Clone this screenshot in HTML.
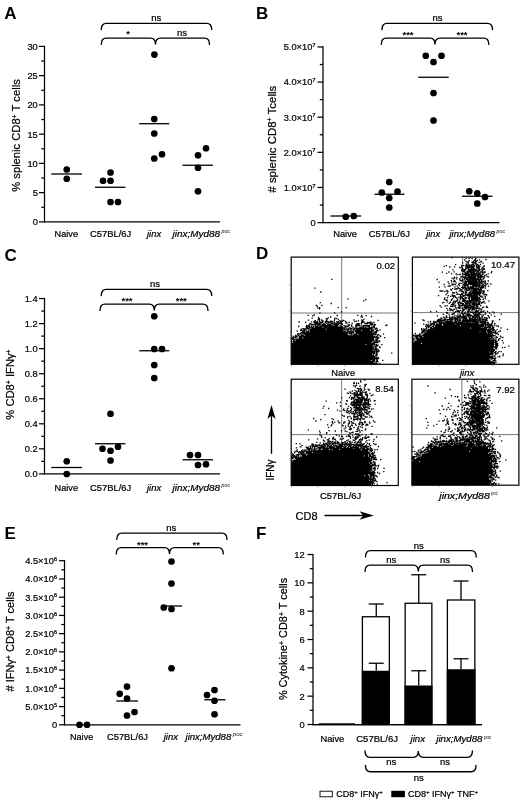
<!DOCTYPE html><html><head><meta charset="utf-8"><style>html,body{margin:0;padding:0;background:#fff}svg{display:block;will-change:transform}</style></head><body><svg width="520" height="801" viewBox="0 0 520 801" font-family="Liberation Sans, sans-serif"><rect width="520" height="801" fill="#fff"/><text x="4.20" y="19.00" font-size="17" text-anchor="start" font-weight="bold" font-style="normal" fill="#000">A</text>
<text x="255.90" y="19.00" font-size="17" text-anchor="start" font-weight="bold" font-style="normal" fill="#000">B</text>
<text x="4.40" y="260.60" font-size="17" text-anchor="start" font-weight="bold" font-style="normal" fill="#000">C</text>
<text x="255.90" y="259.20" font-size="17" text-anchor="start" font-weight="bold" font-style="normal" fill="#000">D</text>
<text x="4.40" y="539.00" font-size="17" text-anchor="start" font-weight="bold" font-style="normal" fill="#000">E</text>
<text x="255.90" y="539.00" font-size="17" text-anchor="start" font-weight="bold" font-style="normal" fill="#000">F</text>
<path d="M44.50,45.78L44.50,222.53" stroke="#000" stroke-width="1.25" fill="none"/>
<path d="M43.88,221.90L220.00,221.90" stroke="#000" stroke-width="1.25" fill="none"/>
<path d="M39.00,221.90L44.50,221.90" stroke="#000" stroke-width="1.25" fill="none"/>
<path d="M39.00,192.65L44.50,192.65" stroke="#000" stroke-width="1.25" fill="none"/>
<path d="M39.00,163.40L44.50,163.40" stroke="#000" stroke-width="1.25" fill="none"/>
<path d="M39.00,134.15L44.50,134.15" stroke="#000" stroke-width="1.25" fill="none"/>
<path d="M39.00,104.90L44.50,104.90" stroke="#000" stroke-width="1.25" fill="none"/>
<path d="M39.00,75.65L44.50,75.65" stroke="#000" stroke-width="1.25" fill="none"/>
<path d="M39.00,46.40L44.50,46.40" stroke="#000" stroke-width="1.25" fill="none"/>
<path d="M41.30,207.28L44.50,207.28" stroke="#000" stroke-width="1.25" fill="none"/>
<path d="M41.30,178.03L44.50,178.03" stroke="#000" stroke-width="1.25" fill="none"/>
<path d="M41.30,148.78L44.50,148.78" stroke="#000" stroke-width="1.25" fill="none"/>
<path d="M41.30,119.53L44.50,119.53" stroke="#000" stroke-width="1.25" fill="none"/>
<path d="M41.30,90.28L44.50,90.28" stroke="#000" stroke-width="1.25" fill="none"/>
<path d="M41.30,61.03L44.50,61.03" stroke="#000" stroke-width="1.25" fill="none"/>
<text x="37.80" y="225.25" font-size="9.3" text-anchor="end" font-weight="normal" font-style="normal" fill="#000" stroke="#000" stroke-width="0.22">0</text>
<text x="37.80" y="196.00" font-size="9.3" text-anchor="end" font-weight="normal" font-style="normal" fill="#000" stroke="#000" stroke-width="0.22">5</text>
<text x="37.80" y="166.75" font-size="9.3" text-anchor="end" font-weight="normal" font-style="normal" fill="#000" stroke="#000" stroke-width="0.22">10</text>
<text x="37.80" y="137.50" font-size="9.3" text-anchor="end" font-weight="normal" font-style="normal" fill="#000" stroke="#000" stroke-width="0.22">15</text>
<text x="37.80" y="108.25" font-size="9.3" text-anchor="end" font-weight="normal" font-style="normal" fill="#000" stroke="#000" stroke-width="0.22">20</text>
<text x="37.80" y="79.00" font-size="9.3" text-anchor="end" font-weight="normal" font-style="normal" fill="#000" stroke="#000" stroke-width="0.22">25</text>
<text x="37.80" y="49.75" font-size="9.3" text-anchor="end" font-weight="normal" font-style="normal" fill="#000" stroke="#000" stroke-width="0.22">30</text>
<text x="20.30" y="135.50" font-size="11.2" text-anchor="middle" font-weight="normal" font-style="normal" fill="#000" transform="rotate(-90 20.30 135.50)" stroke="#000" stroke-width="0.22">% splenic CD8<tspan font-size="7" dy="-3.5">+</tspan><tspan dy="3.5" font-size="1">&#8203;</tspan> T cells</text>
<circle cx="66.75" cy="169.50" r="3.35" fill="#000"/>
<circle cx="66.75" cy="178.75" r="3.35" fill="#000"/>
<circle cx="110.50" cy="172.50" r="3.35" fill="#000"/>
<circle cx="103.00" cy="180.75" r="3.35" fill="#000"/>
<circle cx="110.50" cy="180.75" r="3.35" fill="#000"/>
<circle cx="110.50" cy="202.00" r="3.35" fill="#000"/>
<circle cx="118.00" cy="202.00" r="3.35" fill="#000"/>
<circle cx="154.40" cy="54.60" r="3.35" fill="#000"/>
<circle cx="154.25" cy="119.00" r="3.35" fill="#000"/>
<circle cx="154.25" cy="133.50" r="3.35" fill="#000"/>
<circle cx="154.25" cy="158.50" r="3.35" fill="#000"/>
<circle cx="162.00" cy="154.25" r="3.35" fill="#000"/>
<circle cx="206.00" cy="148.25" r="3.35" fill="#000"/>
<circle cx="198.00" cy="155.25" r="3.35" fill="#000"/>
<circle cx="198.00" cy="167.75" r="3.35" fill="#000"/>
<circle cx="198.00" cy="191.25" r="3.35" fill="#000"/>
<path d="M51.25,174.00L82.00,174.00" stroke="#000" stroke-width="1.3" fill="none"/>
<path d="M95.00,187.25L125.50,187.25" stroke="#000" stroke-width="1.3" fill="none"/>
<path d="M139.25,123.70L169.25,123.70" stroke="#000" stroke-width="1.3" fill="none"/>
<path d="M182.50,165.25L213.00,165.25" stroke="#000" stroke-width="1.3" fill="none"/>
<path d="M101.3,29.6Q101.3,23.3 106.3,23.3L206.7,23.3Q211.7,23.3 211.7,29.6" stroke="#000" stroke-width="1.35" fill="none" stroke-linecap="round"/>
<path d="M101.3,44.4Q101.3,38.1 106.3,38.1L150.5,38.1Q155.5,38.1 155.5,44.4Q155.5,38.1 160.5,38.1L204.5,38.1Q209.5,38.1 209.5,44.4" stroke="#000" stroke-width="1.35" fill="none" stroke-linecap="round"/>
<text x="156.30" y="21.20" font-size="9.5" text-anchor="middle" font-weight="normal" font-style="normal" fill="#000" stroke="#000" stroke-width="0.22">ns</text>
<text x="182.00" y="36.00" font-size="9.5" text-anchor="middle" font-weight="normal" font-style="normal" fill="#000" stroke="#000" stroke-width="0.22">ns</text>
<text x="128.00" y="37.30" font-size="9.5" text-anchor="middle" font-weight="bold" font-style="normal" fill="#000">*</text>
<text x="54.50" y="236.60" font-size="9.3" text-anchor="start" font-weight="normal" font-style="normal" fill="#000" textLength="23.50" lengthAdjust="spacingAndGlyphs" stroke="#000" stroke-width="0.22">Naive</text>
<text x="90.00" y="236.60" font-size="9.3" text-anchor="start" font-weight="normal" font-style="normal" fill="#000" textLength="41.25" lengthAdjust="spacingAndGlyphs" stroke="#000" stroke-width="0.22">C57BL/6J</text>
<text x="147.00" y="236.60" font-size="9.3" text-anchor="start" font-weight="normal" font-style="italic" fill="#000" textLength="14.25" lengthAdjust="spacingAndGlyphs" stroke="#000" stroke-width="0.22">jinx</text>
<text x="172.50" y="236.60" font-size="9.3" text-anchor="start" font-weight="normal" font-style="italic" fill="#000" textLength="47.50" lengthAdjust="spacingAndGlyphs" stroke="#000" stroke-width="0.22">jinx;Myd88</text>
<text x="221.60" y="233.00" font-size="5" text-anchor="start" font-weight="normal" font-style="italic" fill="#000" textLength="8.40" lengthAdjust="spacingAndGlyphs">poc</text>
<path d="M323.00,46.32L323.00,223.22" stroke="#000" stroke-width="1.25" fill="none"/>
<path d="M322.38,222.60L499.50,222.60" stroke="#000" stroke-width="1.25" fill="none"/>
<path d="M317.50,222.60L323.00,222.60" stroke="#000" stroke-width="1.25" fill="none"/>
<path d="M317.50,187.47L323.00,187.47" stroke="#000" stroke-width="1.25" fill="none"/>
<path d="M317.50,152.34L323.00,152.34" stroke="#000" stroke-width="1.25" fill="none"/>
<path d="M317.50,117.21L323.00,117.21" stroke="#000" stroke-width="1.25" fill="none"/>
<path d="M317.50,82.08L323.00,82.08" stroke="#000" stroke-width="1.25" fill="none"/>
<path d="M317.50,46.95L323.00,46.95" stroke="#000" stroke-width="1.25" fill="none"/>
<path d="M319.80,205.03L323.00,205.03" stroke="#000" stroke-width="1.25" fill="none"/>
<path d="M319.80,169.90L323.00,169.90" stroke="#000" stroke-width="1.25" fill="none"/>
<path d="M319.80,134.77L323.00,134.77" stroke="#000" stroke-width="1.25" fill="none"/>
<path d="M319.80,99.64L323.00,99.64" stroke="#000" stroke-width="1.25" fill="none"/>
<path d="M319.80,64.51L323.00,64.51" stroke="#000" stroke-width="1.25" fill="none"/>
<text x="315.70" y="225.95" font-size="9.3" text-anchor="end" font-weight="normal" font-style="normal" fill="#000" stroke="#000" stroke-width="0.22">0</text>
<text x="315.70" y="190.82" font-size="9.3" text-anchor="end" font-weight="normal" font-style="normal" fill="#000" stroke="#000" stroke-width="0.22">1.0×10<tspan font-size="6" dy="-3.2">7</tspan><tspan dy="3.2" font-size="1">&#8203;</tspan></text>
<text x="315.70" y="155.69" font-size="9.3" text-anchor="end" font-weight="normal" font-style="normal" fill="#000" stroke="#000" stroke-width="0.22">2.0×10<tspan font-size="6" dy="-3.2">7</tspan><tspan dy="3.2" font-size="1">&#8203;</tspan></text>
<text x="315.70" y="120.56" font-size="9.3" text-anchor="end" font-weight="normal" font-style="normal" fill="#000" stroke="#000" stroke-width="0.22">3.0×10<tspan font-size="6" dy="-3.2">7</tspan><tspan dy="3.2" font-size="1">&#8203;</tspan></text>
<text x="315.70" y="85.43" font-size="9.3" text-anchor="end" font-weight="normal" font-style="normal" fill="#000" stroke="#000" stroke-width="0.22">4.0×10<tspan font-size="6" dy="-3.2">7</tspan><tspan dy="3.2" font-size="1">&#8203;</tspan></text>
<text x="315.70" y="50.30" font-size="9.3" text-anchor="end" font-weight="normal" font-style="normal" fill="#000" stroke="#000" stroke-width="0.22">5.0×10<tspan font-size="6" dy="-3.2">7</tspan><tspan dy="3.2" font-size="1">&#8203;</tspan></text>
<text x="275.60" y="139.20" font-size="11.45" text-anchor="middle" font-weight="normal" font-style="normal" fill="#000" transform="rotate(-90 275.60 139.20)" stroke="#000" stroke-width="0.22"># splenic CD8<tspan font-size="7" dy="-3.5">+</tspan><tspan dy="3.5" font-size="1">&#8203;</tspan> Tcells</text>
<circle cx="345.75" cy="216.75" r="3.35" fill="#000"/>
<circle cx="353.75" cy="216.00" r="3.35" fill="#000"/>
<circle cx="381.75" cy="192.50" r="3.35" fill="#000"/>
<circle cx="389.25" cy="182.00" r="3.35" fill="#000"/>
<circle cx="397.50" cy="191.50" r="3.35" fill="#000"/>
<circle cx="389.25" cy="198.00" r="3.35" fill="#000"/>
<circle cx="389.25" cy="207.50" r="3.35" fill="#000"/>
<circle cx="425.75" cy="55.75" r="3.35" fill="#000"/>
<circle cx="441.50" cy="55.75" r="3.35" fill="#000"/>
<circle cx="433.50" cy="62.00" r="3.35" fill="#000"/>
<circle cx="433.50" cy="93.00" r="3.35" fill="#000"/>
<circle cx="433.50" cy="120.50" r="3.35" fill="#000"/>
<circle cx="469.25" cy="191.25" r="3.35" fill="#000"/>
<circle cx="477.25" cy="193.25" r="3.35" fill="#000"/>
<circle cx="485.00" cy="197.00" r="3.35" fill="#000"/>
<circle cx="477.25" cy="203.50" r="3.35" fill="#000"/>
<path d="M330.50,216.00L361.25,216.00" stroke="#000" stroke-width="1.3" fill="none"/>
<path d="M374.50,194.25L404.50,194.25" stroke="#000" stroke-width="1.3" fill="none"/>
<path d="M418.25,77.25L448.75,77.25" stroke="#000" stroke-width="1.3" fill="none"/>
<path d="M462.00,196.25L492.50,196.25" stroke="#000" stroke-width="1.3" fill="none"/>
<path d="M382,29.6Q382,23.3 387,23.3L487.5,23.3Q492.5,23.3 492.5,29.6" stroke="#000" stroke-width="1.35" fill="none" stroke-linecap="round"/>
<path d="M381.3,44.4Q381.3,38.1 386.3,38.1L430,38.1Q435,38.1 435,44.4Q435,38.1 440,38.1L483.8,38.1Q488.8,38.1 488.8,44.4" stroke="#000" stroke-width="1.35" fill="none" stroke-linecap="round"/>
<text x="437.50" y="21.20" font-size="9.5" text-anchor="middle" font-weight="normal" font-style="normal" fill="#000" stroke="#000" stroke-width="0.22">ns</text>
<text x="408.00" y="37.50" font-size="9.5" text-anchor="middle" font-weight="bold" font-style="normal" fill="#000">***</text>
<text x="462.00" y="37.50" font-size="9.5" text-anchor="middle" font-weight="bold" font-style="normal" fill="#000">***</text>
<text x="333.25" y="236.60" font-size="9.3" text-anchor="start" font-weight="normal" font-style="normal" fill="#000" textLength="23.75" lengthAdjust="spacingAndGlyphs" stroke="#000" stroke-width="0.22">Naive</text>
<text x="368.75" y="236.60" font-size="9.3" text-anchor="start" font-weight="normal" font-style="normal" fill="#000" textLength="41.25" lengthAdjust="spacingAndGlyphs" stroke="#000" stroke-width="0.22">C57BL/6J</text>
<text x="426.25" y="236.60" font-size="9.3" text-anchor="start" font-weight="normal" font-style="italic" fill="#000" textLength="13.75" lengthAdjust="spacingAndGlyphs" stroke="#000" stroke-width="0.22">jinx</text>
<text x="449.50" y="236.60" font-size="9.3" text-anchor="start" font-weight="normal" font-style="italic" fill="#000" textLength="45.50" lengthAdjust="spacingAndGlyphs" stroke="#000" stroke-width="0.22">jinx;Myd88</text>
<text x="496.60" y="233.00" font-size="5" text-anchor="start" font-weight="normal" font-style="italic" fill="#000" textLength="8.40" lengthAdjust="spacingAndGlyphs">poc</text>
<path d="M44.50,297.92L44.50,474.52" stroke="#000" stroke-width="1.25" fill="none"/>
<path d="M43.88,473.90L220.00,473.90" stroke="#000" stroke-width="1.25" fill="none"/>
<path d="M39.00,473.90L44.50,473.90" stroke="#000" stroke-width="1.25" fill="none"/>
<path d="M39.00,448.85L44.50,448.85" stroke="#000" stroke-width="1.25" fill="none"/>
<path d="M39.00,423.80L44.50,423.80" stroke="#000" stroke-width="1.25" fill="none"/>
<path d="M39.00,398.75L44.50,398.75" stroke="#000" stroke-width="1.25" fill="none"/>
<path d="M39.00,373.70L44.50,373.70" stroke="#000" stroke-width="1.25" fill="none"/>
<path d="M39.00,348.65L44.50,348.65" stroke="#000" stroke-width="1.25" fill="none"/>
<path d="M39.00,323.60L44.50,323.60" stroke="#000" stroke-width="1.25" fill="none"/>
<path d="M39.00,298.55L44.50,298.55" stroke="#000" stroke-width="1.25" fill="none"/>
<path d="M41.30,461.38L44.50,461.38" stroke="#000" stroke-width="1.25" fill="none"/>
<path d="M41.30,436.32L44.50,436.32" stroke="#000" stroke-width="1.25" fill="none"/>
<path d="M41.30,411.27L44.50,411.27" stroke="#000" stroke-width="1.25" fill="none"/>
<path d="M41.30,386.22L44.50,386.22" stroke="#000" stroke-width="1.25" fill="none"/>
<path d="M41.30,361.17L44.50,361.17" stroke="#000" stroke-width="1.25" fill="none"/>
<path d="M41.30,336.12L44.50,336.12" stroke="#000" stroke-width="1.25" fill="none"/>
<path d="M41.30,311.07L44.50,311.07" stroke="#000" stroke-width="1.25" fill="none"/>
<text x="37.60" y="477.25" font-size="9.3" text-anchor="end" font-weight="normal" font-style="normal" fill="#000" stroke="#000" stroke-width="0.22">0.0</text>
<text x="37.60" y="452.20" font-size="9.3" text-anchor="end" font-weight="normal" font-style="normal" fill="#000" stroke="#000" stroke-width="0.22">0.2</text>
<text x="37.60" y="427.15" font-size="9.3" text-anchor="end" font-weight="normal" font-style="normal" fill="#000" stroke="#000" stroke-width="0.22">0.4</text>
<text x="37.60" y="402.10" font-size="9.3" text-anchor="end" font-weight="normal" font-style="normal" fill="#000" stroke="#000" stroke-width="0.22">0.6</text>
<text x="37.60" y="377.05" font-size="9.3" text-anchor="end" font-weight="normal" font-style="normal" fill="#000" stroke="#000" stroke-width="0.22">0.8</text>
<text x="37.60" y="352.00" font-size="9.3" text-anchor="end" font-weight="normal" font-style="normal" fill="#000" stroke="#000" stroke-width="0.22">1.0</text>
<text x="37.60" y="326.95" font-size="9.3" text-anchor="end" font-weight="normal" font-style="normal" fill="#000" stroke="#000" stroke-width="0.22">1.2</text>
<text x="37.60" y="301.90" font-size="9.3" text-anchor="end" font-weight="normal" font-style="normal" fill="#000" stroke="#000" stroke-width="0.22">1.4</text>
<text x="14.20" y="384.50" font-size="11.2" text-anchor="middle" font-weight="normal" font-style="normal" fill="#000" transform="rotate(-90 14.20 384.50)" stroke="#000" stroke-width="0.22">% CD8<tspan font-size="7" dy="-3.5">+</tspan><tspan dy="3.5" font-size="1">&#8203;</tspan> IFNγ<tspan font-size="7" dy="-3.5">+</tspan><tspan dy="3.5" font-size="1">&#8203;</tspan></text>
<circle cx="66.75" cy="461.25" r="3.35" fill="#000"/>
<circle cx="66.75" cy="474.00" r="3.35" fill="#000"/>
<circle cx="110.50" cy="413.75" r="3.35" fill="#000"/>
<circle cx="102.50" cy="448.75" r="3.35" fill="#000"/>
<circle cx="118.00" cy="446.75" r="3.35" fill="#000"/>
<circle cx="110.50" cy="450.75" r="3.35" fill="#000"/>
<circle cx="110.50" cy="460.50" r="3.35" fill="#000"/>
<circle cx="154.25" cy="316.25" r="3.35" fill="#000"/>
<circle cx="154.25" cy="349.00" r="3.35" fill="#000"/>
<circle cx="162.00" cy="349.00" r="3.35" fill="#000"/>
<circle cx="154.25" cy="365.00" r="3.35" fill="#000"/>
<circle cx="154.25" cy="378.00" r="3.35" fill="#000"/>
<circle cx="190.00" cy="455.00" r="3.35" fill="#000"/>
<circle cx="198.00" cy="455.00" r="3.35" fill="#000"/>
<circle cx="198.00" cy="465.00" r="3.35" fill="#000"/>
<circle cx="206.00" cy="464.25" r="3.35" fill="#000"/>
<path d="M51.25,467.50L82.00,467.50" stroke="#000" stroke-width="1.3" fill="none"/>
<path d="M95.00,443.75L125.50,443.75" stroke="#000" stroke-width="1.3" fill="none"/>
<path d="M139.25,350.75L169.25,350.75" stroke="#000" stroke-width="1.3" fill="none"/>
<path d="M182.50,459.75L213.00,459.75" stroke="#000" stroke-width="1.3" fill="none"/>
<path d="M101.3,295.6Q101.3,289.3 106.3,289.3L206.7,289.3Q211.7,289.3 211.7,295.6" stroke="#000" stroke-width="1.35" fill="none" stroke-linecap="round"/>
<path d="M100,310.40000000000003Q100,304.1 105,304.1L149.3,304.1Q154.3,304.1 154.3,310.40000000000003Q154.3,304.1 159.3,304.1L203,304.1Q208,304.1 208,310.40000000000003" stroke="#000" stroke-width="1.35" fill="none" stroke-linecap="round"/>
<text x="155.00" y="287.40" font-size="9.5" text-anchor="middle" font-weight="normal" font-style="normal" fill="#000" stroke="#000" stroke-width="0.22">ns</text>
<text x="127.00" y="304.00" font-size="9.5" text-anchor="middle" font-weight="bold" font-style="normal" fill="#000">***</text>
<text x="181.25" y="304.00" font-size="9.5" text-anchor="middle" font-weight="bold" font-style="normal" fill="#000">***</text>
<text x="54.50" y="490.70" font-size="9.3" text-anchor="start" font-weight="normal" font-style="normal" fill="#000" textLength="23.50" lengthAdjust="spacingAndGlyphs" stroke="#000" stroke-width="0.22">Naive</text>
<text x="90.00" y="490.70" font-size="9.3" text-anchor="start" font-weight="normal" font-style="normal" fill="#000" textLength="41.25" lengthAdjust="spacingAndGlyphs" stroke="#000" stroke-width="0.22">C57BL/6J</text>
<text x="147.00" y="490.70" font-size="9.3" text-anchor="start" font-weight="normal" font-style="italic" fill="#000" textLength="14.25" lengthAdjust="spacingAndGlyphs" stroke="#000" stroke-width="0.22">jinx</text>
<text x="172.50" y="490.70" font-size="9.3" text-anchor="start" font-weight="normal" font-style="italic" fill="#000" textLength="47.50" lengthAdjust="spacingAndGlyphs" stroke="#000" stroke-width="0.22">jinx;Myd88</text>
<text x="221.60" y="487.10" font-size="5" text-anchor="start" font-weight="normal" font-style="italic" fill="#000" textLength="8.40" lengthAdjust="spacingAndGlyphs">poc</text>
<path d="M64.50,560.11L64.50,725.42" stroke="#000" stroke-width="1.25" fill="none"/>
<path d="M63.88,724.80L240.50,724.80" stroke="#000" stroke-width="1.25" fill="none"/>
<path d="M59.00,724.80L64.50,724.80" stroke="#000" stroke-width="1.25" fill="none"/>
<path d="M59.00,706.57L64.50,706.57" stroke="#000" stroke-width="1.25" fill="none"/>
<path d="M59.00,688.34L64.50,688.34" stroke="#000" stroke-width="1.25" fill="none"/>
<path d="M59.00,670.11L64.50,670.11" stroke="#000" stroke-width="1.25" fill="none"/>
<path d="M59.00,651.88L64.50,651.88" stroke="#000" stroke-width="1.25" fill="none"/>
<path d="M59.00,633.65L64.50,633.65" stroke="#000" stroke-width="1.25" fill="none"/>
<path d="M59.00,615.42L64.50,615.42" stroke="#000" stroke-width="1.25" fill="none"/>
<path d="M59.00,597.19L64.50,597.19" stroke="#000" stroke-width="1.25" fill="none"/>
<path d="M59.00,578.96L64.50,578.96" stroke="#000" stroke-width="1.25" fill="none"/>
<path d="M59.00,560.73L64.50,560.73" stroke="#000" stroke-width="1.25" fill="none"/>
<path d="M61.30,715.68L64.50,715.68" stroke="#000" stroke-width="1.25" fill="none"/>
<path d="M61.30,697.45L64.50,697.45" stroke="#000" stroke-width="1.25" fill="none"/>
<path d="M61.30,679.22L64.50,679.22" stroke="#000" stroke-width="1.25" fill="none"/>
<path d="M61.30,661.00L64.50,661.00" stroke="#000" stroke-width="1.25" fill="none"/>
<path d="M61.30,642.76L64.50,642.76" stroke="#000" stroke-width="1.25" fill="none"/>
<path d="M61.30,624.53L64.50,624.53" stroke="#000" stroke-width="1.25" fill="none"/>
<path d="M61.30,606.30L64.50,606.30" stroke="#000" stroke-width="1.25" fill="none"/>
<path d="M61.30,588.07L64.50,588.07" stroke="#000" stroke-width="1.25" fill="none"/>
<path d="M61.30,569.84L64.50,569.84" stroke="#000" stroke-width="1.25" fill="none"/>
<text x="57.20" y="728.15" font-size="9.3" text-anchor="end" font-weight="normal" font-style="normal" fill="#000" stroke="#000" stroke-width="0.22">0</text>
<text x="57.20" y="709.92" font-size="9.3" text-anchor="end" font-weight="normal" font-style="normal" fill="#000" stroke="#000" stroke-width="0.22">5.0×10<tspan font-size="6" dy="-3.2">5</tspan><tspan dy="3.2" font-size="1">&#8203;</tspan></text>
<text x="57.20" y="691.69" font-size="9.3" text-anchor="end" font-weight="normal" font-style="normal" fill="#000" stroke="#000" stroke-width="0.22">1.0×10<tspan font-size="6" dy="-3.2">6</tspan><tspan dy="3.2" font-size="1">&#8203;</tspan></text>
<text x="57.20" y="673.46" font-size="9.3" text-anchor="end" font-weight="normal" font-style="normal" fill="#000" stroke="#000" stroke-width="0.22">1.5×10<tspan font-size="6" dy="-3.2">6</tspan><tspan dy="3.2" font-size="1">&#8203;</tspan></text>
<text x="57.20" y="655.23" font-size="9.3" text-anchor="end" font-weight="normal" font-style="normal" fill="#000" stroke="#000" stroke-width="0.22">2.0×10<tspan font-size="6" dy="-3.2">6</tspan><tspan dy="3.2" font-size="1">&#8203;</tspan></text>
<text x="57.20" y="637.00" font-size="9.3" text-anchor="end" font-weight="normal" font-style="normal" fill="#000" stroke="#000" stroke-width="0.22">2.5×10<tspan font-size="6" dy="-3.2">6</tspan><tspan dy="3.2" font-size="1">&#8203;</tspan></text>
<text x="57.20" y="618.77" font-size="9.3" text-anchor="end" font-weight="normal" font-style="normal" fill="#000" stroke="#000" stroke-width="0.22">3.0×10<tspan font-size="6" dy="-3.2">6</tspan><tspan dy="3.2" font-size="1">&#8203;</tspan></text>
<text x="57.20" y="600.54" font-size="9.3" text-anchor="end" font-weight="normal" font-style="normal" fill="#000" stroke="#000" stroke-width="0.22">3.5×10<tspan font-size="6" dy="-3.2">6</tspan><tspan dy="3.2" font-size="1">&#8203;</tspan></text>
<text x="57.20" y="582.31" font-size="9.3" text-anchor="end" font-weight="normal" font-style="normal" fill="#000" stroke="#000" stroke-width="0.22">4.0×10<tspan font-size="6" dy="-3.2">6</tspan><tspan dy="3.2" font-size="1">&#8203;</tspan></text>
<text x="57.20" y="564.08" font-size="9.3" text-anchor="end" font-weight="normal" font-style="normal" fill="#000" stroke="#000" stroke-width="0.22">4.5×10<tspan font-size="6" dy="-3.2">6</tspan><tspan dy="3.2" font-size="1">&#8203;</tspan></text>
<text x="14.40" y="641.50" font-size="11.0" text-anchor="middle" font-weight="normal" font-style="normal" fill="#000" transform="rotate(-90 14.40 641.50)" stroke="#000" stroke-width="0.22"># IFNγ<tspan font-size="7" dy="-3.5">+</tspan><tspan dy="3.5" font-size="1">&#8203;</tspan> CD8<tspan font-size="7" dy="-3.5">+</tspan><tspan dy="3.5" font-size="1">&#8203;</tspan> T cells</text>
<circle cx="79.50" cy="724.75" r="3.35" fill="#000"/>
<circle cx="87.00" cy="724.75" r="3.35" fill="#000"/>
<circle cx="127.00" cy="686.60" r="3.35" fill="#000"/>
<circle cx="119.70" cy="693.75" r="3.35" fill="#000"/>
<circle cx="127.00" cy="698.50" r="3.35" fill="#000"/>
<circle cx="134.50" cy="712.00" r="3.35" fill="#000"/>
<circle cx="127.00" cy="715.50" r="3.35" fill="#000"/>
<circle cx="171.50" cy="561.50" r="3.35" fill="#000"/>
<circle cx="171.50" cy="583.50" r="3.35" fill="#000"/>
<circle cx="163.75" cy="607.50" r="3.35" fill="#000"/>
<circle cx="171.50" cy="609.00" r="3.35" fill="#000"/>
<circle cx="171.50" cy="668.25" r="3.35" fill="#000"/>
<circle cx="214.50" cy="690.00" r="3.35" fill="#000"/>
<circle cx="207.00" cy="695.00" r="3.35" fill="#000"/>
<circle cx="214.50" cy="700.75" r="3.35" fill="#000"/>
<circle cx="214.50" cy="714.25" r="3.35" fill="#000"/>
<path d="M116.25,701.00L138.00,701.00" stroke="#000" stroke-width="1.3" fill="none"/>
<path d="M161.00,606.00L182.00,606.00" stroke="#000" stroke-width="1.3" fill="none"/>
<path d="M204.25,699.75L225.50,699.75" stroke="#000" stroke-width="1.3" fill="none"/>
<path d="M116.8,539.4Q116.8,533.1 121.8,533.1L222,533.1Q227,533.1 227,539.4" stroke="#000" stroke-width="1.35" fill="none" stroke-linecap="round"/>
<path d="M116.3,553.9Q116.3,547.6 121.3,547.6L164.5,547.6Q169.5,547.6 169.5,553.9Q169.5,547.6 174.5,547.6L218.3,547.6Q223.3,547.6 223.3,553.9" stroke="#000" stroke-width="1.35" fill="none" stroke-linecap="round"/>
<text x="171.30" y="530.80" font-size="9.5" text-anchor="middle" font-weight="normal" font-style="normal" fill="#000" stroke="#000" stroke-width="0.22">ns</text>
<text x="142.50" y="547.50" font-size="9.5" text-anchor="middle" font-weight="bold" font-style="normal" fill="#000">***</text>
<text x="196.25" y="547.50" font-size="9.5" text-anchor="middle" font-weight="bold" font-style="normal" fill="#000">**</text>
<text x="70.00" y="739.70" font-size="9.3" text-anchor="start" font-weight="normal" font-style="normal" fill="#000" textLength="23.25" lengthAdjust="spacingAndGlyphs" stroke="#000" stroke-width="0.22">Naive</text>
<text x="107.00" y="739.70" font-size="9.3" text-anchor="start" font-weight="normal" font-style="normal" fill="#000" textLength="41.00" lengthAdjust="spacingAndGlyphs" stroke="#000" stroke-width="0.22">C57BL/6J</text>
<text x="163.75" y="739.70" font-size="9.3" text-anchor="start" font-weight="normal" font-style="italic" fill="#000" textLength="14.25" lengthAdjust="spacingAndGlyphs" stroke="#000" stroke-width="0.22">jinx</text>
<text x="185.50" y="739.70" font-size="9.3" text-anchor="start" font-weight="normal" font-style="italic" fill="#000" textLength="45.75" lengthAdjust="spacingAndGlyphs" stroke="#000" stroke-width="0.22">jinx;Myd88</text>
<text x="232.85" y="736.10" font-size="5" text-anchor="start" font-weight="normal" font-style="italic" fill="#000" textLength="9.65" lengthAdjust="spacingAndGlyphs">poc</text>
<path d="M313.00,553.89L313.00,725.12" stroke="#000" stroke-width="1.25" fill="none"/>
<path d="M312.38,724.50L482.00,724.50" stroke="#000" stroke-width="1.25" fill="none"/>
<path d="M307.50,724.50L313.00,724.50" stroke="#000" stroke-width="1.25" fill="none"/>
<path d="M307.50,696.17L313.00,696.17" stroke="#000" stroke-width="1.25" fill="none"/>
<path d="M307.50,667.84L313.00,667.84" stroke="#000" stroke-width="1.25" fill="none"/>
<path d="M307.50,639.51L313.00,639.51" stroke="#000" stroke-width="1.25" fill="none"/>
<path d="M307.50,611.18L313.00,611.18" stroke="#000" stroke-width="1.25" fill="none"/>
<path d="M307.50,582.85L313.00,582.85" stroke="#000" stroke-width="1.25" fill="none"/>
<path d="M307.50,554.52L313.00,554.52" stroke="#000" stroke-width="1.25" fill="none"/>
<path d="M309.80,710.34L313.00,710.34" stroke="#000" stroke-width="1.25" fill="none"/>
<path d="M309.80,682.00L313.00,682.00" stroke="#000" stroke-width="1.25" fill="none"/>
<path d="M309.80,653.67L313.00,653.67" stroke="#000" stroke-width="1.25" fill="none"/>
<path d="M309.80,625.35L313.00,625.35" stroke="#000" stroke-width="1.25" fill="none"/>
<path d="M309.80,597.01L313.00,597.01" stroke="#000" stroke-width="1.25" fill="none"/>
<path d="M309.80,568.68L313.00,568.68" stroke="#000" stroke-width="1.25" fill="none"/>
<text x="304.60" y="727.85" font-size="9.3" text-anchor="end" font-weight="normal" font-style="normal" fill="#000" stroke="#000" stroke-width="0.22">0</text>
<text x="304.60" y="699.52" font-size="9.3" text-anchor="end" font-weight="normal" font-style="normal" fill="#000" stroke="#000" stroke-width="0.22">2</text>
<text x="304.60" y="671.19" font-size="9.3" text-anchor="end" font-weight="normal" font-style="normal" fill="#000" stroke="#000" stroke-width="0.22">4</text>
<text x="304.60" y="642.86" font-size="9.3" text-anchor="end" font-weight="normal" font-style="normal" fill="#000" stroke="#000" stroke-width="0.22">6</text>
<text x="304.60" y="614.53" font-size="9.3" text-anchor="end" font-weight="normal" font-style="normal" fill="#000" stroke="#000" stroke-width="0.22">8</text>
<text x="304.60" y="586.20" font-size="9.3" text-anchor="end" font-weight="normal" font-style="normal" fill="#000" stroke="#000" stroke-width="0.22">10</text>
<text x="304.60" y="557.87" font-size="9.3" text-anchor="end" font-weight="normal" font-style="normal" fill="#000" stroke="#000" stroke-width="0.22">12</text>
<text x="287.20" y="639.00" font-size="10.9" text-anchor="middle" font-weight="normal" font-style="normal" fill="#000" transform="rotate(-90 287.20 639.00)" stroke="#000" stroke-width="0.22">% Cytokine<tspan font-size="7" dy="-3.5">+</tspan><tspan dy="3.5" font-size="1">&#8203;</tspan> CD8<tspan font-size="7" dy="-3.5">+</tspan><tspan dy="3.5" font-size="1">&#8203;</tspan> T cells</text>
<rect x="362.40" y="616.75" width="26.95" height="107.75" fill="#fff" stroke="#000" stroke-width="1.3"/>
<rect x="361.75" y="670.75" width="28.25" height="53.75" fill="#000"/>
<path d="M376.25,616.75L376.25,604.00" stroke="#000" stroke-width="1.3" fill="none"/>
<path d="M368.75,604.00L383.75,604.00" stroke="#000" stroke-width="1.3" fill="none"/>
<path d="M376.25,670.75L376.25,663.25" stroke="#000" stroke-width="1.3" fill="none"/>
<path d="M368.75,663.25L383.75,663.25" stroke="#000" stroke-width="1.3" fill="none"/>
<rect x="405.15" y="603.25" width="26.70" height="121.25" fill="#fff" stroke="#000" stroke-width="1.3"/>
<rect x="404.50" y="685.50" width="28.00" height="39.00" fill="#000"/>
<path d="M418.75,603.25L418.75,574.75" stroke="#000" stroke-width="1.3" fill="none"/>
<path d="M411.25,574.75L426.25,574.75" stroke="#000" stroke-width="1.3" fill="none"/>
<path d="M418.75,685.50L418.75,670.75" stroke="#000" stroke-width="1.3" fill="none"/>
<path d="M411.25,670.75L426.25,670.75" stroke="#000" stroke-width="1.3" fill="none"/>
<rect x="447.40" y="600.00" width="27.45" height="124.50" fill="#fff" stroke="#000" stroke-width="1.3"/>
<rect x="446.75" y="669.25" width="28.75" height="55.25" fill="#000"/>
<path d="M461.00,600.00L461.00,581.00" stroke="#000" stroke-width="1.3" fill="none"/>
<path d="M453.50,581.00L468.50,581.00" stroke="#000" stroke-width="1.3" fill="none"/>
<path d="M461.00,669.25L461.00,658.75" stroke="#000" stroke-width="1.3" fill="none"/>
<path d="M453.50,658.75L468.50,658.75" stroke="#000" stroke-width="1.3" fill="none"/>
<path d="M318.75,723.60L355.00,723.60" stroke="#000" stroke-width="0.8" fill="none"/>
<path d="M312.38,724.50L482.00,724.50" stroke="#000" stroke-width="1.25" fill="none"/>
<path d="M365.5,556.9Q365.5,550.6 370.5,550.6L471.25,550.6Q476.25,550.6 476.25,556.9" stroke="#000" stroke-width="1.35" fill="none" stroke-linecap="round"/>
<path d="M365,571.4Q365,565.1 370,565.1L413.3,565.1Q418.3,565.1 418.3,571.4Q418.3,565.1 423.3,565.1L467.5,565.1Q472.5,565.1 472.5,571.4" stroke="#000" stroke-width="1.35" fill="none" stroke-linecap="round"/>
<text x="418.75" y="548.70" font-size="9.5" text-anchor="middle" font-weight="normal" font-style="normal" fill="#000" stroke="#000" stroke-width="0.22">ns</text>
<text x="391.25" y="563.20" font-size="9.5" text-anchor="middle" font-weight="normal" font-style="normal" fill="#000" stroke="#000" stroke-width="0.22">ns</text>
<text x="445.00" y="563.20" font-size="9.5" text-anchor="middle" font-weight="normal" font-style="normal" fill="#000" stroke="#000" stroke-width="0.22">ns</text>
<text x="320.50" y="742.30" font-size="9.3" text-anchor="start" font-weight="normal" font-style="normal" fill="#000" textLength="23.75" lengthAdjust="spacingAndGlyphs" stroke="#000" stroke-width="0.22">Naive</text>
<text x="356.25" y="742.30" font-size="9.3" text-anchor="start" font-weight="normal" font-style="normal" fill="#000" textLength="41.75" lengthAdjust="spacingAndGlyphs" stroke="#000" stroke-width="0.22">C57BL/6J</text>
<text x="410.50" y="742.30" font-size="9.3" text-anchor="start" font-weight="normal" font-style="italic" fill="#000" textLength="14.50" lengthAdjust="spacingAndGlyphs" stroke="#000" stroke-width="0.22">jinx</text>
<text x="436.25" y="742.30" font-size="9.3" text-anchor="start" font-weight="normal" font-style="italic" fill="#000" textLength="46.15" lengthAdjust="spacingAndGlyphs" stroke="#000" stroke-width="0.22">jinx;Myd88</text>
<text x="484.00" y="738.70" font-size="5" text-anchor="start" font-weight="normal" font-style="italic" fill="#000" textLength="7.40" lengthAdjust="spacingAndGlyphs">poc</text>
<path d="M365,751.0Q365,757.3 370,757.3L413.3,757.3Q418.3,757.3 418.3,751.0Q418.3,757.3 423.3,757.3L467.4,757.3Q472.4,757.3 472.4,751.0" stroke="#000" stroke-width="1.35" fill="none" stroke-linecap="round"/>
<path d="M365.5,765.4000000000001Q365.5,771.7 370.5,771.7L471,771.7Q476,771.7 476,765.4000000000001" stroke="#000" stroke-width="1.35" fill="none" stroke-linecap="round"/>
<text x="391.25" y="765.00" font-size="9.5" text-anchor="middle" font-weight="normal" font-style="normal" fill="#000" stroke="#000" stroke-width="0.22">ns</text>
<text x="445.00" y="765.00" font-size="9.5" text-anchor="middle" font-weight="normal" font-style="normal" fill="#000" stroke="#000" stroke-width="0.22">ns</text>
<text x="418.75" y="780.70" font-size="9.5" text-anchor="middle" font-weight="normal" font-style="normal" fill="#000" stroke="#000" stroke-width="0.22">ns</text>
<rect x="320" y="791.2" width="12.3" height="5.6" fill="#fff" stroke="#000" stroke-width="0.9"/>
<text x="336.25" y="797.00" font-size="9" text-anchor="start" font-weight="normal" font-style="normal" fill="#000" stroke="#000" stroke-width="0.22">CD8<tspan font-size="6" dy="-3">+</tspan><tspan dy="3" font-size="1">&#8203;</tspan> IFNγ<tspan font-size="6" dy="-3">+</tspan><tspan dy="3" font-size="1">&#8203;</tspan></text>
<rect x="391.3" y="790.8" width="13.6" height="6.4" fill="#000"/>
<text x="408.00" y="797.00" font-size="9" text-anchor="start" font-weight="normal" font-style="normal" fill="#000" stroke="#000" stroke-width="0.22">CD8<tspan font-size="6" dy="-3">+</tspan><tspan dy="3" font-size="1">&#8203;</tspan> IFNγ<tspan font-size="6" dy="-3">+</tspan><tspan dy="3" font-size="1">&#8203;</tspan> TNF<tspan font-size="6" dy="-3">+</tspan><tspan dy="3" font-size="1">&#8203;</tspan></text>
<clipPath id="c1"><rect x="291.2" y="257.1" width="107.1" height="107.2"/></clipPath>
<path d="M341.70,257.10L341.70,364.30" stroke="#555" stroke-width="0.8" fill="none"/>
<path d="M291.20,313.00L398.30,313.00" stroke="#555" stroke-width="0.8" fill="none"/>
<g clip-path="url(#c1)">
<polygon points="290.5,340.6 291.4,340.6 291.7,339.3 292.8,340.2 293.2,339.0 294.0,339.1 295.2,339.3 295.3,338.1 296.5,338.6 296.6,337.5 297.7,337.8 298.2,337.4 298.5,336.4 298.7,335.2 300.3,335.8 300.7,335.1 300.6,334.0 300.6,332.9 301.7,333.0 302.5,332.7 302.1,331.3 304.1,332.2 303.4,330.4 304.8,330.8 305.5,330.5 306.1,330.0 306.3,329.2 306.1,327.9 307.6,328.3 307.4,327.3 307.9,326.8 308.8,326.9 309.2,326.2 310.4,326.7 311.0,326.3 311.4,325.6 311.3,324.4 312.1,324.8 312.8,324.9 313.4,324.2 314.2,324.4 315.0,324.5 315.5,323.3 316.2,323.4 317.1,324.2 317.6,323.4 318.3,323.4 318.9,322.6 319.7,322.8 320.5,323.7 321.0,322.2 321.9,324.0 322.6,323.2 323.2,322.4 324.0,323.7 324.7,322.9 325.5,323.8 326.0,322.4 326.7,322.1 327.4,322.6 328.1,321.9 328.8,323.1 329.5,322.3 330.2,322.5 330.9,322.5 331.6,322.8 332.3,322.0 333.0,321.8 333.6,323.0 334.3,322.7 334.8,324.1 335.8,322.8 336.4,323.0 337.3,322.4 337.9,322.9 338.4,324.1 339.2,324.0 340.0,323.5 339.9,324.8 341.0,324.3 341.3,325.2 341.9,325.6 342.6,326.1 343.9,325.0 343.9,326.6 344.1,326.1 344.7,326.5 346.0,326.7 344.8,328.1 345.8,328.4 346.4,328.9 347.4,329.2 347.6,329.9 348.0,330.5 347.3,331.8 348.0,332.2 348.3,332.9 349.6,332.9 350.1,333.4 349.1,335.0 352.4,335.6 352.7,334.9 353.0,334.3 353.0,333.4 353.2,332.6 354.2,332.4 355.0,332.1 354.7,331.0 355.2,330.4 355.1,329.5 354.7,328.5 355.6,328.1 356.2,327.7 356.4,326.9 356.6,326.2 357.3,327.1 357.1,325.1 357.9,325.1 358.4,324.6 359.1,324.4 360.1,324.9 360.8,324.6 360.9,325.1 361.6,323.9 362.3,325.1 363.1,325.1 363.7,324.7 364.5,324.8 365.1,324.4 365.9,325.0 366.6,325.1 366.8,324.7 367.5,325.0 368.3,324.6 368.9,325.4 370.0,323.8 370.5,324.5 371.0,325.6 371.0,325.1 371.7,325.6 372.3,326.2 372.6,327.1 374.3,326.6 375.1,327.0 374.2,328.0 374.4,328.7 373.7,329.7 374.0,330.4 374.7,331.0 374.7,331.8 376.1,332.3 374.8,332.9 374.5,333.6 376.5,334.3 375.6,335.0 374.7,335.8 375.6,336.5 374.5,337.2 375.6,337.9 376.6,338.6 376.3,339.3 376.0,340.0 375.0,340.7 375.2,341.4 374.8,342.1 376.1,342.8 375.6,343.5 376.2,344.2 375.2,345.0 375.0,345.7 376.3,346.3 376.7,347.0 376.5,347.8 376.4,348.5 376.5,349.2 376.3,349.9 375.2,350.6 375.9,351.3 375.5,352.0 374.9,352.8 374.9,353.5 375.5,354.1 375.4,354.8 376.4,355.5 377.0,356.2 375.8,356.9 376.9,357.6 377.0,358.3 376.9,359.0 375.6,359.7 375.3,360.4 375.3,361.1 375.3,361.8 375.3,362.5 376.2,363.3 376.8,364.0 376.7,364.7 375.9,365.4 376.3,366.1 376.6,366.8 375.0,367.5 376.3,368.2 376.9,368.9 376.9,367.3 290.0,367.3" fill="#000"/>
<path d="M292.7,342.4h.01M292.5,340.7h.01M292.0,340.9h.01M295.2,340.2h.01M298.5,337.1h.01M296.4,338.2h.01M298.1,338.4h.01M298.1,336.6h.01M304.8,335.2h.01M301.6,333.6h.01M300.5,334.6h.01M302.9,337.9h.01M303.0,334.5h.01M309.5,331.0h.01M307.1,330.1h.01M307.5,330.3h.01M307.3,330.4h.01M305.6,331.9h.01M310.7,328.2h.01M308.1,327.5h.01M309.0,329.4h.01M312.3,326.4h.01M314.3,327.2h.01M316.6,325.2h.01M313.1,325.2h.01M314.2,325.0h.01M314.4,326.0h.01M325.5,323.0h.01M322.4,323.2h.01M318.9,326.2h.01M322.9,327.2h.01M321.4,323.3h.01M321.0,324.8h.01M326.2,329.2h.01M329.0,323.7h.01M326.6,324.5h.01M327.3,323.1h.01M326.1,322.8h.01M330.3,323.0h.01M340.3,324.2h.01M339.5,324.1h.01M332.0,324.8h.01M333.9,325.2h.01M333.7,323.1h.01M338.4,325.8h.01M339.1,326.0h.01M340.0,325.6h.01M343.1,326.5h.01M344.4,326.6h.01M343.9,328.0h.01M344.5,325.9h.01M343.9,330.4h.01M344.2,326.5h.01M346.2,329.7h.01M345.9,330.7h.01M346.8,331.6h.01M348.1,333.9h.01M348.9,334.0h.01M348.8,334.8h.01M355.0,333.4h.01M353.7,333.9h.01M357.9,334.4h.01M355.1,332.6h.01M355.5,329.5h.01M359.0,326.9h.01M357.5,327.0h.01M361.6,330.7h.01M358.2,327.4h.01M358.7,326.5h.01M361.2,325.1h.01M360.6,326.2h.01M362.0,326.8h.01M362.7,324.2h.01M362.6,325.1h.01M364.7,326.9h.01M366.5,324.2h.01M366.3,326.8h.01M370.9,326.3h.01M367.7,327.3h.01M370.5,326.7h.01M371.3,325.7h.01M370.6,326.0h.01M373.4,327.4h.01M370.5,330.1h.01M372.9,329.0h.01M374.0,331.5h.01M373.8,328.6h.01M372.7,332.3h.01M374.5,330.0h.01M373.1,341.5h.01M374.0,335.4h.01M372.0,342.4h.01M374.4,338.5h.01M375.1,339.2h.01M375.1,335.0h.01M374.7,340.3h.01M374.6,338.9h.01M375.2,338.4h.01M366.1,344.4h.01M375.4,347.5h.01M373.2,350.3h.01M374.0,345.3h.01M374.4,347.2h.01M375.4,343.8h.01M372.6,354.2h.01M374.3,348.8h.01M373.1,346.4h.01M371.2,360.4h.01M375.5,354.6h.01M375.7,356.8h.01M374.5,354.8h.01M374.4,355.0h.01M375.6,360.0h.01M374.2,362.4h.01" stroke="#fff" stroke-width="0.9" stroke-linecap="square" fill="none"/>
<path d="M293.3,336.5h.01M292.2,339.0h.01M291.7,338.7h.01M293.3,338.6h.01M292.9,338.4h.01M292.7,338.0h.01M296.4,337.1h.01M295.7,336.7h.01M298.1,335.4h.01M296.2,336.1h.01M294.3,337.6h.01M293.5,336.3h.01M295.7,335.5h.01M295.5,336.6h.01M297.9,336.2h.01M295.5,337.3h.01M296.2,336.0h.01M298.1,335.3h.01M296.3,336.2h.01M296.0,336.2h.01M301.8,330.4h.01M302.8,331.4h.01M301.1,329.7h.01M298.1,333.7h.01M298.2,334.2h.01M302.7,331.7h.01M301.7,332.7h.01M302.9,331.3h.01M300.1,333.3h.01M302.4,332.0h.01M300.8,333.1h.01M297.2,331.1h.01M300.9,333.8h.01M300.8,330.7h.01M297.7,333.9h.01M299.1,334.6h.01M306.5,327.7h.01M306.3,326.7h.01M303.6,331.0h.01M305.0,329.6h.01M299.2,322.0h.01M301.5,329.1h.01M303.9,329.2h.01M304.3,330.2h.01M304.2,330.3h.01M303.3,331.0h.01M303.1,328.7h.01M305.2,329.1h.01M298.6,326.5h.01M305.4,328.9h.01M307.2,327.4h.01M304.4,328.9h.01M304.2,329.0h.01M311.2,324.1h.01M309.6,324.1h.01M308.8,326.3h.01M306.6,325.4h.01M308.0,326.8h.01M310.2,323.6h.01M308.2,326.2h.01M307.6,326.2h.01M308.5,320.2h.01M305.7,322.4h.01M308.9,326.4h.01M308.9,325.2h.01M309.5,325.9h.01M307.2,326.3h.01M308.5,326.2h.01M314.3,322.0h.01M315.3,320.7h.01M312.2,318.2h.01M314.2,315.0h.01M316.7,322.1h.01M316.4,323.5h.01M314.0,321.4h.01M316.3,322.4h.01M315.3,322.1h.01M311.5,324.5h.01M311.5,321.9h.01M315.0,322.5h.01M314.4,324.1h.01M315.9,322.7h.01M315.5,323.8h.01M312.9,324.3h.01M315.9,323.5h.01M317.3,322.5h.01M314.0,322.4h.01M322.7,321.3h.01M319.5,321.2h.01M322.2,320.7h.01M323.1,321.1h.01M319.9,322.1h.01M321.5,322.9h.01M318.7,317.6h.01M317.6,322.5h.01M325.7,321.8h.01M318.9,318.9h.01M322.5,322.7h.01M325.6,322.4h.01M321.6,319.8h.01M319.2,319.9h.01M317.8,323.4h.01M321.4,322.5h.01M320.4,322.6h.01M317.4,321.4h.01M318.2,319.5h.01M325.2,322.2h.01M319.9,313.1h.01M320.6,322.3h.01M318.0,323.3h.01M319.6,319.1h.01M319.7,322.2h.01M328.3,317.9h.01M331.1,321.1h.01M331.9,321.4h.01M326.3,320.6h.01M330.7,321.1h.01M326.3,318.7h.01M329.0,322.0h.01M330.7,317.0h.01M330.1,322.1h.01M328.5,322.3h.01M327.3,319.1h.01M327.4,319.1h.01M328.8,322.4h.01M326.5,320.5h.01M327.6,321.4h.01M330.7,321.8h.01M329.3,321.9h.01M326.4,322.1h.01M326.8,321.6h.01M339.5,323.3h.01M334.4,322.2h.01M340.7,321.0h.01M332.4,322.6h.01M339.9,322.8h.01M332.3,321.9h.01M339.6,320.8h.01M334.3,322.8h.01M336.9,321.6h.01M338.5,322.0h.01M337.2,315.5h.01M334.7,319.2h.01M334.8,322.8h.01M337.7,322.2h.01M336.8,322.0h.01M334.4,320.4h.01M336.8,318.5h.01M339.8,322.8h.01M335.0,318.1h.01M334.8,323.0h.01M338.0,322.7h.01M338.4,319.6h.01M332.6,322.0h.01M338.0,323.1h.01M338.6,322.5h.01M345.1,325.6h.01M341.6,324.0h.01M343.8,320.4h.01M341.4,323.9h.01M345.5,321.4h.01M342.4,324.4h.01M342.4,321.3h.01M346.0,323.0h.01M346.8,322.5h.01M343.1,320.5h.01M341.3,322.4h.01M342.4,324.1h.01M340.6,323.4h.01M344.9,325.8h.01M341.6,323.7h.01M350.2,328.1h.01M349.0,325.8h.01M348.5,326.0h.01M347.8,329.4h.01M348.1,324.3h.01M349.7,327.9h.01M349.6,324.9h.01M347.0,326.2h.01M345.4,327.1h.01M348.5,329.7h.01M345.1,325.7h.01M351.3,328.4h.01M346.1,326.6h.01M347.5,330.3h.01M348.9,328.3h.01M346.8,328.5h.01M347.3,326.7h.01M350.4,333.5h.01M349.4,332.9h.01M355.4,331.0h.01M347.8,331.2h.01M350.1,333.4h.01M349.8,331.9h.01M351.8,332.5h.01M350.1,329.9h.01M349.6,332.9h.01M348.3,331.5h.01M350.6,329.8h.01M349.0,331.9h.01M349.1,332.8h.01M352.4,331.6h.01M352.0,332.8h.01M350.2,333.9h.01M353.3,330.3h.01M350.2,331.9h.01M350.5,332.8h.01M350.8,333.9h.01M351.7,333.8h.01M351.9,334.0h.01M351.2,330.9h.01M353.3,332.1h.01M350.2,333.0h.01M351.7,334.8h.01M351.8,331.9h.01M352.9,331.7h.01M348.7,331.3h.01M352.7,332.4h.01M349.3,322.4h.01M353.3,328.9h.01M351.4,329.1h.01M356.0,326.3h.01M351.8,326.3h.01M351.6,325.1h.01M354.6,328.4h.01M354.3,328.9h.01M353.9,329.8h.01M356.8,325.8h.01M352.2,323.4h.01M351.2,328.7h.01M355.7,325.5h.01M352.9,328.9h.01M353.1,327.4h.01M354.6,329.7h.01M355.3,327.8h.01M357.1,323.9h.01M356.5,324.9h.01M354.8,321.5h.01M358.6,323.6h.01M358.1,324.1h.01M359.4,323.9h.01M356.3,324.8h.01M356.9,323.7h.01M358.7,324.9h.01M357.2,325.7h.01M356.8,325.1h.01M354.0,319.9h.01M358.5,320.8h.01M356.5,321.2h.01M366.1,315.6h.01M366.1,323.6h.01M363.9,319.3h.01M361.9,321.7h.01M361.3,323.4h.01M361.8,320.7h.01M366.1,323.7h.01M366.7,323.6h.01M364.1,322.2h.01M361.8,319.9h.01M366.6,323.6h.01M361.6,322.9h.01M363.1,320.9h.01M363.8,300.8h.01M364.9,323.2h.01M362.3,317.1h.01M363.1,321.9h.01M361.7,315.5h.01M362.5,322.5h.01M370.2,322.9h.01M367.0,323.8h.01M370.2,323.7h.01M371.4,324.6h.01M370.8,321.8h.01M367.7,323.3h.01M370.1,323.2h.01M370.3,323.6h.01M371.7,324.5h.01M367.8,322.5h.01M371.0,323.9h.01M367.4,322.4h.01M369.1,322.7h.01M372.0,322.9h.01M374.2,327.3h.01M378.1,320.4h.01M372.3,323.9h.01M372.1,324.9h.01M374.0,325.1h.01M372.4,324.8h.01M373.9,322.5h.01M373.6,326.8h.01M374.3,326.2h.01M374.3,324.5h.01M372.0,324.4h.01M375.5,324.8h.01M375.7,328.5h.01M376.4,331.6h.01M380.0,329.8h.01M375.5,332.4h.01M376.5,328.1h.01M375.9,331.5h.01M375.1,329.1h.01M376.8,330.5h.01M376.5,332.8h.01M378.0,330.7h.01M376.5,331.2h.01M385.9,325.6h.01M386.8,325.0h.01M375.7,329.0h.01M376.7,331.0h.01M375.4,331.6h.01M377.2,328.8h.01M375.6,332.5h.01M377.6,342.6h.01M375.7,334.1h.01M377.1,341.5h.01M377.0,339.6h.01M376.0,340.9h.01M375.7,337.4h.01M377.5,335.9h.01M380.6,336.3h.01M378.9,341.9h.01M377.8,337.5h.01M376.8,340.4h.01M375.8,342.1h.01M375.6,334.7h.01M379.6,341.0h.01M378.0,338.1h.01M376.3,338.2h.01M379.9,335.7h.01M377.4,335.2h.01M383.5,334.1h.01M377.9,340.3h.01M376.4,336.7h.01M375.8,342.4h.01M376.0,333.2h.01M376.7,342.5h.01M376.0,342.3h.01M377.7,338.6h.01M376.3,339.8h.01M378.4,334.6h.01M375.9,340.8h.01M376.9,341.1h.01M378.9,337.8h.01M376.2,345.6h.01M376.2,352.5h.01M376.3,346.1h.01M376.3,345.2h.01M391.7,353.2h.01M376.4,344.6h.01M377.9,351.9h.01M377.6,345.5h.01M375.8,347.7h.01M377.7,351.8h.01M376.8,350.2h.01M376.7,349.9h.01M376.9,353.1h.01M376.8,351.4h.01M379.1,351.1h.01M378.8,350.8h.01M376.8,350.3h.01M376.0,350.2h.01M377.8,351.7h.01M376.6,346.2h.01M376.7,350.1h.01M376.3,353.4h.01M376.7,351.7h.01M376.1,353.9h.01M378.0,345.2h.01M376.0,349.0h.01M377.7,349.2h.01M378.5,350.2h.01M380.2,347.7h.01M376.7,350.8h.01M381.9,344.6h.01M376.5,354.9h.01M376.9,354.3h.01M378.1,357.4h.01M376.4,361.9h.01M376.4,359.9h.01M377.3,361.0h.01M377.2,358.4h.01M376.8,358.0h.01M382.7,360.4h.01M376.5,358.3h.01M376.9,361.2h.01M376.7,363.9h.01M376.3,355.6h.01M379.4,364.0h.01M378.1,361.9h.01M376.3,357.6h.01M377.0,355.0h.01M377.1,361.4h.01M377.3,361.0h.01M376.1,363.5h.01M380.1,364.2h.01M376.7,363.3h.01M377.0,359.5h.01M377.3,360.3h.01M331.8,279.3h.01M315.0,288.1h.01M320.8,292.0h.01M348.0,298.9h.01M365.8,299.6h.01M320.3,302.6h.01M331.2,303.5h.01M317.3,306.5h.01M321.9,305.4h.01M338.1,307.7h.01M334.6,312.8h.01M357.7,315.3h.01M371.5,316.5h.01M384.7,337.7h.01M379.6,346.9h.01M378.5,358.5h.01M319.6,308.9h.01M341.5,311.9h.01M361.2,316.9h.01M312.7,315.8h.01M308.1,315.3h.01M319.6,307.7h.01M318.0,308.2h.01M346.2,307.7h.01M316.2,305.4h.01" stroke="#000" stroke-width="1.3" stroke-linecap="square" fill="none"/>
</g>
<rect x="291.2" y="257.1" width="107.1" height="107.2" fill="none" stroke="#000" stroke-width="1.2"/>
<path d="M289.00,337.80L290.60,337.80" stroke="#888" stroke-width="0.6" fill="none"/>
<path d="M318.00,364.90L318.00,366.50" stroke="#888" stroke-width="0.6" fill="none"/>
<path d="M289.00,311.30L290.60,311.30" stroke="#888" stroke-width="0.6" fill="none"/>
<path d="M344.80,364.90L344.80,366.50" stroke="#888" stroke-width="0.6" fill="none"/>
<path d="M289.00,284.80L290.60,284.80" stroke="#888" stroke-width="0.6" fill="none"/>
<path d="M371.60,364.90L371.60,366.50" stroke="#888" stroke-width="0.6" fill="none"/>
<path d="M291.50,364.90L291.50,366.50" stroke="#888" stroke-width="0.6" fill="none"/>
<text x="395.20" y="268.70" font-size="9.6" text-anchor="end" font-weight="normal" font-style="normal" fill="#000" stroke="#000" stroke-width="0.22">0.02</text>
<clipPath id="c2"><rect x="412.4" y="257.1" width="106.5" height="107.2"/></clipPath>
<path d="M462.60,257.10L462.60,364.30" stroke="#555" stroke-width="0.8" fill="none"/>
<path d="M412.40,312.60L518.90,312.60" stroke="#555" stroke-width="0.8" fill="none"/>
<g clip-path="url(#c2)">
<polygon points="410.7,342.3 411.3,341.8 412.2,341.9 411.9,340.0 412.5,339.6 414.1,340.5 414.9,340.5 415.3,339.6 415.8,339.0 415.8,337.6 416.4,337.2 417.1,336.8 418.8,337.7 418.4,335.9 419.1,335.6 419.8,335.2 419.9,334.1 422.0,335.1 422.4,334.4 421.9,332.9 422.2,332.1 423.1,332.0 424.2,332.1 424.3,331.1 424.6,330.3 426.0,330.9 426.3,330.1 426.9,329.7 427.7,329.4 427.8,328.3 428.8,328.4 429.3,327.8 430.0,327.5 429.8,326.1 431.3,326.7 430.9,325.1 431.9,325.7 432.7,325.7 432.5,323.6 433.8,324.7 433.7,322.9 434.4,322.8 435.0,322.4 436.4,323.6 436.7,322.6 437.7,323.0 437.5,321.1 438.3,321.1 439.1,321.3 439.9,321.5 440.7,321.6 441.1,320.4 442.0,321.0 442.6,320.5 443.6,321.3 444.2,321.0 445.0,321.2 445.4,319.6 446.0,319.8 446.7,320.7 447.4,319.1 448.1,320.4 448.8,320.1 449.5,320.6 450.2,320.4 450.9,319.1 451.6,320.3 452.3,320.6 453.0,319.9 453.7,320.3 454.4,319.0 454.9,320.8 455.8,319.0 456.3,321.1 457.2,319.4 457.9,320.0 458.5,321.0 459.2,320.5 459.9,321.1 460.6,321.2 461.3,321.4 462.0,321.1 462.9,319.9 463.6,319.9 464.3,320.2 464.8,322.0 465.6,321.7 466.4,320.4 466.9,322.3 467.8,320.9 468.4,322.0 469.2,320.5 469.7,322.7 470.6,321.0 471.2,322.1 471.9,322.6 472.6,323.0 473.4,321.3 474.1,322.0 474.7,322.9 475.4,322.4 476.3,321.4 476.8,323.1 477.6,322.4 478.2,323.4 478.9,323.4 479.8,322.2 480.5,322.4 481.0,323.6 481.1,323.8 481.7,324.1 482.9,323.4 483.4,323.9 483.8,324.7 484.4,325.1 485.4,324.6 486.1,324.8 486.9,324.9 487.3,325.6 487.2,326.5 487.6,327.2 489.1,326.6 489.3,327.6 490.3,327.5 490.0,329.1 491.6,328.3 491.5,329.6 492.8,329.2 493.4,329.5 492.8,330.5 492.1,331.5 494.2,331.6 493.5,332.6 494.6,333.0 493.5,334.2 493.6,334.9 495.2,335.2 494.4,336.0 494.0,336.7 494.6,337.4 495.2,338.0 494.0,338.9 495.2,339.5 495.1,340.2 495.3,340.9 494.6,341.7 495.9,342.2 496.3,342.9 496.5,343.6 495.4,344.1 496.1,344.9 495.3,345.5 496.0,346.3 494.4,346.9 496.1,347.8 496.2,348.5 495.1,349.1 495.1,349.8 495.0,350.5 494.9,351.2 493.7,351.8 495.7,352.7 494.0,353.2 493.8,353.9 493.5,354.6 493.7,355.4 494.9,356.3 493.0,356.8 493.1,357.5 494.3,358.4 493.1,359.0 492.6,359.6 493.7,360.5 493.6,361.2 493.4,361.9 493.6,362.7 492.2,363.3 493.8,364.2 493.4,364.9 491.8,365.4 491.9,366.1 493.6,367.1 493.6,367.3 410.0,367.3" fill="#000"/>
<path d="M416.1,340.1h.01M415.7,340.1h.01M414.0,341.6h.01M423.0,336.7h.01M420.9,335.2h.01M419.2,337.7h.01M421.5,343.5h.01M422.9,333.7h.01M423.0,333.5h.01M425.9,331.8h.01M424.1,332.9h.01M422.0,334.7h.01M432.7,327.7h.01M431.3,326.1h.01M426.8,329.3h.01M429.4,328.0h.01M429.1,328.7h.01M429.7,327.8h.01M430.8,326.3h.01M438.1,323.4h.01M432.2,325.5h.01M435.4,324.2h.01M435.5,323.9h.01M434.5,326.6h.01M434.4,326.0h.01M444.9,321.8h.01M442.7,325.3h.01M442.3,324.4h.01M438.5,322.8h.01M443.2,320.8h.01M445.1,320.4h.01M442.9,321.1h.01M453.8,321.3h.01M452.7,321.1h.01M451.7,321.8h.01M448.5,320.4h.01M453.1,320.2h.01M453.7,320.4h.01M446.8,320.1h.01M460.3,325.6h.01M457.6,322.1h.01M456.0,324.0h.01M460.1,321.0h.01M454.5,321.9h.01M454.3,322.9h.01M456.7,320.7h.01M468.9,322.3h.01M468.7,321.9h.01M472.4,322.6h.01M471.7,322.2h.01M470.6,328.1h.01M466.9,321.5h.01M466.6,323.1h.01M465.0,322.5h.01M463.7,322.1h.01M479.4,323.8h.01M479.0,323.0h.01M480.3,323.2h.01M480.0,331.9h.01M481.1,324.3h.01M475.7,323.1h.01M479.5,324.0h.01M487.3,326.1h.01M483.1,327.4h.01M484.7,326.1h.01M481.9,323.5h.01M481.6,327.1h.01M486.6,326.1h.01M492.4,330.0h.01M487.3,332.9h.01M486.5,331.2h.01M491.0,328.9h.01M488.8,328.2h.01M487.5,328.8h.01M490.5,331.7h.01M493.0,331.7h.01M493.5,333.4h.01M491.3,334.1h.01M492.8,333.9h.01M491.5,330.4h.01M493.0,337.0h.01M493.4,337.2h.01M494.2,339.0h.01M495.0,341.6h.01M490.3,337.9h.01M492.0,339.1h.01M494.5,343.5h.01M495.3,345.4h.01M494.5,351.6h.01M493.9,348.2h.01M494.5,345.0h.01M494.3,345.4h.01M494.4,348.3h.01M494.6,345.7h.01M493.9,355.5h.01M490.8,355.5h.01M490.0,359.3h.01M490.0,352.1h.01M491.1,359.2h.01M491.5,360.5h.01M491.9,355.6h.01M493.8,354.7h.01M493.7,352.9h.01M492.9,359.9h.01M492.9,360.8h.01M490.9,360.8h.01" stroke="#fff" stroke-width="0.9" stroke-linecap="square" fill="none"/>
<path d="M413.1,339.1h.01M412.6,337.1h.01M413.0,337.9h.01M413.4,335.1h.01M412.4,340.3h.01M414.9,336.1h.01M416.2,337.8h.01M414.1,338.8h.01M413.1,335.3h.01M413.8,335.9h.01M414.5,338.8h.01M415.6,336.9h.01M413.3,339.2h.01M416.6,336.3h.01M418.8,335.7h.01M419.0,335.8h.01M417.1,336.9h.01M415.3,333.3h.01M419.6,333.8h.01M419.4,335.3h.01M418.1,335.3h.01M418.5,335.8h.01M417.2,336.2h.01M419.4,335.8h.01M420.3,334.5h.01M418.7,335.7h.01M416.8,335.1h.01M415.3,335.2h.01M416.7,337.0h.01M424.2,331.1h.01M423.8,328.9h.01M422.2,332.4h.01M421.8,329.7h.01M422.0,330.7h.01M423.7,330.4h.01M421.6,328.7h.01M424.9,330.6h.01M423.0,331.1h.01M423.1,331.3h.01M423.9,329.6h.01M422.5,331.8h.01M421.9,332.6h.01M422.4,332.3h.01M424.1,330.0h.01M421.6,333.2h.01M415.0,323.2h.01M425.7,326.3h.01M431.3,324.8h.01M428.2,321.8h.01M426.1,324.6h.01M422.7,319.9h.01M427.6,326.1h.01M426.8,327.2h.01M430.3,323.8h.01M425.6,329.1h.01M428.1,326.2h.01M430.9,324.3h.01M424.0,320.5h.01M427.1,325.4h.01M423.7,324.1h.01M428.5,327.3h.01M428.1,324.5h.01M430.5,324.8h.01M426.5,327.8h.01M426.4,328.9h.01M428.8,326.5h.01M429.4,326.7h.01M430.0,325.6h.01M425.1,329.7h.01M428.0,325.8h.01M434.2,322.3h.01M435.2,321.9h.01M434.8,322.4h.01M431.9,323.3h.01M432.1,323.4h.01M435.0,322.2h.01M436.2,322.0h.01M433.7,323.6h.01M430.6,321.5h.01M433.4,323.1h.01M430.4,321.8h.01M437.3,321.2h.01M433.1,324.1h.01M436.7,321.8h.01M436.5,321.9h.01M437.2,321.0h.01M432.8,323.5h.01M432.7,323.8h.01M433.6,321.3h.01M432.4,323.8h.01M437.5,321.4h.01M438.4,320.5h.01M441.1,320.9h.01M444.6,319.5h.01M439.2,321.0h.01M437.6,320.2h.01M438.5,319.3h.01M444.7,319.9h.01M444.2,317.7h.01M440.2,319.3h.01M445.7,319.5h.01M441.9,320.4h.01M438.4,319.8h.01M445.0,318.7h.01M439.5,320.0h.01M445.1,319.8h.01M442.2,320.3h.01M440.6,319.5h.01M439.9,319.5h.01M444.8,319.5h.01M438.3,320.4h.01M441.3,318.3h.01M439.6,321.2h.01M439.9,320.5h.01M443.5,317.1h.01M437.4,315.8h.01M443.2,319.8h.01M451.5,318.0h.01M453.1,319.1h.01M447.5,319.6h.01M452.2,318.7h.01M447.3,319.5h.01M449.2,319.7h.01M451.4,319.5h.01M450.8,317.9h.01M449.6,318.1h.01M446.0,317.1h.01M448.4,319.7h.01M451.1,319.7h.01M446.9,317.4h.01M453.7,313.5h.01M449.3,317.7h.01M448.3,319.6h.01M449.6,315.8h.01M452.2,317.1h.01M449.8,319.7h.01M449.6,318.7h.01M447.0,313.4h.01M452.8,319.3h.01M454.2,318.3h.01M448.1,319.7h.01M449.4,319.5h.01M455.7,318.1h.01M456.4,319.6h.01M458.6,316.2h.01M457.2,316.9h.01M459.2,319.8h.01M459.2,318.2h.01M460.1,319.1h.01M461.1,318.2h.01M457.7,317.8h.01M456.2,318.2h.01M455.3,319.3h.01M457.5,319.2h.01M463.5,314.3h.01M463.1,316.9h.01M458.0,319.9h.01M454.9,316.0h.01M460.1,316.4h.01M456.5,319.6h.01M454.8,317.6h.01M456.9,319.8h.01M462.0,316.8h.01M461.3,318.0h.01M457.1,319.8h.01M457.1,319.4h.01M457.8,317.5h.01M463.4,319.6h.01M471.7,319.9h.01M472.9,320.8h.01M464.5,320.5h.01M463.8,319.2h.01M467.6,320.2h.01M467.5,321.0h.01M463.1,318.1h.01M471.2,320.8h.01M469.9,320.5h.01M466.5,320.3h.01M471.9,318.2h.01M466.0,320.3h.01M466.7,318.6h.01M468.2,316.0h.01M472.5,316.3h.01M469.9,315.5h.01M469.3,321.0h.01M473.0,320.9h.01M466.0,320.5h.01M463.1,320.6h.01M467.5,321.2h.01M466.9,319.9h.01M468.5,320.2h.01M464.0,320.7h.01M468.6,321.2h.01M465.5,321.0h.01M465.6,320.1h.01M465.6,317.0h.01M469.0,321.3h.01M463.7,320.1h.01M478.2,320.6h.01M475.2,315.1h.01M474.5,319.4h.01M475.4,317.3h.01M479.9,322.5h.01M473.9,321.6h.01M473.6,320.6h.01M476.1,320.4h.01M481.1,321.4h.01M478.6,318.8h.01M475.0,320.0h.01M480.0,321.0h.01M474.5,321.3h.01M482.0,317.9h.01M474.3,320.8h.01M474.8,318.2h.01M475.5,321.8h.01M480.6,321.8h.01M474.6,319.6h.01M478.1,322.0h.01M476.6,322.1h.01M478.1,320.7h.01M481.4,322.9h.01M474.8,321.0h.01M480.1,322.7h.01M487.5,323.9h.01M484.7,324.1h.01M485.4,321.3h.01M482.3,322.6h.01M488.0,324.1h.01M484.2,323.2h.01M486.1,319.8h.01M483.7,323.9h.01M487.8,325.9h.01M486.0,324.6h.01M484.9,324.0h.01M487.0,320.3h.01M482.3,321.9h.01M488.1,323.6h.01M485.9,324.3h.01M488.0,322.6h.01M486.1,324.5h.01M486.7,324.3h.01M484.3,322.9h.01M482.2,322.5h.01M488.2,325.1h.01M489.2,326.7h.01M488.4,326.5h.01M490.7,327.2h.01M490.9,325.3h.01M490.6,325.7h.01M493.1,329.4h.01M490.9,328.3h.01M494.9,323.3h.01M492.3,328.6h.01M488.7,325.4h.01M490.2,325.8h.01M490.3,325.6h.01M490.0,327.4h.01M493.3,328.4h.01M494.7,325.2h.01M489.7,324.3h.01M489.7,327.2h.01M492.5,325.8h.01M492.8,329.6h.01M492.7,327.9h.01M497.3,333.0h.01M494.2,329.6h.01M495.1,332.5h.01M493.7,332.7h.01M498.8,331.7h.01M495.8,333.8h.01M501.0,328.0h.01M494.7,332.1h.01M495.4,332.8h.01M495.3,331.2h.01M496.3,333.6h.01M495.5,331.0h.01M494.1,332.5h.01M498.3,334.5h.01M496.2,333.2h.01M495.2,335.9h.01M492.9,330.3h.01M493.8,329.8h.01M497.1,329.6h.01M493.3,330.6h.01M503.4,342.8h.01M501.0,337.2h.01M496.1,341.2h.01M495.9,339.7h.01M500.4,336.1h.01M499.8,338.7h.01M499.0,338.9h.01M495.8,341.2h.01M495.9,338.0h.01M497.1,337.4h.01M502.8,337.5h.01M495.6,340.7h.01M496.2,343.2h.01M496.1,342.8h.01M498.6,339.6h.01M496.9,341.5h.01M498.6,340.4h.01M496.4,343.3h.01M496.0,343.2h.01M497.3,344.2h.01M495.8,344.2h.01M496.7,337.0h.01M495.6,341.7h.01M497.6,343.5h.01M495.9,344.2h.01M499.0,351.4h.01M496.6,346.2h.01M495.4,352.6h.01M496.7,345.3h.01M495.7,347.8h.01M497.7,345.7h.01M496.4,345.2h.01M495.5,352.0h.01M498.0,352.7h.01M495.8,346.5h.01M495.8,344.8h.01M496.6,347.8h.01M497.6,344.5h.01M496.5,348.9h.01M497.9,352.9h.01M496.0,347.6h.01M495.5,352.5h.01M495.6,347.7h.01M497.2,344.4h.01M497.0,346.5h.01M504.8,347.3h.01M501.2,351.6h.01M497.0,347.1h.01M502.5,347.7h.01M496.0,351.5h.01M493.9,363.4h.01M495.1,358.4h.01M493.9,362.4h.01M494.0,360.5h.01M497.8,356.9h.01M494.4,363.1h.01M494.5,355.8h.01M494.8,360.4h.01M495.4,353.3h.01M494.4,356.2h.01M495.3,354.0h.01M494.2,362.7h.01M494.0,362.5h.01M495.0,356.1h.01M494.0,358.1h.01M493.7,360.8h.01M493.7,363.0h.01M499.7,356.9h.01M494.5,364.2h.01M495.6,353.4h.01M493.8,362.9h.01M495.9,362.3h.01M495.3,358.3h.01M499.7,356.1h.01M495.6,358.2h.01M496.7,353.9h.01M494.7,360.3h.01M493.2,363.5h.01M494.7,359.4h.01M494.9,358.7h.01M494.9,359.1h.01M494.0,358.4h.01M495.8,360.9h.01M503.0,355.5h.01M473.0,286.6h.01M473.7,313.0h.01M475.1,291.5h.01M467.4,275.9h.01M475.5,279.0h.01M475.7,276.0h.01M474.2,290.9h.01M478.7,286.1h.01M471.6,295.7h.01M473.8,317.2h.01M472.2,284.0h.01M471.8,299.1h.01M474.7,302.3h.01M466.3,329.0h.01M483.1,291.5h.01M467.2,294.3h.01M475.7,258.7h.01M473.6,270.0h.01M475.9,312.6h.01M478.9,269.5h.01M480.7,305.5h.01M471.6,299.5h.01M481.4,287.1h.01M473.4,283.7h.01M479.5,259.9h.01M480.9,277.6h.01M478.3,267.8h.01M468.6,283.1h.01M477.8,267.8h.01M476.6,282.5h.01M480.0,287.4h.01M476.0,289.4h.01M482.8,286.6h.01M473.4,321.6h.01M473.9,302.2h.01M469.7,295.0h.01M461.7,293.6h.01M470.1,269.6h.01M466.1,309.0h.01M475.7,269.4h.01M482.9,281.6h.01M471.6,295.7h.01M467.6,267.9h.01M469.6,309.6h.01M478.4,268.4h.01M479.8,292.5h.01M476.1,292.8h.01M475.6,277.1h.01M468.8,281.5h.01M471.6,301.2h.01M467.2,315.8h.01M470.2,283.2h.01M477.2,298.5h.01M471.7,276.0h.01M468.3,268.2h.01M479.4,308.2h.01M483.2,299.4h.01M475.2,303.3h.01M478.4,288.1h.01M475.3,324.1h.01M464.7,271.0h.01M468.5,303.2h.01M479.7,286.9h.01M477.0,291.3h.01M475.1,283.9h.01M473.4,291.9h.01M479.4,325.3h.01M464.1,299.9h.01M473.5,306.4h.01M479.0,303.6h.01M477.7,277.8h.01M464.6,316.9h.01M479.8,277.8h.01M480.2,302.0h.01M460.7,305.4h.01M468.4,309.4h.01M470.0,280.9h.01M465.5,288.8h.01M478.8,282.0h.01M463.8,324.0h.01M483.1,302.3h.01M470.7,273.9h.01M465.0,300.3h.01M480.3,276.2h.01M473.5,287.9h.01M472.2,299.5h.01M484.4,282.5h.01M477.9,308.3h.01M472.0,289.8h.01M466.5,308.1h.01M470.7,282.2h.01M473.9,279.2h.01M468.1,287.6h.01M481.2,288.9h.01M476.2,270.1h.01M463.4,319.2h.01M471.4,269.0h.01M472.9,301.1h.01M464.5,278.8h.01M474.9,278.2h.01M477.7,306.4h.01M475.8,285.6h.01M473.3,282.5h.01M472.8,296.8h.01M471.9,306.6h.01M487.0,283.8h.01M475.3,304.3h.01M476.9,288.4h.01M471.0,307.0h.01M476.8,299.6h.01M469.3,301.5h.01M477.6,289.2h.01M476.9,324.5h.01M463.7,301.1h.01M467.4,271.6h.01M472.3,300.2h.01M473.8,274.5h.01M466.0,283.7h.01M473.6,279.6h.01M465.7,318.3h.01M469.1,289.7h.01M470.6,283.2h.01M473.7,287.5h.01M476.7,274.2h.01M465.7,321.2h.01M473.1,303.5h.01M479.7,300.3h.01M473.7,268.7h.01M465.1,306.7h.01M477.0,300.5h.01M464.8,260.0h.01M468.0,274.3h.01M474.3,276.7h.01M481.8,282.7h.01M470.6,305.0h.01M475.2,278.5h.01M477.8,320.9h.01M467.1,288.3h.01M467.9,262.8h.01M476.8,302.5h.01M478.6,298.4h.01M462.9,291.6h.01M470.0,274.3h.01M467.7,303.5h.01M471.9,321.6h.01M476.0,263.3h.01M478.2,310.8h.01M473.7,273.7h.01M482.8,272.2h.01M473.1,263.3h.01M466.9,266.4h.01M479.2,309.8h.01M471.4,271.6h.01M473.2,297.7h.01M465.5,274.5h.01M473.0,302.6h.01M473.9,298.8h.01M475.1,278.1h.01M472.8,286.3h.01M476.0,280.3h.01M481.1,292.5h.01M476.3,301.5h.01M479.0,298.1h.01M464.3,282.5h.01M483.3,299.2h.01M476.5,299.1h.01M470.1,281.7h.01M470.1,309.5h.01M475.4,319.0h.01M476.1,320.7h.01M475.9,274.1h.01M482.7,297.1h.01M479.8,295.3h.01M471.8,294.6h.01M467.6,273.9h.01M468.8,284.0h.01M466.3,290.4h.01M475.1,322.8h.01M483.2,291.2h.01M478.2,288.7h.01M475.6,291.5h.01M470.6,293.2h.01M465.7,298.7h.01M472.0,275.5h.01M471.6,300.4h.01M469.9,299.2h.01M476.5,315.8h.01M467.7,290.3h.01M476.2,314.9h.01M474.9,303.5h.01M465.7,283.1h.01M482.3,287.7h.01M485.0,280.9h.01M472.0,267.7h.01M476.9,296.0h.01M484.2,294.5h.01M472.2,270.5h.01M473.1,306.5h.01M477.4,310.8h.01M478.1,291.3h.01M476.7,294.6h.01M466.4,318.2h.01M475.5,275.9h.01M475.6,296.4h.01M478.8,314.1h.01M457.3,300.5h.01M481.7,277.5h.01M463.6,296.3h.01M475.3,297.4h.01M467.6,284.8h.01M474.5,303.4h.01M485.2,296.5h.01M479.2,290.0h.01M472.9,276.8h.01M477.4,264.5h.01M474.1,293.9h.01M475.1,312.0h.01M473.0,293.4h.01M478.1,268.2h.01M471.9,293.0h.01M478.6,279.7h.01M477.8,297.9h.01M465.5,269.3h.01M465.8,294.1h.01M474.6,303.1h.01M477.9,283.5h.01M479.2,304.6h.01M476.0,299.4h.01M466.6,297.6h.01M468.0,273.6h.01M471.6,294.1h.01M473.2,286.9h.01M468.1,294.9h.01M469.5,270.3h.01M474.0,314.4h.01M471.3,275.6h.01M480.9,318.4h.01M471.9,288.7h.01M474.6,337.5h.01M474.2,307.3h.01M475.9,263.9h.01M467.6,273.0h.01M475.8,293.6h.01M483.1,287.8h.01M475.2,293.2h.01M474.2,327.7h.01M475.0,314.7h.01M480.5,282.6h.01M477.2,286.1h.01M474.1,294.4h.01M473.6,284.8h.01M481.9,287.9h.01M477.3,317.9h.01M476.9,307.9h.01M481.0,308.8h.01M482.8,269.9h.01M484.0,292.4h.01M464.1,282.1h.01M466.0,291.7h.01M465.5,276.4h.01M475.1,294.4h.01M469.2,288.4h.01M473.0,293.2h.01M473.5,288.6h.01M478.2,267.2h.01M470.8,294.1h.01M471.3,283.5h.01M471.1,295.2h.01M480.2,289.1h.01M472.1,297.5h.01M472.2,262.1h.01M474.9,286.2h.01M470.4,301.7h.01M473.7,283.3h.01M461.8,265.4h.01M473.6,290.2h.01M475.9,295.5h.01M470.9,272.4h.01M467.6,289.8h.01M467.3,303.7h.01M466.3,264.2h.01M472.5,264.5h.01M482.3,276.6h.01M473.2,288.2h.01M469.1,264.6h.01M463.5,305.4h.01M479.0,325.5h.01M465.6,300.7h.01M473.4,305.1h.01M470.7,303.2h.01M478.3,301.4h.01M481.3,289.3h.01M481.8,281.1h.01M473.6,279.6h.01M473.5,308.0h.01M477.4,293.5h.01M482.7,269.1h.01M469.1,315.4h.01M475.3,259.8h.01M475.3,273.6h.01M481.5,309.7h.01M470.5,312.0h.01M469.0,306.3h.01M476.6,290.0h.01M465.8,287.7h.01M461.1,283.3h.01M463.5,310.8h.01M476.7,297.7h.01M470.8,324.8h.01M477.7,293.0h.01M476.1,306.9h.01M470.3,270.1h.01M473.3,266.1h.01M473.5,304.0h.01M481.7,296.1h.01M474.6,303.6h.01M481.1,287.1h.01M466.9,279.7h.01M466.7,278.2h.01M472.8,297.3h.01M474.3,293.1h.01M471.6,298.6h.01M478.3,303.8h.01M481.6,287.5h.01M472.1,318.3h.01M474.6,298.4h.01M471.7,307.0h.01M471.3,276.4h.01M473.2,285.1h.01M478.0,286.1h.01M474.2,288.6h.01M475.3,282.2h.01M479.5,269.9h.01M471.4,281.0h.01M477.0,292.6h.01M476.1,286.9h.01M469.6,274.6h.01M471.7,283.7h.01M475.0,297.5h.01M478.8,290.3h.01M469.5,275.6h.01M473.8,297.6h.01M484.0,294.8h.01M483.0,321.0h.01M467.8,310.8h.01M479.6,312.9h.01M473.4,306.8h.01M470.9,290.9h.01M473.6,319.6h.01M472.3,306.8h.01M473.9,281.0h.01M474.8,302.2h.01M469.7,301.8h.01M469.7,278.4h.01M474.7,288.4h.01M468.2,266.7h.01M473.6,295.8h.01M471.0,294.9h.01M465.3,298.1h.01M475.7,296.3h.01M470.2,293.2h.01M474.2,308.6h.01M475.0,295.9h.01M469.6,305.4h.01M479.8,284.3h.01M476.9,296.8h.01M473.2,272.1h.01M483.0,263.1h.01M475.1,286.2h.01M479.7,285.4h.01M473.7,301.5h.01M476.0,284.0h.01M477.2,298.1h.01M478.8,284.1h.01M473.3,285.9h.01M469.0,295.9h.01M475.7,314.0h.01M471.7,298.0h.01M479.7,290.2h.01M473.8,294.1h.01M469.8,276.7h.01M479.5,294.7h.01M473.1,272.8h.01M474.1,310.1h.01M467.3,278.2h.01M479.5,314.1h.01M481.9,283.5h.01M476.7,280.4h.01M476.3,286.4h.01M474.6,312.7h.01M475.3,288.3h.01M473.8,296.1h.01M470.7,295.2h.01M476.7,316.0h.01M462.4,273.7h.01M466.9,305.5h.01M486.6,295.0h.01M474.2,309.5h.01M460.4,289.2h.01M456.8,294.4h.01M470.8,284.5h.01M475.3,283.0h.01M479.5,292.0h.01M475.5,331.1h.01M471.1,306.3h.01M469.1,311.2h.01M478.7,294.2h.01M478.8,316.8h.01M480.9,292.0h.01M473.2,309.0h.01M465.6,282.7h.01M476.1,300.8h.01M483.5,319.0h.01M475.2,298.8h.01M466.4,289.2h.01M474.9,288.5h.01M473.8,301.3h.01M468.4,283.3h.01M464.0,309.6h.01M467.9,265.9h.01M477.6,288.7h.01M478.7,286.3h.01M484.9,303.0h.01M474.3,293.8h.01M472.4,304.4h.01M484.2,285.5h.01M467.7,301.2h.01M479.2,269.1h.01M469.8,276.7h.01M476.5,299.7h.01M469.6,274.7h.01M477.1,260.5h.01M476.9,289.6h.01M483.7,307.2h.01M470.4,287.8h.01M472.0,280.9h.01M473.9,306.8h.01M465.5,288.5h.01M481.5,303.3h.01M469.2,279.7h.01M468.9,267.5h.01M479.6,293.1h.01M469.8,270.1h.01M471.5,284.2h.01M482.7,285.0h.01M474.1,308.4h.01M477.1,289.2h.01M461.9,313.4h.01M476.7,285.4h.01M473.0,277.4h.01M468.7,269.4h.01M476.2,299.9h.01M474.4,303.9h.01M476.3,293.9h.01M468.8,301.0h.01M479.8,301.6h.01M480.1,284.8h.01M468.3,311.1h.01M470.4,295.7h.01M472.5,292.3h.01M472.1,283.8h.01M464.0,321.0h.01M474.6,262.7h.01M468.7,274.9h.01M476.5,316.9h.01M472.2,303.3h.01M476.7,273.1h.01M480.0,266.4h.01M470.5,286.5h.01M480.2,293.8h.01M472.8,279.8h.01M474.0,292.6h.01M477.4,313.2h.01M477.4,292.3h.01M472.7,316.3h.01M474.6,291.8h.01M483.0,315.8h.01M476.5,290.4h.01M470.1,308.2h.01M471.1,306.6h.01M469.4,293.6h.01M475.6,294.2h.01M474.7,297.8h.01M467.6,275.2h.01M472.7,319.4h.01M472.8,278.0h.01M470.0,292.5h.01M479.7,283.4h.01M476.5,294.8h.01M471.6,277.7h.01M472.7,281.0h.01M476.3,265.3h.01M479.5,303.5h.01M476.6,314.7h.01M476.7,266.1h.01M473.8,298.8h.01M469.9,274.9h.01M475.8,299.7h.01M471.3,288.3h.01M470.8,283.4h.01M473.2,308.2h.01M465.0,286.9h.01M482.0,296.8h.01M474.3,304.6h.01M468.2,273.7h.01M464.8,270.0h.01M474.8,304.8h.01M471.3,281.7h.01M475.6,301.3h.01M474.9,263.2h.01M474.8,279.2h.01M470.0,314.7h.01M480.5,299.3h.01M475.0,294.6h.01M470.4,291.2h.01M483.6,278.8h.01M470.0,294.4h.01M478.2,304.6h.01M468.4,290.0h.01M472.1,273.4h.01M473.9,284.7h.01M478.3,298.5h.01M469.4,293.2h.01M471.6,282.4h.01M470.9,308.0h.01M471.3,266.2h.01M469.4,304.2h.01M484.8,276.1h.01M471.6,287.0h.01M466.1,298.1h.01M473.2,296.2h.01M485.3,288.0h.01M477.7,304.6h.01M470.2,283.1h.01M481.7,302.8h.01M474.3,275.5h.01M478.1,300.0h.01M485.0,314.2h.01M477.7,296.0h.01M473.8,283.7h.01M475.1,295.7h.01M476.9,308.4h.01M475.1,283.8h.01M477.7,315.4h.01M469.1,298.3h.01M476.4,300.1h.01M476.2,290.6h.01M473.0,317.4h.01M482.6,270.9h.01M460.2,298.6h.01M470.0,284.2h.01M465.1,297.3h.01M473.2,283.9h.01M478.2,328.6h.01M481.2,309.7h.01M471.3,301.9h.01M473.3,309.4h.01M476.6,291.5h.01M476.4,281.2h.01M477.7,314.7h.01M471.6,300.4h.01M464.8,306.1h.01M478.1,276.6h.01M482.6,293.7h.01M464.4,271.4h.01M478.1,287.9h.01M479.3,268.7h.01M473.0,306.7h.01M469.9,302.2h.01M471.6,297.2h.01M475.2,325.6h.01M467.0,303.7h.01M480.4,275.1h.01M473.9,326.8h.01M472.3,266.3h.01M475.1,281.1h.01M470.6,279.4h.01M475.0,285.0h.01M468.8,288.6h.01M475.6,279.1h.01M479.3,267.0h.01M475.6,286.1h.01M481.8,282.3h.01M470.0,271.8h.01M483.9,301.3h.01M467.8,286.9h.01M468.5,314.9h.01M475.7,261.3h.01M474.6,305.8h.01M473.5,299.1h.01M472.9,295.1h.01M474.6,281.3h.01M475.3,294.5h.01M473.3,281.7h.01M468.2,295.7h.01M470.7,312.4h.01M478.3,281.3h.01M480.6,277.1h.01M469.4,321.2h.01M471.2,288.7h.01M464.8,276.8h.01M467.3,289.9h.01M463.9,308.0h.01M471.6,282.9h.01M470.2,303.2h.01M481.6,285.9h.01M482.0,316.3h.01M480.5,296.5h.01M465.7,302.2h.01M471.4,294.9h.01M463.6,287.7h.01M474.7,277.9h.01M475.0,317.2h.01M474.7,281.7h.01M486.0,259.5h.01M468.7,298.2h.01M470.4,257.4h.01M474.9,304.5h.01M469.3,314.1h.01M476.1,310.0h.01M465.5,292.0h.01M481.9,322.4h.01M480.4,292.0h.01M474.5,282.5h.01M479.3,281.5h.01M474.2,260.8h.01M465.6,318.9h.01M473.8,295.3h.01M461.9,291.5h.01M484.4,269.4h.01M461.0,289.6h.01M470.7,288.8h.01M466.9,271.5h.01M467.0,301.7h.01M473.3,304.4h.01M467.8,300.9h.01M471.2,293.4h.01M478.4,292.5h.01M471.6,266.8h.01M473.8,303.9h.01M470.2,291.0h.01M464.2,271.8h.01M475.6,311.6h.01M471.9,266.7h.01M471.5,268.3h.01M472.0,321.3h.01M475.1,289.7h.01M479.0,286.2h.01M475.3,295.0h.01M475.9,269.7h.01M477.3,305.4h.01M468.8,314.7h.01M473.6,302.3h.01M476.4,305.5h.01M470.1,283.1h.01M475.5,301.3h.01M476.5,297.2h.01M470.9,308.8h.01M476.0,308.2h.01M460.0,307.4h.01M460.6,295.2h.01M470.0,293.8h.01M471.0,287.3h.01M474.5,297.3h.01M469.4,300.3h.01M469.0,298.5h.01M471.5,277.6h.01M479.7,317.3h.01M473.0,291.2h.01M478.6,271.7h.01M468.9,309.3h.01M478.3,284.5h.01M469.4,297.4h.01M466.0,284.4h.01M476.7,303.7h.01M479.2,270.0h.01M466.6,279.5h.01M466.5,323.5h.01M468.3,287.2h.01M474.6,299.0h.01M481.3,275.3h.01M478.2,294.3h.01M467.2,294.3h.01M466.0,316.9h.01M469.6,307.5h.01M480.5,282.5h.01M468.7,294.0h.01M467.9,305.8h.01M474.4,280.3h.01M469.8,303.2h.01M465.7,318.0h.01M469.3,289.0h.01M468.5,317.0h.01M477.9,312.0h.01M477.0,293.4h.01M482.6,302.2h.01M475.8,300.9h.01M477.5,296.3h.01M472.6,267.4h.01M484.6,271.9h.01M461.9,281.0h.01M483.9,310.8h.01M470.3,296.1h.01M473.4,261.3h.01M471.7,296.5h.01M479.8,273.4h.01M461.4,267.7h.01M475.3,293.2h.01M474.3,294.3h.01M471.5,270.9h.01M475.9,298.0h.01M476.6,311.3h.01M463.9,325.1h.01M468.6,298.2h.01M473.4,303.3h.01M490.8,284.0h.01M472.6,282.7h.01M474.8,300.1h.01M468.3,312.4h.01M479.7,298.9h.01M472.9,288.3h.01M464.6,302.2h.01M468.2,284.2h.01M478.9,277.7h.01M470.7,305.3h.01M483.5,281.3h.01M479.5,281.9h.01M475.6,299.5h.01M467.4,307.9h.01M483.2,292.8h.01M475.0,273.8h.01M483.2,293.0h.01M466.6,303.8h.01M465.6,281.4h.01M462.0,313.3h.01M485.4,282.2h.01M470.0,283.0h.01M470.4,300.6h.01M481.4,276.4h.01M475.9,264.1h.01M481.7,290.6h.01M469.7,315.7h.01M472.9,313.2h.01M479.3,317.7h.01M469.2,292.9h.01M475.5,289.0h.01M481.7,280.9h.01M478.9,313.1h.01M463.0,277.0h.01M468.6,283.5h.01M475.6,289.3h.01M473.9,284.9h.01M473.1,299.5h.01M477.5,279.9h.01M472.9,280.2h.01M472.5,269.7h.01M478.7,302.4h.01M472.8,281.4h.01M471.0,281.7h.01M465.2,317.3h.01M491.3,272.9h.01M467.2,301.0h.01M476.8,267.6h.01M463.1,300.4h.01M462.7,314.1h.01M470.8,293.3h.01M473.5,283.3h.01M472.7,287.4h.01M480.2,290.6h.01M473.3,283.8h.01M470.1,280.6h.01M473.6,320.5h.01M479.5,295.7h.01M482.5,307.7h.01M474.6,289.5h.01M467.6,295.9h.01M471.8,267.4h.01M466.6,322.0h.01M474.7,299.7h.01M474.6,284.8h.01M476.0,308.8h.01M471.8,299.9h.01M479.0,284.5h.01M474.4,280.5h.01M476.8,286.3h.01M479.7,280.2h.01M482.6,287.2h.01M469.0,278.0h.01M477.1,278.7h.01M483.2,311.9h.01M476.3,270.0h.01M473.4,280.7h.01M463.7,298.6h.01M485.4,283.7h.01M477.9,311.9h.01M468.3,286.7h.01M474.9,299.3h.01M467.3,295.4h.01M472.9,306.7h.01M464.9,283.3h.01M470.8,287.1h.01M477.4,282.3h.01M488.3,281.0h.01M478.0,307.8h.01M478.7,288.8h.01M469.0,288.0h.01M477.1,293.9h.01M476.6,279.6h.01M466.3,267.5h.01M482.6,271.1h.01M461.4,289.9h.01M466.7,267.5h.01M479.3,265.9h.01M466.4,283.4h.01M466.8,295.1h.01M473.2,296.5h.01M473.4,275.4h.01M468.0,273.2h.01M469.0,274.8h.01M477.9,264.8h.01M466.1,258.3h.01M483.0,274.4h.01M472.4,274.5h.01M479.5,277.6h.01M478.5,273.7h.01M471.7,274.6h.01M459.5,283.7h.01M461.5,267.0h.01M477.2,275.4h.01M478.2,288.6h.01M485.5,286.1h.01M470.9,291.4h.01M466.3,274.3h.01M479.5,273.3h.01M471.7,272.2h.01M481.4,283.5h.01M472.0,279.5h.01M465.7,283.9h.01M482.3,274.5h.01M470.1,271.1h.01M471.2,265.0h.01M463.0,288.3h.01M472.4,279.4h.01M474.7,278.8h.01M461.8,267.4h.01M476.9,283.0h.01M464.5,270.4h.01M465.0,280.2h.01M474.9,275.3h.01M468.0,277.7h.01M472.7,269.1h.01M474.8,269.7h.01M479.2,280.0h.01M467.7,279.7h.01M473.0,269.4h.01M466.1,261.7h.01M464.6,277.8h.01M481.0,270.0h.01M473.6,277.8h.01M478.0,278.5h.01M481.1,281.1h.01M467.2,278.2h.01M456.1,273.6h.01M472.6,279.6h.01M470.4,281.7h.01M481.7,268.3h.01M468.7,277.1h.01M475.9,276.2h.01M478.3,265.5h.01M477.9,284.3h.01M480.3,278.4h.01M470.8,278.2h.01M472.0,262.3h.01M468.3,274.7h.01M468.9,267.5h.01M470.9,272.0h.01M473.0,274.6h.01M473.7,282.9h.01M473.5,278.3h.01M469.7,280.4h.01M470.1,270.0h.01M463.8,282.1h.01M468.8,277.0h.01M480.4,279.3h.01M488.2,273.9h.01M479.2,280.5h.01M467.9,275.4h.01M468.5,266.8h.01M474.6,268.8h.01M484.3,269.1h.01M468.7,275.7h.01M468.9,275.4h.01M468.2,263.6h.01M455.6,264.7h.01M483.2,278.6h.01M473.6,271.3h.01M471.5,277.4h.01M462.8,268.6h.01M466.3,285.1h.01M465.1,284.4h.01M469.2,296.8h.01M472.0,275.3h.01M482.0,282.0h.01M479.1,266.4h.01M480.5,288.4h.01M471.8,271.1h.01M464.9,283.1h.01M474.6,275.1h.01M463.9,288.0h.01M478.6,274.8h.01M482.8,267.4h.01M478.7,267.0h.01M482.4,272.8h.01M481.1,271.7h.01M475.3,284.1h.01M466.2,275.8h.01M466.6,281.8h.01M468.3,272.0h.01M471.1,284.3h.01M465.2,274.8h.01M470.2,270.6h.01M467.0,273.7h.01M473.9,262.6h.01M474.1,265.5h.01M472.6,293.2h.01M465.7,274.5h.01M470.7,282.9h.01M469.2,260.7h.01M461.2,276.4h.01M474.3,283.5h.01M468.7,280.3h.01M465.1,285.4h.01M472.0,269.6h.01M473.7,288.9h.01M466.6,265.1h.01M465.4,265.8h.01M472.1,277.8h.01M471.4,276.6h.01M480.8,272.7h.01M474.2,269.6h.01M470.8,278.3h.01M475.7,262.5h.01M465.8,275.6h.01M471.5,284.2h.01M469.0,258.5h.01M480.7,261.9h.01M465.7,278.1h.01M465.1,294.9h.01M474.2,279.3h.01M469.4,292.7h.01M476.3,269.3h.01M481.3,261.5h.01M468.4,277.3h.01M473.5,267.3h.01M483.6,286.8h.01M466.0,278.0h.01M468.1,271.5h.01M479.4,276.0h.01M471.7,275.8h.01M464.3,284.8h.01M467.2,285.5h.01M469.3,271.4h.01M482.9,276.5h.01M468.0,270.7h.01M476.7,290.0h.01M476.8,271.9h.01M464.7,269.6h.01M471.7,277.0h.01M467.9,285.2h.01M465.8,269.3h.01M476.0,278.8h.01M469.8,282.7h.01M462.6,288.1h.01M487.8,290.6h.01M473.3,290.7h.01M472.9,285.6h.01M471.1,276.6h.01M476.2,261.0h.01M471.0,288.7h.01M452.0,278.1h.01M479.0,277.6h.01M473.9,286.1h.01M474.8,259.9h.01M465.9,272.6h.01M473.5,271.4h.01M471.8,288.3h.01M452.0,284.2h.01M479.1,279.8h.01M472.6,275.5h.01M475.0,276.9h.01M467.4,281.2h.01M466.7,274.7h.01M470.0,265.8h.01M476.7,274.4h.01M464.4,274.4h.01M462.9,286.5h.01M476.1,290.9h.01M468.5,280.6h.01M465.7,268.2h.01M471.9,278.3h.01M479.0,272.9h.01M480.2,282.7h.01M466.4,273.6h.01M466.1,288.6h.01M468.7,282.1h.01M478.9,273.0h.01M469.1,277.7h.01M467.1,264.9h.01M465.8,277.7h.01M473.8,289.0h.01M459.8,279.0h.01M464.5,284.2h.01M477.4,276.0h.01M482.8,272.0h.01M468.8,266.6h.01M467.9,275.9h.01M477.2,285.2h.01M470.6,269.2h.01M470.2,271.6h.01M469.2,271.8h.01M466.4,274.6h.01M468.9,273.7h.01M462.9,276.2h.01M476.5,280.1h.01M468.7,265.9h.01M463.5,265.7h.01M468.0,272.5h.01M460.2,280.3h.01M461.8,269.6h.01M467.5,281.6h.01M485.3,272.2h.01M470.6,271.9h.01M471.1,273.7h.01M471.7,268.7h.01M475.0,270.9h.01M476.5,266.4h.01M487.1,276.7h.01M460.2,280.5h.01M469.2,265.9h.01M475.6,270.9h.01M477.6,270.7h.01M478.8,276.2h.01M475.0,276.2h.01M470.0,272.1h.01M475.6,280.6h.01M469.7,292.7h.01M484.2,265.9h.01M480.0,274.4h.01M474.1,268.8h.01M483.9,268.5h.01M471.9,269.3h.01M485.9,284.9h.01M463.4,271.5h.01M475.0,271.6h.01M470.1,266.5h.01M474.2,266.4h.01M478.3,293.9h.01M470.2,288.0h.01M475.1,269.7h.01M470.1,267.4h.01M473.3,280.5h.01M478.9,272.8h.01M464.3,274.4h.01M484.1,277.2h.01M472.1,258.7h.01M469.5,279.3h.01M466.0,285.6h.01M468.6,268.2h.01M468.5,274.3h.01M479.4,270.6h.01M460.2,274.4h.01M476.1,287.1h.01M464.8,286.7h.01M477.2,278.6h.01M467.2,268.1h.01M465.9,282.3h.01M474.0,283.4h.01M485.0,275.2h.01M472.2,290.1h.01M463.5,271.5h.01M470.0,272.1h.01M473.5,268.4h.01M480.5,264.3h.01M466.9,261.8h.01M462.8,279.6h.01M476.8,273.5h.01M478.3,279.9h.01M468.5,274.7h.01M475.0,290.8h.01M469.5,277.9h.01M476.3,284.6h.01M475.4,283.4h.01M465.2,273.0h.01M459.2,274.6h.01M488.6,276.9h.01M473.1,277.1h.01M473.5,264.7h.01M467.7,273.7h.01M473.7,268.3h.01M471.8,269.3h.01M463.4,269.9h.01M467.0,281.6h.01M481.7,279.6h.01M471.0,270.7h.01M461.7,270.9h.01M483.3,284.1h.01M474.0,273.1h.01M472.5,278.4h.01M472.4,278.4h.01M467.2,275.4h.01M470.1,283.5h.01M464.0,285.2h.01M471.9,271.1h.01M472.6,276.0h.01M470.9,278.4h.01M468.5,261.8h.01M477.3,274.9h.01M484.0,278.1h.01M458.7,284.7h.01M467.8,279.3h.01M487.8,283.6h.01M465.0,274.3h.01M461.4,280.3h.01M476.4,267.1h.01M475.6,282.4h.01M478.1,269.8h.01M467.7,266.3h.01M463.6,277.5h.01M472.8,285.2h.01M474.4,272.5h.01M462.7,287.1h.01M473.6,274.8h.01M452.1,294.9h.01M465.0,295.7h.01M464.6,312.8h.01M457.0,288.7h.01M463.2,321.1h.01M453.5,292.6h.01M468.6,307.6h.01M455.1,319.2h.01M457.8,310.9h.01M456.8,298.1h.01M461.7,296.9h.01M446.1,300.3h.01M469.7,317.8h.01M477.1,316.7h.01M472.7,308.8h.01M456.6,311.1h.01M452.5,314.0h.01M456.5,308.9h.01M453.3,304.7h.01M467.7,303.8h.01M454.7,309.1h.01M466.9,304.1h.01M450.8,289.5h.01M449.5,317.5h.01M459.3,311.2h.01M468.4,309.1h.01M463.8,300.7h.01M447.4,312.8h.01M459.2,312.2h.01M451.6,304.6h.01M475.8,297.2h.01M460.8,320.1h.01M458.2,307.5h.01M443.3,314.4h.01M456.5,319.8h.01M459.3,302.2h.01M463.4,303.6h.01M456.0,322.5h.01M467.7,307.3h.01M466.3,314.9h.01M464.6,306.6h.01M460.6,310.5h.01M464.4,309.9h.01M455.7,305.3h.01M463.6,295.7h.01M459.9,314.2h.01M461.3,303.1h.01M459.8,301.0h.01M467.7,302.2h.01M447.0,293.4h.01M462.3,308.4h.01M456.3,292.3h.01M458.8,297.3h.01M454.9,306.1h.01M454.0,309.4h.01M454.2,301.2h.01M458.2,321.6h.01M472.4,316.1h.01M454.2,306.2h.01M467.2,314.7h.01M447.2,305.6h.01M454.2,314.1h.01M465.0,300.5h.01M476.8,303.2h.01M479.1,304.4h.01M459.3,326.2h.01M455.9,301.2h.01M471.6,305.8h.01M463.7,292.9h.01M474.0,316.5h.01M462.8,313.6h.01M456.1,301.2h.01M447.7,310.1h.01M469.7,315.2h.01M467.2,313.6h.01M452.8,292.5h.01M465.0,307.9h.01M467.7,303.3h.01M453.1,310.8h.01M455.6,289.0h.01M455.2,297.0h.01M451.3,300.4h.01M467.4,330.9h.01M473.5,301.8h.01M468.9,305.4h.01M463.2,299.1h.01M459.4,288.6h.01M474.0,298.2h.01M464.6,300.0h.01M462.1,293.9h.01M457.1,315.7h.01M464.7,285.8h.01M466.7,292.4h.01M462.2,311.6h.01M455.0,302.9h.01M458.1,310.4h.01M467.2,320.4h.01M462.6,327.1h.01M452.6,324.8h.01M458.0,314.2h.01M459.0,307.1h.01M452.8,310.2h.01M475.9,307.7h.01M459.8,306.2h.01M465.6,304.0h.01M460.0,308.4h.01M470.2,316.1h.01M451.8,299.6h.01M460.2,315.0h.01M467.6,304.0h.01M476.7,304.5h.01M471.0,321.1h.01M472.5,308.3h.01M464.5,290.2h.01M446.1,299.8h.01M465.6,317.3h.01M459.2,317.0h.01M464.5,322.1h.01M447.5,297.5h.01M452.5,295.3h.01M472.9,296.5h.01M453.5,302.0h.01M466.9,301.4h.01M465.8,311.9h.01M455.0,281.5h.01M452.8,293.1h.01M472.8,298.7h.01M451.6,310.1h.01M460.4,296.4h.01M468.6,315.7h.01M462.2,298.3h.01M453.2,284.8h.01M463.0,310.3h.01M452.8,306.4h.01M485.7,294.4h.01M446.6,312.5h.01M456.7,301.0h.01M464.9,304.8h.01M467.8,311.5h.01M469.1,307.4h.01M443.1,320.3h.01M446.7,317.1h.01M462.0,291.6h.01M460.5,315.4h.01M452.0,306.6h.01M454.2,295.7h.01M455.2,319.5h.01M465.4,305.8h.01M459.4,307.5h.01M462.2,308.1h.01M446.5,315.8h.01M453.3,278.9h.01M465.5,293.5h.01M458.9,305.2h.01M455.4,311.7h.01M457.9,303.2h.01M452.5,303.2h.01M451.9,306.6h.01M470.4,316.7h.01M463.4,291.9h.01M468.1,315.9h.01M476.2,282.6h.01M460.1,302.6h.01M468.5,294.8h.01M457.0,330.4h.01M467.8,285.3h.01M460.2,320.4h.01M455.1,312.4h.01M460.8,290.8h.01M455.1,318.0h.01M469.3,299.8h.01M468.8,298.7h.01M461.9,305.9h.01M450.2,309.5h.01M456.9,277.3h.01M453.5,297.2h.01M453.4,295.9h.01M454.6,280.4h.01M467.0,306.8h.01M462.0,303.3h.01M460.5,303.3h.01M451.4,290.2h.01M460.6,316.7h.01M461.8,323.0h.01M449.3,303.3h.01M455.1,319.0h.01M473.3,300.6h.01M465.8,303.5h.01M452.1,304.9h.01M451.8,322.3h.01M464.6,318.5h.01M462.8,280.5h.01M466.3,307.0h.01M441.2,307.1h.01M468.0,324.0h.01M452.0,314.3h.01M462.6,304.2h.01M457.8,311.6h.01M464.5,313.0h.01M456.8,292.2h.01M464.0,317.2h.01M448.3,295.6h.01M459.8,267.5h.01M457.2,335.4h.01M455.3,284.6h.01M470.1,296.2h.01M454.8,289.2h.01M454.5,266.9h.01M442.3,272.1h.01M460.5,294.6h.01M462.6,262.9h.01M448.0,319.8h.01M446.4,265.7h.01M446.8,290.4h.01M452.9,317.3h.01M464.1,321.3h.01M457.9,287.9h.01M448.9,272.0h.01M463.6,316.5h.01M453.7,281.5h.01M458.6,304.0h.01M454.3,277.1h.01M455.0,286.8h.01M459.2,305.8h.01M456.7,289.1h.01M465.7,308.7h.01M463.6,309.7h.01M458.5,302.4h.01M444.1,266.4h.01M445.2,306.0h.01M460.6,299.0h.01M453.7,325.9h.01M449.7,267.0h.01M440.1,290.8h.01M458.8,308.0h.01M451.2,309.3h.01M452.6,284.2h.01M449.8,308.3h.01M461.0,277.7h.01M444.8,298.0h.01M470.7,277.0h.01M442.6,302.8h.01M457.2,286.1h.01M452.8,303.9h.01M438.5,295.6h.01M458.0,311.1h.01M462.7,294.9h.01M441.0,317.9h.01M459.4,285.6h.01M461.6,312.9h.01M451.8,257.6h.01M449.1,283.7h.01M446.0,294.7h.01M444.0,302.4h.01M468.7,276.6h.01M461.7,287.3h.01M457.5,293.9h.01M463.7,284.4h.01M459.1,283.4h.01M454.9,295.8h.01M462.1,270.3h.01M441.8,318.7h.01M456.2,323.7h.01M444.4,299.4h.01M458.0,324.8h.01M452.6,288.7h.01M459.0,294.3h.01M446.8,308.4h.01M437.2,279.5h.01M464.3,287.9h.01M450.3,302.1h.01M462.3,304.6h.01M445.0,286.8h.01M461.7,294.1h.01M447.8,310.2h.01M462.5,331.5h.01M444.1,284.5h.01M447.2,301.8h.01M449.0,314.2h.01M430.7,311.7h.01M447.7,291.5h.01M457.7,299.3h.01M444.6,320.5h.01M457.8,288.0h.01M454.7,278.0h.01M442.8,291.1h.01M456.0,297.7h.01M446.6,273.4h.01M439.1,322.0h.01M456.1,283.0h.01M462.9,304.8h.01M449.6,286.0h.01M462.5,301.3h.01M466.6,301.9h.01M448.2,286.2h.01M447.2,300.1h.01M455.1,305.9h.01M456.7,278.9h.01M451.3,280.7h.01M457.0,274.6h.01M448.2,282.0h.01M447.9,291.8h.01M465.5,291.8h.01M441.1,291.1h.01M459.2,305.0h.01M455.0,328.5h.01M462.2,297.5h.01M463.1,274.2h.01M451.6,281.9h.01M454.5,322.4h.01M448.9,322.0h.01M444.6,319.3h.01M439.0,282.2h.01M461.3,294.5h.01M454.2,295.8h.01M454.5,293.1h.01M444.9,291.3h.01M453.9,281.3h.01M456.9,324.7h.01M439.4,287.1h.01M450.7,296.3h.01M453.8,284.2h.01M452.7,296.1h.01M452.3,321.1h.01M454.1,271.9h.01M440.1,305.6h.01M450.2,285.9h.01M441.8,291.0h.01M452.2,284.8h.01M450.1,310.5h.01M459.5,304.9h.01M451.6,273.9h.01M459.4,320.4h.01M463.5,315.0h.01M455.3,302.1h.01M452.9,316.4h.01M450.8,331.0h.01M459.4,290.8h.01M453.0,269.8h.01M447.0,291.1h.01M473.2,282.7h.01M460.6,297.3h.01M450.6,306.2h.01M436.5,311.4h.01M469.0,300.8h.01M452.5,298.6h.01M458.5,288.0h.01M454.0,304.2h.01M450.1,302.4h.01M455.8,307.7h.01M469.4,318.9h.01M474.3,328.9h.01M480.2,312.5h.01M466.8,333.2h.01M481.0,314.6h.01M470.0,322.8h.01M490.5,331.3h.01M474.8,320.3h.01M494.8,316.3h.01M491.7,324.0h.01M478.8,329.4h.01M482.2,317.2h.01M464.7,322.1h.01M482.5,329.9h.01M455.2,329.7h.01M483.4,330.7h.01M485.0,323.2h.01M481.8,324.3h.01M472.5,321.3h.01M479.1,319.4h.01M465.2,313.7h.01M482.4,325.0h.01M478.9,315.3h.01M485.4,319.7h.01M459.9,331.0h.01M465.0,335.0h.01M482.7,319.5h.01M457.5,317.9h.01M490.9,329.8h.01M480.3,312.1h.01M474.7,320.4h.01M482.0,321.3h.01M481.0,312.6h.01M472.4,330.3h.01M465.3,327.3h.01M498.2,325.8h.01M465.9,329.2h.01M461.8,323.9h.01M474.4,329.1h.01M488.3,323.1h.01M493.7,327.7h.01M473.8,316.3h.01M499.5,319.7h.01M481.6,321.3h.01M473.9,312.7h.01M476.7,321.3h.01M486.6,319.0h.01M464.3,315.8h.01M477.7,323.4h.01M484.3,319.8h.01M482.7,322.8h.01M492.8,321.7h.01M479.3,325.3h.01M488.7,316.7h.01M473.9,320.4h.01M459.4,329.5h.01M487.4,322.1h.01M507.4,329.3h.01M495.7,331.1h.01M485.9,313.8h.01M491.4,324.4h.01M467.5,322.3h.01M484.6,327.7h.01M479.5,319.0h.01M484.7,317.6h.01M477.3,326.4h.01M465.4,324.2h.01M460.9,316.6h.01M467.2,321.5h.01M484.3,321.7h.01M486.0,322.6h.01M476.2,324.8h.01M475.9,322.8h.01M487.1,318.7h.01M488.1,315.6h.01M476.1,312.0h.01M473.4,331.2h.01M481.1,329.3h.01M465.2,316.2h.01M482.1,326.8h.01M485.3,312.3h.01M482.5,321.6h.01M479.1,324.8h.01M475.6,312.2h.01M468.7,313.6h.01M466.5,321.2h.01M489.4,317.9h.01M471.3,315.4h.01M462.9,322.4h.01M473.8,320.6h.01M469.6,324.8h.01M467.5,325.2h.01M472.2,326.6h.01M470.2,324.6h.01M481.9,321.5h.01M492.3,323.0h.01M470.2,326.0h.01M470.8,318.9h.01M478.1,323.1h.01M492.9,311.9h.01M475.7,328.5h.01M476.6,323.9h.01M491.4,314.9h.01M478.4,326.6h.01M472.9,311.9h.01M469.3,323.1h.01M479.7,332.7h.01M489.6,313.0h.01M487.1,327.3h.01M492.2,321.1h.01M473.1,322.9h.01M491.6,325.6h.01M492.9,326.6h.01M472.8,316.1h.01M494.2,313.2h.01M474.9,320.2h.01M470.0,318.7h.01M478.1,335.8h.01M477.4,319.0h.01M479.1,327.4h.01M470.8,319.6h.01M462.7,326.1h.01M484.0,330.7h.01M467.5,334.6h.01M485.7,320.4h.01M474.6,320.2h.01M467.4,326.5h.01M472.7,317.8h.01M482.5,322.7h.01M472.9,320.6h.01M473.7,329.8h.01M486.8,317.8h.01M477.6,330.0h.01M475.5,332.3h.01M481.9,325.9h.01M459.8,326.9h.01M481.0,325.4h.01M482.2,325.1h.01M473.5,327.2h.01M478.6,315.9h.01M469.1,322.9h.01M480.9,309.2h.01M459.9,328.1h.01M477.9,338.6h.01M464.5,320.6h.01M472.7,325.2h.01M490.4,331.4h.01M469.1,329.2h.01M467.3,323.8h.01M479.5,325.6h.01M471.0,329.8h.01M477.4,321.9h.01M475.7,315.8h.01M484.3,324.0h.01M482.0,332.8h.01M470.4,320.3h.01M478.1,327.0h.01M476.4,327.4h.01M482.0,311.8h.01M472.0,310.2h.01M475.5,319.6h.01M483.2,323.0h.01M477.4,329.3h.01M483.2,314.8h.01M471.9,323.9h.01M493.0,320.8h.01M476.5,323.5h.01M484.9,321.5h.01M480.6,319.5h.01M473.2,317.4h.01M483.8,318.8h.01M482.8,324.4h.01M486.6,306.4h.01M469.5,314.9h.01M476.6,326.7h.01M500.3,331.0h.01M489.9,324.2h.01M474.6,325.1h.01M458.9,327.4h.01M478.1,325.6h.01M469.0,315.6h.01M472.3,321.7h.01M481.1,319.9h.01M481.1,326.0h.01M467.8,321.4h.01M464.3,318.8h.01M486.0,317.8h.01M494.4,324.9h.01M485.8,322.6h.01M485.6,328.4h.01M478.9,318.9h.01M473.2,333.3h.01M476.4,319.3h.01M471.8,312.2h.01M473.6,323.9h.01M473.7,317.6h.01M481.6,324.7h.01M474.2,323.8h.01M469.4,327.0h.01M469.3,320.0h.01M484.1,291.0h.01M474.1,344.9h.01M483.9,272.9h.01M485.4,272.1h.01M487.5,311.4h.01M496.4,325.8h.01M479.4,320.2h.01M479.4,297.6h.01M479.1,262.3h.01M481.2,311.2h.01M483.9,266.3h.01M477.9,314.6h.01M491.6,334.2h.01M468.8,309.8h.01M479.2,316.4h.01M469.8,297.0h.01M488.5,286.2h.01M480.2,279.0h.01M491.7,271.6h.01M475.9,292.9h.01M480.5,345.2h.01M485.1,282.2h.01M487.5,307.4h.01M485.2,298.6h.01M486.6,274.9h.01M473.6,290.9h.01M474.4,315.0h.01M498.2,326.5h.01M486.5,307.2h.01M477.6,272.2h.01M485.4,297.0h.01M488.9,301.1h.01M501.2,314.1h.01M503.4,353.9h.01M508.9,346.2h.01M502.3,340.7h.01" stroke="#000" stroke-width="1.3" stroke-linecap="square" fill="none"/>
</g>
<rect x="412.4" y="257.1" width="106.5" height="107.2" fill="none" stroke="#000" stroke-width="1.2"/>
<path d="M410.20,337.80L411.80,337.80" stroke="#888" stroke-width="0.6" fill="none"/>
<path d="M439.20,364.90L439.20,366.50" stroke="#888" stroke-width="0.6" fill="none"/>
<path d="M410.20,311.30L411.80,311.30" stroke="#888" stroke-width="0.6" fill="none"/>
<path d="M466.00,364.90L466.00,366.50" stroke="#888" stroke-width="0.6" fill="none"/>
<path d="M410.20,284.80L411.80,284.80" stroke="#888" stroke-width="0.6" fill="none"/>
<path d="M492.80,364.90L492.80,366.50" stroke="#888" stroke-width="0.6" fill="none"/>
<path d="M412.70,364.90L412.70,366.50" stroke="#888" stroke-width="0.6" fill="none"/>
<text x="515.00" y="268.40" font-size="9.6" text-anchor="end" font-weight="normal" font-style="normal" fill="#000" stroke="#000" stroke-width="0.22">10.47</text>
<clipPath id="c3"><rect x="291.2" y="379.2" width="107.1" height="106.3"/></clipPath>
<path d="M341.70,379.20L341.70,485.50" stroke="#555" stroke-width="0.8" fill="none"/>
<path d="M291.20,434.60L398.30,434.60" stroke="#555" stroke-width="0.8" fill="none"/>
<g clip-path="url(#c3)">
<polygon points="290.2,457.7 291.4,458.7 291.8,457.6 292.3,456.8 293.5,457.8 293.9,456.7 294.3,455.7 295.1,455.7 296.1,456.1 296.8,455.6 297.6,455.7 297.6,454.0 298.4,454.0 299.2,453.9 300.2,454.3 300.4,453.2 301.2,453.3 301.6,452.4 302.6,452.9 302.8,451.6 303.6,451.7 304.5,451.8 305.0,451.3 305.4,450.5 306.3,450.7 306.5,449.6 308.1,451.1 307.8,449.0 308.6,449.1 309.4,449.3 309.8,448.3 311.0,449.5 311.6,448.9 312.0,447.9 312.7,447.4 313.7,448.1 313.9,446.6 314.9,447.1 315.8,448.1 316.5,447.8 317.2,447.7 317.7,446.5 318.5,446.9 319.3,446.8 319.9,446.3 320.8,446.9 321.1,445.0 321.8,444.9 322.6,445.4 323.4,445.5 324.1,445.7 324.7,444.9 325.5,445.3 326.0,443.8 326.7,443.7 327.5,444.1 328.1,443.7 328.9,445.3 329.6,445.2 330.3,444.7 331.0,445.1 331.7,444.4 332.3,443.1 333.0,443.4 333.7,443.1 334.5,444.7 335.2,444.7 335.9,445.1 336.4,444.5 337.0,445.1 337.8,444.1 338.5,444.7 339.3,444.0 340.0,444.3 340.7,444.3 341.3,445.1 342.1,444.2 342.8,444.4 343.5,444.4 344.2,445.0 344.9,445.1 345.6,445.6 346.3,446.2 347.0,445.3 347.8,445.0 348.4,446.0 349.2,444.6 349.9,444.6 350.6,444.7 351.3,444.8 352.0,445.6 352.6,446.4 353.3,446.2 354.1,445.2 354.9,444.8 355.4,446.8 356.1,447.1 356.9,446.4 357.6,446.4 358.3,446.0 358.9,447.1 359.8,445.6 360.4,446.8 361.2,445.6 361.5,446.9 362.2,447.1 362.9,447.7 364.2,446.2 364.7,447.3 365.6,447.0 365.9,448.9 366.7,448.0 367.5,448.1 368.5,448.1 369.0,448.6 368.5,450.5 369.5,450.5 370.9,449.9 370.6,450.7 371.7,451.1 370.5,452.3 370.2,453.2 372.4,453.2 371.2,454.4 372.0,454.9 371.9,455.8 372.5,456.3 373.5,456.8 373.6,457.5 373.6,458.2 372.3,459.1 373.6,459.7 371.9,460.6 372.9,461.3 374.1,461.9 372.7,462.8 373.0,463.5 373.6,464.2 372.9,465.0 374.0,465.6 374.0,466.2 372.7,466.8 374.4,467.7 372.5,468.2 373.8,469.0 372.9,469.7 372.4,470.3 372.2,471.0 374.2,471.9 373.6,472.6 372.8,473.2 373.5,474.0 373.8,474.7 373.6,475.4 372.7,476.1 372.1,476.7 372.5,477.5 373.5,478.3 372.9,479.0 372.7,479.7 373.0,480.4 372.0,481.1 372.3,481.8 372.8,482.6 371.3,483.2 372.7,484.1 370.8,484.6 371.9,485.4 371.9,486.2 370.9,486.8 372.6,487.7 371.4,488.3 372.5,489.1 372.5,488.5 290.0,488.5" fill="#000"/>
<path d="M293.4,459.6h.01M295.2,459.4h.01M292.2,460.9h.01M294.3,458.5h.01M292.7,459.5h.01M293.8,459.2h.01M300.7,454.0h.01M299.7,456.7h.01M297.7,457.0h.01M301.2,455.7h.01M299.4,455.5h.01M300.9,456.1h.01M304.2,453.2h.01M305.5,452.9h.01M305.0,452.0h.01M306.3,454.9h.01M307.0,454.3h.01M308.1,450.6h.01M312.9,448.2h.01M315.8,448.9h.01M310.5,450.2h.01M313.1,450.0h.01M312.4,452.4h.01M313.4,448.1h.01M321.6,449.4h.01M318.0,448.7h.01M321.9,449.3h.01M316.7,450.0h.01M317.8,449.4h.01M326.5,445.9h.01M328.2,447.2h.01M329.3,449.5h.01M326.0,447.1h.01M326.4,445.7h.01M332.4,445.4h.01M330.0,444.9h.01M335.4,447.2h.01M334.1,446.1h.01M332.5,445.7h.01M333.8,444.3h.01M332.2,449.9h.01M338.0,445.3h.01M337.0,444.6h.01M343.4,445.0h.01M342.8,447.5h.01M343.7,445.5h.01M344.2,445.8h.01M339.6,449.4h.01M349.4,447.3h.01M345.9,445.2h.01M347.1,445.5h.01M351.9,446.1h.01M352.9,447.6h.01M346.4,447.3h.01M347.5,446.6h.01M353.7,448.7h.01M359.9,447.8h.01M359.1,447.0h.01M354.4,446.5h.01M359.5,447.7h.01M354.5,446.3h.01M357.4,446.2h.01M361.5,447.6h.01M361.2,450.2h.01M361.6,448.9h.01M365.6,448.5h.01M364.2,456.0h.01M368.7,450.7h.01M370.4,451.6h.01M370.2,451.6h.01M370.7,453.6h.01M368.5,456.0h.01M371.6,455.2h.01M370.6,457.7h.01M368.6,454.9h.01M369.2,451.9h.01M370.9,464.6h.01M373.1,463.3h.01M372.5,461.5h.01M372.3,462.8h.01M371.7,461.4h.01M369.6,462.9h.01M372.3,459.6h.01M372.5,458.7h.01M368.6,474.7h.01M372.7,467.4h.01M369.4,475.4h.01M364.7,475.7h.01M373.1,469.4h.01M372.2,468.7h.01M373.0,466.3h.01M371.2,471.0h.01M373.2,467.8h.01M372.0,480.8h.01M372.2,478.2h.01M369.8,477.1h.01M369.4,480.2h.01M372.3,477.7h.01M372.3,477.3h.01M371.5,484.7h.01" stroke="#fff" stroke-width="0.9" stroke-linecap="square" fill="none"/>
<path d="M291.2,457.0h.01M294.6,452.9h.01M292.7,457.2h.01M291.3,456.3h.01M291.6,457.5h.01M296.4,455.0h.01M293.3,456.7h.01M294.6,455.8h.01M291.5,457.6h.01M294.3,455.7h.01M293.4,454.6h.01M292.7,455.3h.01M292.9,456.8h.01M292.5,453.6h.01M293.7,456.1h.01M299.9,451.6h.01M296.3,443.7h.01M302.3,451.7h.01M302.1,452.4h.01M302.9,452.2h.01M298.9,452.1h.01M302.1,451.4h.01M295.1,451.5h.01M300.6,453.1h.01M297.2,449.8h.01M300.2,452.4h.01M301.7,453.0h.01M297.4,451.6h.01M296.7,454.9h.01M301.8,452.7h.01M298.7,453.2h.01M296.4,447.8h.01M301.7,450.7h.01M297.6,454.9h.01M300.4,452.0h.01M296.7,451.2h.01M302.9,451.6h.01M301.0,446.9h.01M308.3,449.7h.01M302.9,450.2h.01M307.1,447.7h.01M303.1,452.1h.01M307.9,448.7h.01M308.4,449.4h.01M300.4,446.8h.01M306.9,447.7h.01M308.4,447.1h.01M309.2,449.1h.01M304.3,451.0h.01M309.3,449.1h.01M299.9,443.9h.01M307.1,449.1h.01M304.9,450.5h.01M306.1,447.1h.01M307.6,447.8h.01M305.1,449.8h.01M302.1,445.4h.01M313.5,446.2h.01M313.1,445.1h.01M310.4,447.5h.01M311.0,448.3h.01M312.1,444.0h.01M310.2,446.2h.01M312.4,447.1h.01M312.5,446.5h.01M308.4,429.8h.01M313.7,445.5h.01M312.2,444.0h.01M309.2,448.7h.01M310.6,448.7h.01M310.7,448.1h.01M308.7,439.8h.01M313.3,445.6h.01M314.7,446.4h.01M313.5,444.3h.01M311.7,445.6h.01M312.7,446.2h.01M319.3,445.2h.01M320.2,442.9h.01M315.6,444.8h.01M317.7,446.2h.01M320.2,443.2h.01M321.4,445.2h.01M319.8,445.7h.01M315.7,444.6h.01M316.3,446.4h.01M319.4,445.0h.01M320.3,445.6h.01M316.6,446.4h.01M315.9,446.3h.01M319.7,445.9h.01M319.0,444.9h.01M317.5,438.8h.01M316.8,445.4h.01M316.8,442.3h.01M318.0,445.3h.01M327.7,442.2h.01M326.2,443.2h.01M327.6,442.2h.01M325.3,444.0h.01M326.8,444.2h.01M324.9,444.1h.01M325.2,437.9h.01M326.9,444.1h.01M324.2,440.8h.01M324.2,445.1h.01M324.5,441.1h.01M322.3,445.2h.01M323.9,444.1h.01M323.5,440.6h.01M328.0,443.9h.01M323.5,443.2h.01M327.0,444.6h.01M323.1,444.6h.01M323.4,440.1h.01M332.7,439.1h.01M333.0,441.4h.01M328.2,439.6h.01M333.0,444.0h.01M331.2,442.6h.01M335.9,443.2h.01M335.7,443.6h.01M332.1,442.2h.01M334.9,443.9h.01M334.7,442.1h.01M329.0,441.0h.01M335.0,443.0h.01M332.1,443.7h.01M332.3,444.0h.01M335.5,442.7h.01M329.4,443.3h.01M329.0,443.8h.01M334.2,443.0h.01M335.2,439.4h.01M328.4,441.2h.01M330.1,444.0h.01M333.0,443.2h.01M329.2,442.4h.01M330.6,441.5h.01M335.8,440.8h.01M340.3,443.9h.01M344.1,444.6h.01M345.0,441.7h.01M337.4,443.1h.01M343.1,444.4h.01M344.8,444.9h.01M337.5,441.9h.01M344.3,444.5h.01M338.5,442.9h.01M340.4,439.0h.01M342.5,444.6h.01M341.0,444.3h.01M340.3,443.8h.01M342.4,443.5h.01M338.8,442.7h.01M345.0,441.9h.01M343.4,442.6h.01M345.1,443.0h.01M337.7,442.6h.01M345.8,427.8h.01M338.7,443.7h.01M337.7,441.7h.01M341.8,439.4h.01M341.9,442.4h.01M337.4,443.6h.01M345.6,444.8h.01M351.8,444.3h.01M353.2,444.3h.01M349.9,442.4h.01M348.7,443.9h.01M350.4,445.1h.01M347.7,444.2h.01M345.2,443.9h.01M350.2,442.8h.01M350.3,444.8h.01M349.3,444.1h.01M351.5,444.4h.01M347.3,442.4h.01M353.3,440.2h.01M345.4,442.1h.01M347.9,444.3h.01M346.3,444.4h.01M350.8,443.4h.01M347.1,445.1h.01M350.1,441.5h.01M352.8,444.6h.01M347.4,444.2h.01M349.1,445.3h.01M346.7,443.6h.01M349.3,441.3h.01M354.1,445.6h.01M358.6,444.5h.01M353.8,444.7h.01M358.5,446.0h.01M361.1,445.2h.01M359.7,442.3h.01M359.2,442.5h.01M360.3,445.7h.01M360.8,445.1h.01M358.6,441.5h.01M360.8,446.2h.01M355.0,445.1h.01M357.3,445.9h.01M359.2,442.6h.01M354.3,442.6h.01M361.9,440.0h.01M355.5,439.6h.01M361.1,445.3h.01M359.2,444.3h.01M355.8,445.0h.01M355.3,445.5h.01M359.0,446.0h.01M361.6,446.0h.01M356.0,445.7h.01M361.4,440.0h.01M365.2,446.5h.01M364.5,447.0h.01M362.5,446.1h.01M365.0,446.3h.01M364.5,446.5h.01M369.5,422.2h.01M366.9,446.4h.01M366.3,447.4h.01M365.5,446.2h.01M363.9,444.3h.01M366.5,445.1h.01M367.0,437.3h.01M365.6,446.6h.01M366.3,447.8h.01M365.6,446.5h.01M363.1,446.5h.01M370.6,445.7h.01M371.1,450.6h.01M369.5,445.1h.01M372.0,449.3h.01M373.4,441.4h.01M370.4,450.6h.01M369.9,449.4h.01M369.9,449.0h.01M375.1,444.6h.01M370.2,449.0h.01M370.9,450.3h.01M371.0,450.8h.01M367.7,447.2h.01M368.6,446.7h.01M371.6,448.7h.01M373.2,454.9h.01M373.7,455.3h.01M371.6,451.6h.01M374.6,455.4h.01M375.2,456.2h.01M375.0,449.8h.01M374.2,452.2h.01M372.8,454.4h.01M373.1,456.6h.01M371.8,453.7h.01M373.9,453.1h.01M374.6,449.8h.01M372.5,456.3h.01M371.3,451.5h.01M373.0,455.2h.01M372.5,452.9h.01M372.9,456.6h.01M372.4,454.0h.01M372.3,450.4h.01M373.1,456.4h.01M374.1,459.7h.01M374.2,463.1h.01M373.9,459.5h.01M375.0,463.5h.01M372.9,457.7h.01M373.2,458.6h.01M376.6,459.7h.01M373.2,459.2h.01M374.7,463.2h.01M375.2,464.4h.01M374.9,462.5h.01M373.4,457.7h.01M380.6,459.6h.01M374.3,465.0h.01M373.6,461.7h.01M374.5,457.9h.01M378.6,465.4h.01M375.2,465.7h.01M376.8,465.8h.01M374.2,462.7h.01M374.0,458.1h.01M375.8,457.7h.01M374.1,465.1h.01M375.6,459.2h.01M374.6,462.9h.01M373.7,457.5h.01M373.9,464.6h.01M375.4,459.5h.01M379.5,473.5h.01M373.4,471.5h.01M373.5,476.2h.01M383.8,471.7h.01M373.7,472.4h.01M377.6,468.6h.01M374.7,470.3h.01M373.6,468.3h.01M374.5,468.0h.01M375.1,468.1h.01M374.3,476.8h.01M378.4,466.8h.01M372.9,475.3h.01M373.6,471.3h.01M374.9,467.1h.01M373.3,473.6h.01M374.9,472.9h.01M375.1,469.5h.01M375.4,475.9h.01M373.5,472.6h.01M377.2,476.9h.01M374.6,475.0h.01M373.8,474.8h.01M374.5,474.8h.01M376.5,475.8h.01M384.1,468.3h.01M373.7,468.6h.01M373.8,473.4h.01M377.6,472.5h.01M374.1,472.0h.01M373.2,473.5h.01M376.7,481.5h.01M374.1,483.3h.01M375.4,480.7h.01M372.6,482.0h.01M372.6,485.5h.01M372.2,482.8h.01M373.5,480.4h.01M372.5,479.3h.01M375.4,478.9h.01M373.1,477.3h.01M373.0,479.0h.01M372.6,482.3h.01M373.6,478.3h.01M373.8,478.0h.01M372.3,484.3h.01M373.3,480.3h.01M374.1,483.8h.01M373.8,480.3h.01M373.3,482.7h.01M375.2,479.1h.01M375.2,480.9h.01M387.1,482.6h.01M372.5,479.2h.01M374.0,478.9h.01M372.4,481.2h.01M374.3,481.2h.01M372.4,483.3h.01M372.8,479.5h.01M356.4,391.3h.01M360.6,415.1h.01M362.3,423.3h.01M355.0,393.0h.01M358.8,401.6h.01M366.3,392.8h.01M353.6,402.8h.01M352.0,404.8h.01M356.2,402.4h.01M356.7,403.3h.01M365.8,404.4h.01M365.3,392.6h.01M361.5,415.3h.01M354.5,397.5h.01M354.5,406.9h.01M356.3,385.3h.01M351.6,402.3h.01M359.0,399.5h.01M359.8,412.5h.01M356.6,413.0h.01M355.4,437.0h.01M359.5,394.6h.01M356.6,382.8h.01M363.6,415.6h.01M364.5,401.6h.01M366.2,391.7h.01M358.9,409.0h.01M361.7,394.5h.01M356.8,412.8h.01M358.6,383.4h.01M367.1,395.6h.01M362.1,412.4h.01M363.2,404.3h.01M358.4,409.2h.01M357.5,404.8h.01M357.2,395.7h.01M360.1,418.9h.01M359.5,405.9h.01M364.2,390.1h.01M362.9,398.3h.01M359.4,419.1h.01M367.6,424.3h.01M356.5,393.9h.01M363.7,406.5h.01M348.0,416.7h.01M363.9,414.4h.01M371.3,416.3h.01M359.8,386.1h.01M360.0,397.8h.01M360.1,406.8h.01M358.1,402.7h.01M361.1,409.6h.01M367.4,395.7h.01M357.2,429.4h.01M361.4,408.5h.01M353.6,416.0h.01M366.9,414.0h.01M351.7,399.2h.01M359.3,406.5h.01M366.3,413.1h.01M351.9,403.3h.01M361.2,411.5h.01M362.2,422.6h.01M359.2,398.6h.01M359.8,401.3h.01M356.4,405.6h.01M360.7,388.5h.01M358.7,398.1h.01M366.6,407.7h.01M359.8,402.7h.01M365.4,386.2h.01M356.3,413.1h.01M353.6,385.8h.01M356.6,394.5h.01M360.7,392.7h.01M365.9,406.5h.01M356.3,408.6h.01M357.3,408.3h.01M357.0,419.0h.01M364.0,396.9h.01M361.4,399.8h.01M352.1,402.4h.01M360.9,394.5h.01M366.0,425.7h.01M354.6,395.0h.01M358.7,408.0h.01M355.6,399.7h.01M365.5,394.8h.01M360.2,391.3h.01M360.0,398.7h.01M366.3,403.7h.01M357.5,400.3h.01M366.3,412.3h.01M358.9,389.6h.01M359.8,415.3h.01M360.8,390.1h.01M361.8,401.7h.01M360.1,402.4h.01M355.8,395.4h.01M364.5,408.6h.01M355.2,386.9h.01M365.1,409.5h.01M360.7,399.3h.01M368.9,389.5h.01M358.2,409.6h.01M362.1,409.5h.01M353.4,411.5h.01M365.7,399.2h.01M364.8,401.0h.01M360.0,403.9h.01M359.1,405.0h.01M365.9,417.2h.01M363.0,409.4h.01M354.2,402.1h.01M362.3,404.9h.01M357.8,395.1h.01M364.6,410.1h.01M346.9,431.6h.01M362.9,405.8h.01M365.4,409.6h.01M368.1,399.8h.01M364.6,411.9h.01M351.7,425.0h.01M358.3,391.1h.01M359.8,414.5h.01M355.4,402.4h.01M358.1,402.3h.01M347.6,417.8h.01M355.4,410.9h.01M360.2,386.1h.01M359.6,394.4h.01M359.2,397.6h.01M359.4,402.8h.01M361.1,409.7h.01M355.3,416.9h.01M369.7,406.6h.01M369.9,417.1h.01M366.3,399.7h.01M366.1,384.4h.01M351.1,410.2h.01M368.2,407.7h.01M355.0,390.4h.01M361.2,407.3h.01M353.5,402.1h.01M358.8,398.3h.01M348.5,393.3h.01M359.8,422.1h.01M367.0,400.4h.01M355.4,407.7h.01M357.6,405.0h.01M363.5,407.6h.01M364.8,422.6h.01M353.7,419.2h.01M350.5,395.9h.01M366.0,394.7h.01M356.6,406.3h.01M356.2,400.7h.01M360.7,401.4h.01M357.1,397.2h.01M354.7,409.9h.01M375.1,400.6h.01M352.5,423.2h.01M365.6,400.7h.01M357.1,401.5h.01M361.4,393.0h.01M360.8,381.9h.01M354.7,393.4h.01M357.6,402.4h.01M358.3,404.9h.01M365.7,428.9h.01M358.1,407.6h.01M358.5,405.4h.01M357.3,399.6h.01M361.4,417.7h.01M360.7,403.3h.01M358.6,391.4h.01M355.0,404.8h.01M364.5,404.6h.01M355.7,402.7h.01M364.4,403.7h.01M365.0,389.3h.01M361.5,393.0h.01M350.8,404.1h.01M362.5,408.7h.01M365.6,404.9h.01M348.5,411.1h.01M364.4,399.8h.01M357.7,404.1h.01M360.1,392.1h.01M364.9,421.4h.01M363.0,405.7h.01M343.8,408.8h.01M362.4,409.9h.01M361.1,395.4h.01M360.8,403.2h.01M360.3,412.4h.01M361.3,400.3h.01M355.4,385.8h.01M368.6,401.1h.01M365.2,407.5h.01M360.5,408.9h.01M360.3,420.0h.01M357.7,401.6h.01M359.6,407.5h.01M367.2,396.7h.01M347.9,408.3h.01M363.2,403.1h.01M359.9,410.4h.01M355.5,394.5h.01M351.8,402.1h.01M355.9,402.4h.01M354.3,383.1h.01M365.3,407.5h.01M365.1,416.5h.01M351.7,411.8h.01M354.1,382.3h.01M354.3,397.7h.01M368.5,401.2h.01M358.8,407.9h.01M361.5,402.3h.01M369.9,393.4h.01M353.8,383.7h.01M353.8,393.9h.01M357.2,400.1h.01M367.0,411.7h.01M357.6,405.5h.01M356.5,401.2h.01M359.2,424.0h.01M354.1,393.0h.01M362.1,394.4h.01M355.1,407.1h.01M354.8,417.3h.01M363.0,398.5h.01M359.2,397.4h.01M367.3,404.7h.01M360.7,395.4h.01M367.6,403.5h.01M356.5,418.9h.01M361.5,399.5h.01M364.4,398.5h.01M359.3,413.4h.01M354.2,401.9h.01M359.5,407.3h.01M354.8,392.6h.01M358.4,394.7h.01M360.6,402.6h.01M360.6,405.4h.01M354.5,400.0h.01M360.8,415.8h.01M361.3,404.1h.01M369.7,399.2h.01M366.4,410.0h.01M354.0,403.4h.01M363.7,392.2h.01M366.8,398.6h.01M362.1,401.5h.01M361.8,396.3h.01M367.5,395.7h.01M367.9,400.5h.01M355.5,411.6h.01M360.3,400.7h.01M354.0,400.9h.01M359.1,395.2h.01M353.8,394.1h.01M354.7,414.0h.01M363.8,398.6h.01M354.6,402.2h.01M362.0,397.4h.01M358.9,413.5h.01M358.4,399.4h.01M365.6,402.4h.01M359.4,394.0h.01M364.7,405.6h.01M358.1,402.1h.01M366.3,402.4h.01M358.9,404.6h.01M360.1,412.9h.01M358.2,399.1h.01M356.2,404.7h.01M353.3,398.1h.01M352.1,402.2h.01M358.6,401.1h.01M356.9,394.6h.01M360.6,381.0h.01M354.4,419.3h.01M360.9,418.1h.01M369.0,404.6h.01M355.0,407.6h.01M355.4,404.1h.01M360.9,418.9h.01M358.9,401.7h.01M358.6,426.5h.01M359.2,412.0h.01M355.9,399.5h.01M372.9,395.0h.01M362.4,409.1h.01M362.5,413.3h.01M358.5,418.3h.01M361.4,401.5h.01M362.3,404.8h.01M359.1,408.9h.01M355.8,407.9h.01M365.0,402.6h.01M358.4,399.9h.01M352.3,391.0h.01M362.0,400.4h.01M365.2,422.2h.01M357.4,388.3h.01M366.1,409.6h.01M367.8,406.3h.01M361.2,395.7h.01M367.8,404.3h.01M366.7,403.9h.01M357.1,410.5h.01M364.8,380.1h.01M357.8,409.2h.01M365.1,403.8h.01M356.1,407.0h.01M350.7,407.7h.01M355.9,410.0h.01M364.1,379.3h.01M360.2,388.7h.01M365.0,384.6h.01M365.7,400.5h.01M359.6,404.8h.01M355.6,402.5h.01M375.1,404.1h.01M356.1,425.3h.01M364.5,404.9h.01M361.5,389.7h.01M357.4,394.0h.01M367.6,414.0h.01M360.4,392.9h.01M352.0,397.3h.01M354.5,404.4h.01M352.2,405.6h.01M359.6,395.2h.01M360.8,394.6h.01M357.8,395.5h.01M369.2,390.2h.01M360.8,394.5h.01M357.0,412.4h.01M359.0,402.4h.01M349.4,397.7h.01M369.3,412.1h.01M345.0,389.1h.01M358.7,388.6h.01M360.1,393.8h.01M367.0,417.0h.01M365.5,393.1h.01M361.1,415.3h.01M355.5,403.2h.01M354.7,404.7h.01M366.7,402.3h.01M370.4,400.8h.01M363.6,419.1h.01M355.2,413.0h.01M352.7,397.8h.01M357.7,418.0h.01M354.3,416.5h.01M353.1,404.6h.01M363.9,403.8h.01M370.2,404.6h.01M353.2,401.8h.01M364.9,386.0h.01M349.3,423.0h.01M354.0,414.0h.01M362.2,395.9h.01M356.0,408.5h.01M357.3,412.5h.01M361.0,401.2h.01M368.5,402.8h.01M353.6,398.9h.01M357.5,419.9h.01M363.3,397.2h.01M356.6,404.0h.01M360.0,423.2h.01M356.7,395.7h.01M354.9,405.1h.01M365.0,412.3h.01M353.7,407.9h.01M351.6,408.8h.01M357.0,434.9h.01M350.1,429.7h.01M358.0,398.4h.01M372.1,417.3h.01M348.6,406.1h.01M354.3,395.8h.01M358.8,411.0h.01M368.2,408.2h.01M344.3,428.8h.01M366.0,400.5h.01M368.5,413.2h.01M349.7,421.6h.01M359.9,405.5h.01M361.6,402.0h.01M358.0,415.9h.01M362.6,418.9h.01M340.5,406.0h.01M360.9,422.2h.01M350.5,426.3h.01M351.2,428.6h.01M359.3,415.4h.01M347.4,401.2h.01M359.6,415.3h.01M356.7,407.5h.01M368.3,402.3h.01M362.1,424.2h.01M361.0,414.1h.01M348.8,435.0h.01M368.6,399.4h.01M351.5,397.9h.01M347.1,410.6h.01M350.4,412.3h.01M361.3,401.9h.01M348.6,423.8h.01M364.7,409.1h.01M351.1,417.8h.01M359.7,424.7h.01M359.2,403.2h.01M351.9,413.6h.01M346.6,400.6h.01M364.5,422.7h.01M362.1,430.7h.01M355.7,403.1h.01M358.8,423.8h.01M350.5,438.1h.01M367.3,394.4h.01M351.5,421.6h.01M360.5,426.8h.01M361.1,410.1h.01M354.1,417.7h.01M361.6,402.2h.01M355.6,412.4h.01M354.7,396.3h.01M361.8,390.8h.01M357.8,401.1h.01M357.9,430.9h.01M374.8,422.0h.01M356.4,395.9h.01M356.1,416.3h.01M345.8,403.9h.01M360.5,416.3h.01M354.7,397.5h.01M360.0,398.1h.01M373.1,408.8h.01M354.0,427.6h.01M351.0,404.0h.01M362.8,392.1h.01M360.4,402.3h.01M348.6,411.5h.01M356.8,410.7h.01M361.1,397.9h.01M366.0,435.1h.01M346.5,404.0h.01M357.3,392.5h.01M360.2,409.6h.01M355.8,419.3h.01M354.5,404.6h.01M362.0,413.3h.01M362.3,427.5h.01M349.9,416.3h.01M367.2,413.3h.01M357.9,418.1h.01M362.0,414.8h.01M354.3,416.9h.01M353.6,413.9h.01M356.6,383.5h.01M356.7,416.8h.01M361.1,410.7h.01M350.6,393.0h.01M342.3,415.1h.01M365.2,429.9h.01M371.3,395.5h.01M362.7,399.8h.01M343.5,410.0h.01M353.8,419.4h.01M363.0,413.9h.01M369.0,436.9h.01M355.5,424.2h.01M369.3,408.6h.01M354.8,414.7h.01M353.9,420.7h.01M365.4,407.4h.01M363.9,410.1h.01M373.4,420.8h.01M369.8,423.2h.01M352.9,405.5h.01M362.0,399.2h.01M367.5,410.2h.01M374.3,400.8h.01M349.8,427.1h.01M356.5,391.8h.01M369.3,415.1h.01M358.4,402.8h.01M360.3,414.9h.01M354.6,410.2h.01M362.5,400.2h.01M370.2,411.4h.01M353.7,415.9h.01M348.8,420.5h.01M368.2,389.4h.01M357.3,414.7h.01M352.2,393.6h.01M349.9,391.8h.01M362.0,393.9h.01M359.7,405.5h.01M368.5,405.1h.01M361.8,416.8h.01M354.0,402.7h.01M363.6,407.6h.01M349.2,413.5h.01M363.9,407.6h.01M367.4,397.9h.01M341.6,397.8h.01M367.3,396.4h.01M355.8,410.8h.01M360.0,432.0h.01M366.0,425.5h.01M353.7,423.4h.01M364.3,387.9h.01M357.9,396.8h.01M336.7,402.8h.01M367.2,403.4h.01M372.2,426.3h.01M361.6,414.0h.01M355.3,404.2h.01M358.3,390.7h.01M366.3,438.4h.01M369.0,411.8h.01M371.4,409.2h.01M344.2,416.4h.01M368.7,403.8h.01M364.3,418.8h.01M356.0,399.2h.01M362.1,425.4h.01M363.4,424.3h.01M367.8,425.1h.01M362.0,443.9h.01M366.3,424.3h.01M354.9,404.7h.01M351.4,399.3h.01M354.4,406.0h.01M343.9,415.9h.01M353.9,404.9h.01M350.2,436.9h.01M366.1,417.2h.01M350.1,410.8h.01M350.3,428.1h.01M351.4,418.8h.01M343.4,438.6h.01M349.5,429.3h.01M353.2,413.1h.01M348.6,436.3h.01M353.0,432.1h.01M331.1,425.8h.01M328.5,427.3h.01M357.7,427.9h.01M350.7,429.4h.01M343.8,423.3h.01M348.4,426.0h.01M374.0,439.3h.01M336.5,435.0h.01M342.3,425.1h.01M341.6,436.2h.01M344.8,410.6h.01M344.1,422.1h.01M326.6,433.3h.01M349.8,436.2h.01M324.0,406.2h.01M359.6,430.4h.01M335.3,431.0h.01M348.2,424.2h.01M339.6,422.9h.01M346.5,412.2h.01M341.5,430.9h.01M347.3,412.5h.01M332.3,421.6h.01M352.4,425.6h.01M340.0,411.2h.01M344.1,449.5h.01M337.2,451.0h.01M325.0,414.7h.01M357.7,416.4h.01M339.2,436.0h.01M332.1,418.6h.01M329.3,438.7h.01M348.3,439.9h.01M349.4,432.8h.01M345.3,431.0h.01M334.7,422.1h.01M333.2,438.9h.01M332.9,423.7h.01M352.9,432.6h.01M351.3,428.8h.01M348.9,423.6h.01M338.8,422.5h.01M337.5,410.1h.01M347.4,393.2h.01M344.9,422.0h.01M351.9,423.2h.01M333.4,437.3h.01M315.9,421.0h.01M352.1,442.2h.01M328.6,408.5h.01M326.8,432.6h.01M321.8,437.4h.01M320.2,432.8h.01M338.0,420.8h.01M358.6,428.9h.01M341.4,449.1h.01M329.1,430.6h.01M345.5,426.1h.01M332.3,422.3h.01M343.2,425.8h.01M347.2,409.2h.01M334.6,439.2h.01M321.4,436.0h.01M333.0,437.8h.01M327.6,424.8h.01M320.0,435.0h.01M331.6,424.9h.01M327.4,439.8h.01M362.8,444.9h.01M355.8,438.3h.01M367.8,449.3h.01M376.0,444.4h.01M369.4,443.6h.01M355.1,438.6h.01M351.8,432.6h.01M361.0,441.6h.01M366.5,449.8h.01M352.5,435.1h.01M357.2,442.8h.01M358.7,434.0h.01M365.5,438.5h.01M356.1,446.4h.01M368.5,436.9h.01M362.8,437.7h.01M358.0,436.6h.01M360.0,436.1h.01M364.1,443.7h.01M360.2,432.2h.01M368.2,437.3h.01M373.7,443.6h.01M361.6,447.9h.01M354.4,440.4h.01M366.9,440.7h.01M361.9,434.5h.01M371.3,433.9h.01M342.5,437.0h.01M369.1,440.1h.01M359.7,439.7h.01M364.7,437.9h.01M357.1,438.1h.01M356.2,443.8h.01M360.9,443.0h.01M357.1,433.9h.01M378.5,446.5h.01M365.9,442.2h.01M360.7,444.7h.01M346.9,440.7h.01M369.4,443.9h.01M358.2,437.3h.01M357.3,444.3h.01M371.2,434.4h.01M359.4,440.2h.01M353.9,447.2h.01M355.6,442.0h.01M360.7,438.9h.01M355.6,433.9h.01M367.5,443.4h.01M365.4,436.9h.01M355.7,439.1h.01M355.4,438.4h.01M353.1,449.4h.01M353.0,422.9h.01M358.0,444.8h.01M352.7,447.5h.01M354.9,445.6h.01M365.9,445.6h.01M360.1,451.0h.01M350.4,449.2h.01M356.2,438.1h.01M346.6,436.4h.01M357.5,431.3h.01M353.1,437.2h.01M370.4,447.3h.01M355.6,434.4h.01M358.1,448.0h.01M355.9,439.3h.01M374.0,439.6h.01M356.2,431.4h.01M359.7,435.4h.01M376.6,437.0h.01M358.5,435.3h.01M359.9,440.0h.01M372.1,434.0h.01M355.5,436.9h.01M362.5,439.0h.01M357.7,442.2h.01M356.9,437.1h.01M350.3,433.4h.01M326.1,401.2h.01M323.1,408.1h.01M313.8,418.5h.01M320.8,419.6h.01M333.5,419.6h.01M319.6,431.2h.01M377.3,449.6h.01M377.3,484.2h.01M340.4,402.3h.01" stroke="#000" stroke-width="1.3" stroke-linecap="square" fill="none"/>
</g>
<rect x="291.2" y="379.2" width="107.1" height="106.3" fill="none" stroke="#000" stroke-width="1.2"/>
<path d="M289.00,459.00L290.60,459.00" stroke="#888" stroke-width="0.6" fill="none"/>
<path d="M318.00,486.10L318.00,487.70" stroke="#888" stroke-width="0.6" fill="none"/>
<path d="M289.00,432.50L290.60,432.50" stroke="#888" stroke-width="0.6" fill="none"/>
<path d="M344.80,486.10L344.80,487.70" stroke="#888" stroke-width="0.6" fill="none"/>
<path d="M289.00,406.00L290.60,406.00" stroke="#888" stroke-width="0.6" fill="none"/>
<path d="M371.60,486.10L371.60,487.70" stroke="#888" stroke-width="0.6" fill="none"/>
<path d="M291.50,486.10L291.50,487.70" stroke="#888" stroke-width="0.6" fill="none"/>
<text x="393.90" y="391.70" font-size="9.6" text-anchor="end" font-weight="normal" font-style="normal" fill="#000" stroke="#000" stroke-width="0.22">8.54</text>
<clipPath id="c4"><rect x="411.9" y="379.2" width="107.0" height="106"/></clipPath>
<path d="M461.90,379.20L461.90,485.20" stroke="#555" stroke-width="0.8" fill="none"/>
<path d="M411.90,434.60L518.90,434.60" stroke="#555" stroke-width="0.8" fill="none"/>
<g clip-path="url(#c4)">
<polygon points="410.7,460.9 411.7,461.0 412.4,460.8 412.0,458.9 413.1,459.1 413.8,458.8 414.9,459.1 415.5,458.5 416.2,458.3 415.8,456.2 417.5,457.3 417.8,456.4 418.2,455.6 418.7,455.0 419.7,455.2 419.8,454.0 420.4,453.5 420.5,452.5 422.3,453.7 422.7,452.9 423.5,452.8 423.9,452.0 424.7,451.8 425.5,451.7 425.2,449.8 426.5,450.4 426.5,449.1 427.1,448.5 427.8,448.0 429.5,448.8 429.3,447.4 429.5,446.4 430.4,446.3 431.1,445.8 431.6,445.8 432.0,444.7 432.9,444.9 433.8,445.0 434.4,444.4 435.1,444.1 436.1,444.4 436.3,443.1 436.9,442.5 437.6,442.6 438.5,443.9 439.1,443.0 439.7,442.1 440.5,443.4 441.1,442.5 441.8,442.0 442.6,442.2 443.3,442.6 444.1,443.2 444.6,441.6 445.5,442.7 446.0,441.7 446.7,441.8 447.4,441.3 448.2,442.6 448.8,440.7 449.5,441.2 450.2,440.9 451.0,442.3 451.6,441.1 452.4,441.8 453.0,441.1 453.7,441.1 454.4,441.7 455.1,440.5 455.8,441.7 456.5,441.6 457.2,441.1 457.9,442.4 458.7,440.8 459.3,442.1 460.1,440.9 460.7,442.6 461.4,442.6 462.1,441.7 462.9,442.5 463.6,442.0 464.3,442.5 465.0,441.4 465.7,441.4 466.4,441.5 467.1,442.7 467.8,442.9 468.5,441.7 469.2,442.8 469.9,441.4 470.6,441.8 471.3,440.9 472.0,441.3 472.7,441.7 473.4,441.4 474.0,442.2 474.7,442.8 475.3,443.4 476.2,442.1 476.9,442.2 477.6,442.4 478.3,442.7 479.0,442.9 479.8,442.0 480.3,443.3 480.9,444.0 482.0,442.4 482.7,443.0 483.5,442.8 484.3,442.8 484.8,444.1 485.4,444.9 486.3,444.3 486.7,444.3 487.1,444.9 488.2,444.5 488.2,445.9 489.7,445.0 489.3,446.8 490.0,447.0 491.2,446.3 490.5,447.7 491.8,447.8 491.4,448.9 492.0,449.4 492.5,450.0 492.5,450.9 494.0,451.0 494.6,451.5 494.6,452.2 493.0,453.1 492.8,453.8 493.8,454.4 494.5,455.0 494.2,455.8 495.1,456.4 495.3,457.1 494.7,457.9 493.8,458.7 494.2,459.3 493.5,460.1 494.3,460.8 495.2,461.4 494.3,461.9 493.9,462.6 494.6,463.4 495.3,464.1 494.7,464.8 493.5,465.4 494.1,466.2 493.6,466.8 494.8,467.7 493.9,468.3 493.9,469.0 494.7,469.8 493.4,470.4 493.7,471.1 494.7,471.9 493.2,472.4 493.6,473.2 493.8,474.0 493.0,474.6 493.5,475.4 493.0,476.1 493.8,476.9 493.1,477.5 493.4,478.3 493.0,479.0 493.1,479.7 492.4,480.4 491.8,481.0 492.1,481.8 492.0,482.5 491.2,483.1 492.7,484.0 492.1,484.7 491.9,485.4 492.3,486.2 490.8,486.7 490.9,487.5 492.1,488.3 492.5,489.1 492.5,488.2 410.0,488.2" fill="#000"/>
<path d="M419.6,461.7h.01M412.2,460.6h.01M416.0,458.0h.01M416.9,457.4h.01M414.9,458.6h.01M415.5,458.2h.01M420.0,456.9h.01M420.7,454.1h.01M418.0,456.3h.01M421.3,455.6h.01M427.2,452.6h.01M423.3,453.4h.01M421.6,454.0h.01M425.3,451.3h.01M426.4,450.4h.01M425.0,453.1h.01M429.7,449.7h.01M429.4,447.8h.01M429.2,450.0h.01M432.3,447.6h.01M437.8,444.9h.01M437.7,446.2h.01M435.9,445.2h.01M432.8,445.7h.01M432.2,445.6h.01M434.3,445.1h.01M442.8,445.2h.01M440.4,446.3h.01M444.7,442.5h.01M442.7,442.8h.01M438.2,443.4h.01M439.4,442.8h.01M438.2,445.6h.01M453.5,444.8h.01M446.6,442.0h.01M453.3,442.4h.01M449.0,443.8h.01M450.5,442.4h.01M447.3,442.1h.01M452.2,445.5h.01M454.7,442.0h.01M458.8,442.3h.01M458.5,442.9h.01M456.6,441.9h.01M457.8,444.4h.01M455.5,442.9h.01M461.2,443.3h.01M465.8,446.2h.01M469.5,451.2h.01M465.4,443.0h.01M466.7,444.9h.01M468.1,443.3h.01M467.2,445.5h.01M465.9,442.2h.01M472.6,442.6h.01M471.3,448.0h.01M475.6,445.1h.01M474.9,443.6h.01M472.7,445.7h.01M474.7,443.3h.01M477.1,446.0h.01M486.8,445.5h.01M482.2,446.4h.01M482.7,444.0h.01M483.0,444.3h.01M481.0,445.7h.01M481.9,445.1h.01M487.8,445.3h.01M488.6,448.5h.01M488.8,447.6h.01M486.7,445.8h.01M491.0,452.4h.01M491.0,450.7h.01M491.0,447.7h.01M493.2,451.2h.01M490.6,448.5h.01M492.4,459.2h.01M490.2,461.2h.01M493.4,454.5h.01M493.0,452.9h.01M488.5,453.2h.01M493.1,457.8h.01M489.7,452.6h.01M491.4,454.4h.01M493.2,453.8h.01M493.2,463.3h.01M492.9,464.8h.01M493.4,469.5h.01M493.3,463.2h.01M493.2,466.1h.01M493.9,465.8h.01M492.4,463.0h.01M492.1,468.5h.01M492.8,468.6h.01M489.2,475.2h.01M491.4,481.1h.01M492.2,476.7h.01M491.8,482.3h.01M492.5,476.3h.01M491.1,478.8h.01M489.5,478.8h.01M490.1,474.6h.01M490.1,479.4h.01M492.2,478.9h.01M490.8,484.2h.01" stroke="#fff" stroke-width="0.9" stroke-linecap="square" fill="none"/>
<path d="M415.0,454.1h.01M412.2,458.5h.01M412.4,457.1h.01M414.7,456.6h.01M412.9,457.5h.01M412.8,451.3h.01M414.0,458.2h.01M416.2,456.4h.01M413.6,458.1h.01M412.9,456.6h.01M412.1,458.0h.01M413.5,456.8h.01M414.6,457.7h.01M411.9,457.6h.01M414.6,457.5h.01M420.2,452.8h.01M420.7,452.8h.01M417.3,454.8h.01M414.8,451.5h.01M417.5,453.6h.01M413.0,447.0h.01M418.1,454.8h.01M417.8,454.3h.01M416.8,452.6h.01M418.1,450.9h.01M417.0,456.1h.01M418.8,454.1h.01M417.0,454.6h.01M416.1,454.2h.01M419.0,452.2h.01M423.8,451.1h.01M425.1,449.7h.01M423.2,451.3h.01M425.4,449.3h.01M426.5,449.4h.01M421.4,451.6h.01M419.1,449.9h.01M425.9,449.1h.01M421.4,452.5h.01M421.0,449.2h.01M426.8,449.2h.01M426.1,449.3h.01M420.6,452.2h.01M422.2,452.0h.01M420.9,450.6h.01M423.6,451.3h.01M422.9,451.9h.01M424.4,450.5h.01M423.6,447.1h.01M424.6,450.5h.01M424.5,450.4h.01M422.7,448.2h.01M427.4,447.5h.01M428.0,444.3h.01M430.7,446.1h.01M430.6,444.6h.01M429.3,446.3h.01M428.3,445.8h.01M430.6,444.9h.01M429.1,447.6h.01M428.4,445.3h.01M426.4,447.4h.01M430.3,445.0h.01M428.3,445.4h.01M431.5,445.5h.01M428.9,445.6h.01M428.6,442.3h.01M428.5,447.1h.01M436.9,442.6h.01M434.9,443.5h.01M432.9,444.3h.01M435.3,442.0h.01M431.7,444.0h.01M434.6,443.0h.01M435.9,441.4h.01M433.2,441.9h.01M437.5,442.8h.01M431.3,444.1h.01M434.6,440.2h.01M436.2,439.7h.01M434.9,440.0h.01M433.1,442.4h.01M437.0,442.2h.01M432.4,444.6h.01M431.8,441.7h.01M434.5,442.6h.01M434.9,438.9h.01M431.6,441.0h.01M440.3,438.9h.01M443.1,440.3h.01M439.8,442.2h.01M440.2,442.1h.01M440.2,438.0h.01M437.4,439.1h.01M442.7,441.0h.01M444.0,436.6h.01M444.8,436.6h.01M442.1,441.5h.01M439.0,442.3h.01M441.3,435.3h.01M437.6,442.1h.01M438.3,441.6h.01M444.6,441.4h.01M445.0,436.5h.01M440.3,440.9h.01M443.2,440.4h.01M443.6,441.4h.01M438.3,441.5h.01M439.9,442.0h.01M440.5,436.9h.01M442.2,441.5h.01M444.4,440.9h.01M440.5,442.2h.01M446.6,438.4h.01M450.8,441.4h.01M449.8,440.1h.01M452.6,439.7h.01M450.6,441.1h.01M448.1,421.5h.01M447.0,441.3h.01M446.4,441.0h.01M451.7,439.2h.01M448.7,441.5h.01M446.0,441.3h.01M453.6,441.3h.01M453.5,440.1h.01M446.6,441.7h.01M451.2,441.4h.01M452.9,441.4h.01M449.4,440.2h.01M451.7,440.6h.01M451.3,440.6h.01M450.4,440.2h.01M450.0,440.6h.01M450.6,431.7h.01M449.9,436.1h.01M450.7,441.0h.01M449.5,440.8h.01M456.6,440.5h.01M455.3,439.8h.01M456.2,437.7h.01M460.1,440.9h.01M459.7,437.5h.01M462.3,439.9h.01M456.6,441.3h.01M461.0,439.3h.01M460.5,439.5h.01M462.0,439.8h.01M462.0,439.3h.01M458.3,429.2h.01M459.1,436.9h.01M462.4,439.9h.01M461.9,439.2h.01M459.3,440.8h.01M455.1,438.4h.01M457.0,440.5h.01M455.7,439.9h.01M462.2,439.3h.01M457.7,440.5h.01M457.6,436.9h.01M463.0,438.2h.01M460.1,438.1h.01M462.3,439.4h.01M465.9,440.0h.01M465.1,430.1h.01M471.3,439.2h.01M469.2,440.0h.01M467.3,441.6h.01M465.8,441.1h.01M464.9,441.4h.01M469.5,437.8h.01M464.5,440.8h.01M469.7,441.4h.01M467.9,441.8h.01M469.2,440.1h.01M467.7,440.7h.01M463.6,439.8h.01M466.6,439.6h.01M468.7,439.3h.01M463.2,437.5h.01M469.5,436.9h.01M463.6,439.8h.01M466.1,441.3h.01M468.3,441.3h.01M464.5,439.4h.01M469.4,440.4h.01M468.8,440.9h.01M467.7,441.3h.01M478.3,440.1h.01M477.2,441.5h.01M477.4,441.0h.01M477.7,441.9h.01M471.9,439.6h.01M474.6,442.1h.01M478.9,442.2h.01M477.9,441.0h.01M473.6,440.4h.01M479.6,441.7h.01M479.1,441.3h.01M476.8,442.2h.01M478.8,441.8h.01M473.2,441.1h.01M478.2,441.3h.01M474.5,441.8h.01M477.5,439.4h.01M475.9,435.7h.01M475.3,436.9h.01M475.2,441.5h.01M472.6,441.0h.01M472.3,440.9h.01M476.4,441.8h.01M478.0,441.8h.01M471.9,441.5h.01M485.7,443.8h.01M486.5,443.5h.01M484.7,443.2h.01M485.2,442.9h.01M483.8,443.5h.01M481.9,443.0h.01M485.1,442.8h.01M484.8,443.0h.01M481.2,443.1h.01M484.9,443.1h.01M482.3,442.9h.01M486.1,443.6h.01M483.1,443.3h.01M484.9,436.7h.01M488.0,436.0h.01M480.8,441.3h.01M486.8,434.1h.01M483.6,442.7h.01M485.5,443.6h.01M482.7,442.5h.01M481.4,442.6h.01M481.6,440.1h.01M490.5,443.6h.01M489.9,440.8h.01M490.6,446.0h.01M489.5,445.9h.01M490.3,445.1h.01M491.6,444.1h.01M492.6,438.3h.01M487.7,443.6h.01M487.9,443.1h.01M487.9,444.4h.01M489.0,445.6h.01M491.0,446.4h.01M490.4,442.7h.01M489.0,444.2h.01M489.1,443.9h.01M493.3,445.4h.01M492.9,445.7h.01M493.9,448.9h.01M492.8,449.1h.01M501.7,440.8h.01M492.4,447.1h.01M492.5,448.8h.01M495.5,449.3h.01M493.1,448.4h.01M492.5,447.6h.01M492.6,445.9h.01M493.0,449.6h.01M492.7,449.0h.01M490.8,446.6h.01M491.6,446.7h.01M494.2,444.8h.01M494.5,451.3h.01M492.7,449.8h.01M496.8,459.2h.01M494.6,458.7h.01M494.3,456.9h.01M495.1,452.5h.01M498.4,452.8h.01M495.9,459.2h.01M494.7,460.8h.01M495.3,453.7h.01M495.1,461.3h.01M496.6,461.1h.01M496.1,455.3h.01M494.9,459.2h.01M497.5,452.0h.01M494.0,451.8h.01M495.1,460.2h.01M494.8,457.6h.01M494.4,455.9h.01M494.9,459.1h.01M495.1,458.7h.01M496.5,456.9h.01M500.5,456.0h.01M495.3,451.5h.01M494.2,453.7h.01M499.8,461.6h.01M505.9,459.9h.01M499.7,453.9h.01M495.7,461.0h.01M494.9,453.4h.01M500.2,456.9h.01M494.9,461.1h.01M497.6,457.6h.01M496.8,467.1h.01M497.2,466.2h.01M494.3,467.1h.01M494.7,466.4h.01M497.4,463.7h.01M495.4,472.3h.01M497.1,466.7h.01M494.9,463.6h.01M494.2,468.5h.01M498.6,466.9h.01M497.3,465.9h.01M494.4,467.3h.01M495.2,471.0h.01M494.2,468.6h.01M495.9,462.2h.01M494.7,464.9h.01M496.3,463.7h.01M495.6,466.8h.01M500.3,471.2h.01M495.6,463.5h.01M495.9,467.2h.01M494.5,465.4h.01M495.0,471.7h.01M495.5,470.2h.01M495.8,472.3h.01M495.1,463.5h.01M497.1,468.4h.01M494.7,465.5h.01M495.7,463.2h.01M495.9,466.4h.01M494.2,468.5h.01M495.8,484.6h.01M495.6,483.6h.01M498.9,483.8h.01M495.5,480.1h.01M493.8,474.7h.01M492.6,484.9h.01M493.2,479.3h.01M496.7,475.2h.01M493.0,478.8h.01M493.4,484.6h.01M493.6,484.5h.01M496.7,475.9h.01M495.6,480.2h.01M494.2,479.1h.01M496.0,476.9h.01M494.4,475.8h.01M496.0,476.8h.01M492.4,485.2h.01M499.1,477.8h.01M497.9,477.4h.01M492.4,483.6h.01M496.0,483.4h.01M495.6,473.8h.01M496.6,476.2h.01M493.1,478.3h.01M495.3,473.7h.01M492.6,484.9h.01M495.5,477.4h.01M493.7,483.3h.01M493.5,475.6h.01M492.7,481.2h.01M492.6,484.1h.01M494.4,482.6h.01M494.9,473.8h.01M474.5,382.1h.01M476.7,379.7h.01M475.1,417.8h.01M484.4,395.4h.01M481.5,402.1h.01M467.3,424.4h.01M478.4,416.6h.01M479.5,418.6h.01M473.3,415.6h.01M476.2,410.8h.01M474.3,421.5h.01M482.8,414.4h.01M483.4,400.6h.01M486.7,402.4h.01M476.5,410.1h.01M483.5,415.5h.01M479.9,401.4h.01M483.1,424.3h.01M472.2,406.9h.01M481.8,420.5h.01M470.6,401.9h.01M479.1,407.4h.01M479.6,401.2h.01M473.6,415.3h.01M479.4,398.4h.01M482.5,415.7h.01M478.0,411.7h.01M482.1,413.5h.01M477.3,410.1h.01M484.4,428.8h.01M464.3,401.3h.01M465.8,402.5h.01M475.8,399.4h.01M480.1,412.0h.01M479.4,393.7h.01M476.6,416.6h.01M470.3,389.6h.01M477.7,449.1h.01M474.2,408.3h.01M480.7,426.5h.01M480.5,406.6h.01M477.7,416.4h.01M478.4,417.9h.01M474.4,414.2h.01M475.6,402.7h.01M477.0,421.9h.01M478.3,413.3h.01M477.9,410.6h.01M476.8,406.8h.01M467.3,413.1h.01M474.3,403.5h.01M473.3,417.0h.01M476.8,413.4h.01M479.0,415.3h.01M478.6,420.0h.01M482.9,419.6h.01M479.3,423.1h.01M475.5,397.4h.01M477.0,390.0h.01M474.3,412.6h.01M484.8,414.7h.01M474.8,417.0h.01M480.2,413.6h.01M481.8,401.8h.01M482.9,391.8h.01M477.5,418.2h.01M480.2,404.5h.01M468.1,394.4h.01M472.5,412.6h.01M486.9,403.9h.01M484.4,402.0h.01M477.7,413.6h.01M488.5,413.5h.01M467.7,403.7h.01M481.0,407.8h.01M481.4,408.3h.01M479.2,418.3h.01M489.1,409.2h.01M474.1,420.6h.01M481.5,391.4h.01M481.2,403.4h.01M478.2,423.7h.01M483.7,403.6h.01M479.7,404.5h.01M466.6,408.8h.01M469.6,401.2h.01M479.4,398.4h.01M474.7,393.6h.01M472.0,415.2h.01M481.2,387.9h.01M482.2,409.1h.01M474.7,397.0h.01M479.7,403.2h.01M473.8,411.8h.01M480.0,392.9h.01M479.8,410.2h.01M481.6,422.0h.01M478.2,399.6h.01M483.2,417.3h.01M473.6,402.0h.01M476.9,420.5h.01M478.5,430.9h.01M471.8,422.3h.01M474.1,407.5h.01M476.1,426.8h.01M484.6,390.5h.01M479.7,417.3h.01M480.1,414.3h.01M471.6,422.0h.01M483.2,402.3h.01M480.4,418.9h.01M480.0,417.3h.01M472.3,403.9h.01M479.4,418.2h.01M483.0,400.1h.01M474.0,404.0h.01M475.0,428.6h.01M484.6,411.6h.01M484.2,405.6h.01M478.7,410.9h.01M478.2,402.8h.01M471.2,417.9h.01M475.7,401.6h.01M473.0,386.8h.01M472.7,412.3h.01M473.6,388.5h.01M473.2,385.7h.01M479.9,381.8h.01M477.5,427.2h.01M478.1,415.6h.01M471.1,433.3h.01M476.3,419.5h.01M489.9,395.5h.01M477.7,399.3h.01M478.3,406.2h.01M479.3,410.3h.01M475.7,417.4h.01M480.9,400.3h.01M480.9,399.3h.01M474.4,417.5h.01M482.7,413.7h.01M490.0,400.7h.01M479.5,407.8h.01M468.8,417.7h.01M478.5,413.5h.01M478.1,414.6h.01M477.0,391.9h.01M479.1,409.7h.01M475.0,390.5h.01M478.4,414.2h.01M486.1,407.4h.01M480.4,413.1h.01M475.9,404.1h.01M474.9,412.6h.01M482.2,417.2h.01M468.3,404.1h.01M482.1,410.3h.01M483.1,416.4h.01M479.7,418.9h.01M484.5,406.8h.01M474.2,396.3h.01M479.7,426.7h.01M479.6,409.1h.01M479.9,401.0h.01M479.7,426.0h.01M479.3,404.4h.01M479.4,422.8h.01M479.1,423.1h.01M478.6,409.8h.01M474.5,413.4h.01M480.8,423.3h.01M482.7,405.8h.01M470.4,403.6h.01M485.6,386.8h.01M476.0,416.2h.01M483.3,402.2h.01M479.5,405.7h.01M478.1,404.4h.01M479.2,414.3h.01M474.2,419.1h.01M471.2,387.3h.01M471.7,416.5h.01M473.4,416.0h.01M477.5,411.2h.01M477.2,428.4h.01M479.8,393.3h.01M472.8,414.3h.01M478.9,418.0h.01M484.0,409.8h.01M472.5,418.1h.01M473.4,410.4h.01M473.0,416.0h.01M485.8,395.6h.01M476.2,422.3h.01M479.6,438.0h.01M481.2,420.0h.01M482.9,411.0h.01M476.7,410.5h.01M480.8,421.0h.01M473.4,411.6h.01M481.6,413.4h.01M476.2,414.4h.01M474.7,405.3h.01M469.9,406.4h.01M483.2,411.2h.01M470.7,391.5h.01M474.1,389.6h.01M475.7,403.0h.01M480.7,392.2h.01M466.4,412.2h.01M487.7,417.6h.01M473.7,421.2h.01M478.4,403.3h.01M476.6,410.1h.01M489.4,416.5h.01M478.5,421.9h.01M485.8,428.3h.01M467.9,409.0h.01M476.7,422.7h.01M477.6,425.3h.01M475.8,395.5h.01M473.9,405.0h.01M478.4,409.3h.01M481.1,424.8h.01M486.9,406.2h.01M477.8,437.5h.01M471.4,414.0h.01M473.4,397.3h.01M485.1,393.1h.01M473.3,432.2h.01M474.5,426.0h.01M481.3,423.7h.01M472.6,445.3h.01M475.0,400.2h.01M479.9,408.7h.01M477.4,393.4h.01M482.9,411.4h.01M492.7,441.9h.01M483.1,419.6h.01M475.1,408.4h.01M483.4,404.0h.01M474.7,403.9h.01M480.0,418.4h.01M480.7,411.7h.01M472.6,410.3h.01M477.7,403.7h.01M479.1,423.5h.01M475.9,400.8h.01M478.2,415.7h.01M474.4,418.5h.01M478.6,401.8h.01M473.1,426.0h.01M477.9,413.1h.01M488.2,405.6h.01M475.9,418.6h.01M474.2,412.0h.01M479.8,386.7h.01M476.3,398.7h.01M483.7,387.2h.01M480.4,425.6h.01M484.2,439.8h.01M478.9,398.7h.01M477.3,400.4h.01M482.9,415.4h.01M482.3,415.8h.01M481.4,398.0h.01M477.2,417.9h.01M472.0,405.1h.01M480.0,406.0h.01M472.3,412.7h.01M475.3,415.2h.01M472.9,419.6h.01M479.0,419.5h.01M466.0,405.4h.01M473.0,411.2h.01M483.3,413.0h.01M476.1,414.7h.01M470.8,412.6h.01M472.8,425.1h.01M476.3,406.9h.01M483.2,414.3h.01M472.6,401.0h.01M478.1,420.5h.01M476.5,398.7h.01M474.0,408.5h.01M473.6,400.5h.01M485.7,410.3h.01M484.6,403.7h.01M473.7,411.9h.01M476.0,398.5h.01M476.4,415.1h.01M471.4,398.9h.01M477.8,403.4h.01M479.5,425.7h.01M484.5,427.4h.01M483.7,402.9h.01M477.0,424.7h.01M478.0,399.5h.01M473.6,397.4h.01M484.6,399.2h.01M474.5,397.4h.01M482.6,400.0h.01M475.9,400.8h.01M482.4,419.2h.01M479.7,439.9h.01M479.4,434.0h.01M475.9,416.5h.01M473.7,405.3h.01M484.3,409.4h.01M480.9,415.9h.01M481.9,418.7h.01M473.3,408.3h.01M475.0,399.0h.01M480.6,394.3h.01M477.0,431.6h.01M481.0,411.6h.01M489.4,415.0h.01M468.3,405.1h.01M479.6,409.7h.01M478.3,408.6h.01M474.9,390.5h.01M469.8,426.0h.01M478.1,396.6h.01M476.9,416.6h.01M482.9,416.6h.01M474.4,408.8h.01M475.5,409.1h.01M475.2,426.2h.01M481.0,421.4h.01M484.3,427.7h.01M480.2,435.8h.01M488.5,395.4h.01M476.0,427.0h.01M489.4,423.1h.01M477.0,407.0h.01M479.0,414.2h.01M470.9,432.1h.01M478.6,400.1h.01M477.8,408.4h.01M472.8,406.8h.01M487.3,421.8h.01M473.1,397.7h.01M481.4,419.4h.01M482.5,401.1h.01M474.0,400.3h.01M477.0,411.4h.01M478.1,417.2h.01M478.9,412.1h.01M474.5,389.5h.01M479.9,431.7h.01M470.5,425.4h.01M477.8,419.7h.01M474.1,408.6h.01M477.1,428.5h.01M474.9,401.2h.01M471.1,412.9h.01M468.4,395.9h.01M466.1,398.0h.01M472.2,411.7h.01M481.8,411.8h.01M476.8,410.2h.01M475.2,412.1h.01M476.4,433.7h.01M479.6,407.1h.01M472.7,403.0h.01M481.4,413.2h.01M472.5,407.4h.01M475.9,408.2h.01M472.4,399.7h.01M479.8,423.8h.01M486.9,400.3h.01M473.1,400.7h.01M477.5,397.4h.01M476.2,399.3h.01M470.0,403.6h.01M471.8,402.0h.01M474.1,417.1h.01M474.5,399.7h.01M473.0,414.1h.01M475.8,425.6h.01M479.8,404.7h.01M473.9,398.6h.01M472.8,397.1h.01M476.9,411.0h.01M473.6,420.6h.01M469.8,390.9h.01M473.6,396.0h.01M472.4,426.5h.01M484.5,427.4h.01M472.1,410.8h.01M475.3,396.6h.01M480.0,409.8h.01M483.6,416.0h.01M478.0,418.2h.01M483.5,409.8h.01M476.3,420.6h.01M478.1,418.7h.01M486.4,433.6h.01M477.1,399.2h.01M487.8,429.8h.01M479.2,406.7h.01M481.7,399.3h.01M482.8,408.8h.01M476.9,410.6h.01M474.3,406.1h.01M480.1,404.4h.01M480.8,403.0h.01M480.2,392.9h.01M483.4,403.9h.01M475.1,416.9h.01M477.7,415.3h.01M476.2,419.6h.01M477.8,408.8h.01M471.7,409.8h.01M481.6,424.8h.01M479.6,428.3h.01M482.4,430.7h.01M476.7,414.7h.01M479.4,416.3h.01M480.4,417.4h.01M482.2,408.0h.01M471.1,421.9h.01M479.4,412.2h.01M480.5,402.5h.01M478.9,416.5h.01M471.3,420.8h.01M474.3,411.8h.01M475.7,419.6h.01M477.5,430.4h.01M481.6,416.1h.01M477.4,407.0h.01M484.1,406.4h.01M475.7,403.9h.01M480.2,431.2h.01M478.3,409.7h.01M478.8,403.0h.01M483.3,417.2h.01M485.3,422.4h.01M479.7,402.2h.01M481.1,420.9h.01M477.5,406.8h.01M476.8,404.3h.01M475.4,414.8h.01M482.8,416.9h.01M474.2,434.1h.01M484.0,399.5h.01M470.5,408.8h.01M474.8,421.2h.01M472.6,406.5h.01M468.5,417.7h.01M485.5,408.7h.01M480.1,402.4h.01M480.6,413.7h.01M469.2,410.0h.01M476.4,384.6h.01M478.2,400.5h.01M482.8,414.5h.01M472.7,430.4h.01M482.6,402.0h.01M478.7,391.7h.01M472.2,408.5h.01M485.9,404.0h.01M464.5,395.3h.01M482.5,425.8h.01M473.4,406.9h.01M482.0,420.9h.01M479.6,404.8h.01M489.1,389.8h.01M479.6,423.7h.01M473.1,411.0h.01M480.3,416.2h.01M486.3,402.1h.01M483.0,405.9h.01M475.8,410.0h.01M471.7,416.7h.01M479.3,409.8h.01M476.7,407.0h.01M480.7,408.6h.01M475.1,394.7h.01M479.0,422.3h.01M474.8,413.4h.01M476.1,412.5h.01M474.1,380.5h.01M472.7,407.0h.01M474.8,409.4h.01M477.0,392.4h.01M481.3,416.8h.01M483.0,422.5h.01M487.4,412.2h.01M486.0,418.7h.01M479.6,423.2h.01M474.7,383.6h.01M479.5,405.3h.01M476.4,398.1h.01M480.2,421.1h.01M478.4,409.1h.01M475.6,396.4h.01M481.6,401.2h.01M477.6,432.4h.01M483.3,421.1h.01M477.1,413.7h.01M482.2,429.5h.01M483.5,431.5h.01M484.3,431.1h.01M484.3,415.5h.01M471.0,406.7h.01M480.6,406.3h.01M483.9,409.4h.01M478.8,401.9h.01M485.3,409.7h.01M474.1,411.4h.01M482.0,399.8h.01M487.6,408.4h.01M477.4,391.6h.01M482.1,428.8h.01M477.0,404.9h.01M479.6,412.2h.01M479.1,429.2h.01M478.3,392.4h.01M469.7,429.9h.01M479.5,416.7h.01M474.0,413.2h.01M476.7,388.3h.01M477.3,399.8h.01M473.8,405.2h.01M471.8,405.7h.01M482.9,428.2h.01M480.8,391.6h.01M480.5,414.6h.01M477.5,389.1h.01M469.1,392.0h.01M474.4,413.7h.01M473.4,411.6h.01M471.2,423.7h.01M474.1,426.3h.01M476.6,408.7h.01M467.7,408.5h.01M471.8,392.0h.01M467.3,381.4h.01M482.5,412.9h.01M480.2,428.3h.01M475.5,426.4h.01M477.0,408.2h.01M474.2,403.2h.01M477.4,426.6h.01M475.2,404.1h.01M477.0,405.6h.01M487.1,418.2h.01M488.2,397.9h.01M485.5,409.4h.01M472.0,404.1h.01M466.0,404.0h.01M482.6,407.4h.01M479.3,423.6h.01M469.6,419.7h.01M483.5,402.5h.01M482.8,417.0h.01M481.7,420.3h.01M480.6,394.4h.01M474.7,411.4h.01M486.5,400.2h.01M475.9,410.3h.01M475.3,399.6h.01M473.7,416.7h.01M477.1,416.2h.01M474.0,398.7h.01M470.1,418.1h.01M474.6,409.9h.01M476.8,424.6h.01M474.0,395.9h.01M477.4,399.2h.01M478.2,394.9h.01M477.4,415.9h.01M470.8,394.1h.01M486.1,403.6h.01M480.4,396.2h.01M477.6,419.6h.01M480.0,403.0h.01M471.3,411.4h.01M479.9,410.6h.01M480.2,429.5h.01M478.0,405.2h.01M485.0,438.8h.01M481.9,427.8h.01M469.0,398.0h.01M477.3,404.8h.01M478.4,391.9h.01M488.8,417.1h.01M476.1,422.4h.01M471.3,407.7h.01M475.9,408.2h.01M481.1,398.9h.01M482.2,417.9h.01M479.4,421.3h.01M475.9,391.1h.01M479.6,418.0h.01M484.3,406.8h.01M480.1,424.5h.01M477.5,414.5h.01M476.2,405.3h.01M482.2,423.4h.01M479.3,409.1h.01M477.5,403.6h.01M478.3,410.8h.01M485.4,412.4h.01M478.2,409.0h.01M478.4,412.9h.01M473.9,415.6h.01M480.7,429.8h.01M483.0,419.9h.01M481.9,423.1h.01M479.7,415.5h.01M481.3,409.4h.01M470.6,415.1h.01M483.7,409.9h.01M482.9,421.4h.01M474.9,396.1h.01M470.7,424.1h.01M483.2,415.6h.01M467.0,403.0h.01M478.2,401.6h.01M472.6,420.4h.01M476.2,412.8h.01M482.9,409.4h.01M479.3,415.1h.01M488.2,412.4h.01M481.5,421.4h.01M485.4,403.3h.01M474.1,404.9h.01M473.4,391.5h.01M478.4,418.0h.01M471.9,418.2h.01M482.5,400.2h.01M476.7,428.4h.01M478.9,414.4h.01M483.9,410.9h.01M472.7,403.9h.01M474.5,407.5h.01M479.1,424.8h.01M472.8,417.7h.01M482.2,403.4h.01M477.4,405.9h.01M475.9,410.2h.01M478.5,417.0h.01M475.3,414.5h.01M481.3,406.1h.01M476.9,414.2h.01M471.7,424.8h.01M467.6,403.0h.01M472.3,398.9h.01M469.2,419.7h.01M474.9,412.0h.01M478.9,430.3h.01M480.4,412.6h.01M472.3,397.5h.01M470.5,413.6h.01M471.8,417.4h.01M482.4,412.9h.01M483.8,407.5h.01M473.8,423.5h.01M482.9,408.1h.01M469.6,420.7h.01M479.6,403.4h.01M475.5,401.6h.01M472.2,426.5h.01M470.4,429.4h.01M467.7,412.0h.01M480.9,418.5h.01M487.0,414.8h.01M481.8,401.5h.01M464.8,416.7h.01M474.3,416.4h.01M484.6,429.6h.01M479.4,396.7h.01M476.3,388.3h.01M476.4,405.2h.01M471.6,391.3h.01M472.4,411.9h.01M475.5,404.1h.01M478.6,427.2h.01M479.9,409.8h.01M474.5,398.3h.01M480.3,411.6h.01M474.9,426.6h.01M480.7,418.2h.01M471.5,396.8h.01M486.8,409.4h.01M479.8,423.7h.01M472.6,401.0h.01M473.6,403.5h.01M478.0,427.0h.01M482.7,397.6h.01M470.8,385.8h.01M477.4,425.0h.01M480.8,395.2h.01M485.6,420.1h.01M478.2,412.0h.01M458.1,442.9h.01M466.4,424.6h.01M463.3,405.5h.01M459.5,427.6h.01M473.7,407.4h.01M470.9,412.7h.01M484.7,424.8h.01M482.5,423.1h.01M487.7,391.2h.01M477.5,427.4h.01M470.7,431.3h.01M485.1,438.3h.01M481.5,433.5h.01M474.4,438.6h.01M483.0,430.1h.01M476.8,418.0h.01M477.1,424.7h.01M482.1,403.4h.01M476.8,447.9h.01M480.3,433.3h.01M474.6,402.5h.01M478.3,421.6h.01M483.8,448.7h.01M481.4,413.5h.01M486.8,425.5h.01M481.4,446.0h.01M488.2,408.9h.01M478.3,397.7h.01M479.8,408.9h.01M475.8,418.0h.01M473.0,406.7h.01M490.0,417.7h.01M464.0,425.9h.01M466.5,410.8h.01M481.7,420.5h.01M475.4,440.2h.01M485.7,410.8h.01M476.6,401.5h.01M479.7,427.9h.01M464.3,409.3h.01M465.2,429.7h.01M472.5,429.8h.01M480.0,431.7h.01M472.6,417.0h.01M476.9,419.3h.01M475.1,408.1h.01M482.1,415.9h.01M488.1,423.2h.01M465.3,436.6h.01M471.7,407.9h.01M469.6,403.3h.01M473.5,427.5h.01M470.1,406.1h.01M480.5,422.3h.01M472.9,422.4h.01M468.1,418.0h.01M472.2,440.8h.01M475.8,415.2h.01M455.4,396.7h.01M457.8,396.7h.01M476.6,429.1h.01M473.3,428.4h.01M479.3,428.4h.01M461.4,419.8h.01M476.3,416.3h.01M477.2,401.6h.01M475.9,421.5h.01M478.7,414.6h.01M475.8,431.1h.01M481.6,390.0h.01M489.4,407.2h.01M481.1,407.9h.01M481.5,423.3h.01M478.5,425.0h.01M480.6,428.5h.01M482.4,423.4h.01M479.7,412.4h.01M460.4,418.6h.01M488.8,422.0h.01M474.1,419.1h.01M487.0,405.3h.01M492.4,439.7h.01M465.9,411.4h.01M476.5,423.2h.01M472.5,400.3h.01M476.9,423.1h.01M469.9,415.0h.01M467.0,441.7h.01M472.3,417.4h.01M472.0,400.3h.01M458.0,406.7h.01M464.5,422.9h.01M482.4,423.8h.01M473.4,433.1h.01M472.1,419.5h.01M475.0,415.9h.01M475.8,437.2h.01M483.1,421.8h.01M480.7,400.4h.01M472.6,425.5h.01M476.0,393.8h.01M483.3,426.6h.01M464.2,414.1h.01M480.4,443.1h.01M464.9,405.3h.01M487.5,413.7h.01M472.8,410.4h.01M474.9,432.4h.01M480.0,403.7h.01M472.9,447.6h.01M453.9,416.2h.01M468.5,402.6h.01M462.1,453.3h.01M464.1,422.5h.01M468.0,429.0h.01M479.4,431.2h.01M464.7,431.1h.01M478.9,427.2h.01M470.4,408.4h.01M477.2,418.3h.01M461.9,428.7h.01M476.2,407.9h.01M468.0,418.7h.01M479.3,420.2h.01M478.2,446.1h.01M478.3,430.0h.01M464.4,412.9h.01M471.9,411.0h.01M475.3,421.8h.01M478.1,407.8h.01M474.6,428.6h.01M471.4,420.3h.01M474.3,425.4h.01M479.6,434.8h.01M474.2,425.5h.01M477.9,416.7h.01M470.3,425.6h.01M482.3,423.9h.01M464.6,427.2h.01M475.5,432.7h.01M485.2,409.2h.01M470.8,423.0h.01M480.1,390.7h.01M477.0,445.3h.01M469.6,430.6h.01M481.9,421.6h.01M476.3,428.7h.01M485.0,391.6h.01M470.0,441.3h.01M472.7,436.3h.01M482.0,446.8h.01M465.4,418.3h.01M478.7,404.8h.01M463.4,421.3h.01M465.7,422.7h.01M474.6,427.1h.01M479.6,454.1h.01M474.7,418.7h.01M480.1,435.9h.01M452.0,417.2h.01M478.5,417.1h.01M483.9,385.2h.01M475.5,387.8h.01M467.7,432.5h.01M470.3,398.7h.01M472.9,396.4h.01M468.6,439.7h.01M459.3,401.0h.01M471.0,436.2h.01M484.7,403.2h.01M474.5,413.1h.01M479.9,429.4h.01M474.8,417.3h.01M473.8,414.5h.01M478.2,429.8h.01M463.9,413.8h.01M481.4,416.9h.01M489.6,433.1h.01M460.8,404.4h.01M475.1,413.3h.01M472.4,427.0h.01M469.8,423.3h.01M487.0,398.9h.01M488.2,469.4h.01M483.7,417.0h.01M489.6,397.7h.01M475.3,407.7h.01M466.6,403.9h.01M471.2,432.5h.01M480.0,424.0h.01M477.9,409.3h.01M473.5,406.8h.01M474.4,409.7h.01M486.1,430.0h.01M475.8,428.8h.01M466.9,423.5h.01M485.6,407.2h.01M468.1,425.5h.01M472.6,416.0h.01M472.8,436.9h.01M486.1,413.5h.01M481.2,452.9h.01M477.6,411.2h.01M474.6,422.5h.01M476.4,410.9h.01M481.9,401.7h.01M477.7,403.5h.01M476.1,423.5h.01M474.9,418.8h.01M462.3,417.3h.01M481.5,430.8h.01M471.6,418.1h.01M479.3,437.0h.01M478.1,426.6h.01M479.4,450.0h.01M479.1,416.2h.01M468.6,414.1h.01M482.0,421.9h.01M475.1,417.9h.01M482.3,417.2h.01M464.7,445.9h.01M478.7,425.3h.01M469.2,421.9h.01M471.6,435.6h.01M483.9,415.8h.01M483.4,423.4h.01M481.1,408.9h.01M481.6,423.7h.01M477.1,432.0h.01M471.0,437.6h.01M475.5,416.1h.01M485.1,439.1h.01M486.0,403.9h.01M481.4,437.9h.01M486.7,428.9h.01M478.7,444.5h.01M481.0,407.8h.01M473.1,389.1h.01M485.0,408.3h.01M470.4,411.9h.01M474.2,413.5h.01M472.7,421.4h.01M485.9,430.5h.01M471.1,424.0h.01M482.3,416.6h.01M467.0,416.3h.01M486.2,457.9h.01M476.9,392.6h.01M470.6,447.2h.01M492.1,403.4h.01M478.0,426.8h.01M479.0,422.8h.01M475.2,416.0h.01M468.7,422.7h.01M475.7,416.0h.01M472.3,387.8h.01M473.6,432.7h.01M475.6,408.9h.01M481.1,400.4h.01M463.9,439.1h.01M469.8,438.1h.01M441.0,444.6h.01M457.5,397.2h.01M468.9,410.7h.01M451.1,438.0h.01M469.0,434.0h.01M486.6,414.7h.01M467.4,438.4h.01M450.5,435.8h.01M455.5,423.7h.01M470.0,420.5h.01M464.6,412.2h.01M473.9,426.5h.01M447.4,418.9h.01M462.4,431.0h.01M468.0,413.8h.01M462.0,410.1h.01M468.3,447.5h.01M446.7,409.5h.01M443.2,421.1h.01M467.6,430.1h.01M448.0,423.1h.01M459.1,430.5h.01M464.9,425.5h.01M467.6,423.3h.01M458.3,415.1h.01M462.8,436.9h.01M462.7,440.3h.01M459.8,440.3h.01M461.0,433.0h.01M459.4,420.6h.01M471.7,424.8h.01M460.8,443.9h.01M469.8,422.4h.01M461.1,419.1h.01M470.4,427.7h.01M462.9,428.2h.01M448.5,424.3h.01M459.7,438.1h.01M454.0,433.2h.01M466.7,439.6h.01M460.8,426.0h.01M467.7,422.7h.01M455.1,429.1h.01M457.3,419.0h.01M453.1,423.0h.01M457.8,427.8h.01M472.5,426.8h.01M452.6,444.9h.01M457.1,445.0h.01M457.6,430.3h.01M454.8,424.3h.01M471.1,456.9h.01M472.4,423.6h.01M467.3,414.1h.01M460.3,433.0h.01M456.3,424.8h.01M462.4,414.6h.01M465.2,445.0h.01M473.2,425.7h.01M472.7,425.9h.01M473.1,429.2h.01M448.6,445.9h.01M436.8,424.4h.01M467.1,436.4h.01M465.2,428.3h.01M461.4,425.5h.01M463.9,438.5h.01M468.4,424.5h.01M477.5,428.4h.01M460.2,422.8h.01M480.0,419.2h.01M479.2,420.7h.01M447.1,423.5h.01M472.2,438.1h.01M456.5,435.2h.01M460.4,431.8h.01M468.3,412.2h.01M474.0,428.7h.01M474.4,429.8h.01M474.7,450.1h.01M456.9,439.1h.01M460.3,449.6h.01M470.5,428.4h.01M464.5,444.4h.01M448.2,442.3h.01M459.6,432.6h.01M457.9,429.2h.01M469.0,437.9h.01M455.8,424.9h.01M467.2,439.0h.01M451.2,431.9h.01M459.4,423.2h.01M465.6,428.3h.01M466.3,413.0h.01M467.1,435.4h.01M453.9,449.2h.01M448.5,436.3h.01M464.5,429.5h.01M464.2,442.2h.01M442.8,434.6h.01M468.5,414.7h.01M487.4,427.5h.01M465.2,425.1h.01M457.5,431.3h.01M453.0,420.3h.01M465.4,430.2h.01M448.3,431.1h.01M452.6,434.3h.01M451.7,416.4h.01M459.3,418.0h.01M471.5,445.8h.01M468.6,429.7h.01M466.9,440.5h.01M458.7,424.8h.01M449.0,426.8h.01M460.5,424.4h.01M460.9,420.1h.01M458.1,431.4h.01M469.6,416.4h.01M466.6,416.9h.01M469.8,434.5h.01M466.0,430.2h.01M462.0,428.0h.01M459.8,429.9h.01M464.7,397.5h.01M471.3,429.9h.01M469.5,426.8h.01M451.1,455.5h.01M470.7,423.3h.01M453.5,412.4h.01M461.6,428.5h.01M451.2,438.9h.01M472.5,425.6h.01M453.7,433.2h.01M460.3,426.7h.01M483.2,415.1h.01M463.1,428.2h.01M459.8,433.2h.01M464.5,408.0h.01M439.0,421.2h.01M462.9,434.5h.01M453.8,435.3h.01M469.2,449.3h.01M462.0,419.8h.01M463.2,436.1h.01M450.5,436.9h.01M466.0,403.9h.01M458.9,424.5h.01M430.5,443.6h.01M433.6,425.9h.01M458.4,406.3h.01M437.1,436.9h.01M428.0,386.0h.01M448.1,454.4h.01M427.9,422.4h.01M442.2,406.0h.01M455.0,415.5h.01M449.3,435.9h.01M455.3,411.9h.01M453.0,414.1h.01M444.1,432.6h.01M448.8,403.4h.01M462.8,402.6h.01M441.2,431.3h.01M433.3,438.2h.01M449.5,428.3h.01M452.3,430.6h.01M458.7,400.1h.01M452.4,434.6h.01M476.1,398.1h.01M456.9,453.1h.01M492.7,438.2h.01M439.2,451.4h.01M470.0,424.2h.01M471.8,408.1h.01M445.7,416.4h.01M454.3,453.4h.01M457.7,412.6h.01M442.8,436.0h.01M449.3,429.2h.01M456.0,415.0h.01M443.8,409.4h.01M428.1,425.3h.01M451.4,395.8h.01M473.8,422.6h.01M452.1,419.5h.01M455.0,442.4h.01M462.2,407.3h.01M455.9,416.1h.01M450.6,445.9h.01M454.3,410.4h.01M440.3,413.7h.01M451.1,405.9h.01M443.5,441.5h.01M448.2,407.5h.01M449.9,409.4h.01M444.3,420.0h.01M445.1,432.1h.01M460.8,426.4h.01M445.6,430.0h.01M426.3,418.7h.01M457.9,410.5h.01M455.4,424.5h.01M467.2,404.4h.01M450.1,389.5h.01M446.0,425.0h.01M462.2,427.7h.01M452.6,414.1h.01M447.4,422.2h.01M455.4,437.3h.01M435.1,392.9h.01M448.3,429.2h.01M459.2,423.4h.01M452.6,420.2h.01M463.1,431.5h.01M426.8,428.2h.01M446.9,420.5h.01M485.6,442.9h.01M491.2,437.2h.01M478.7,441.7h.01M470.1,439.6h.01M477.1,440.3h.01M494.3,439.4h.01M499.8,436.3h.01M469.1,442.2h.01M479.0,439.9h.01M485.2,438.1h.01M480.9,433.3h.01M478.9,442.6h.01M472.9,437.3h.01M460.6,441.0h.01M455.0,441.9h.01M477.3,435.9h.01M488.7,435.0h.01M473.2,438.9h.01M475.2,435.8h.01M473.6,438.6h.01M460.1,443.4h.01M470.2,435.2h.01M469.4,434.1h.01M472.8,436.0h.01M480.5,443.3h.01M492.6,434.5h.01M471.3,438.2h.01M475.9,437.4h.01M464.0,438.1h.01M481.4,437.6h.01M480.8,442.4h.01M462.0,431.5h.01M481.3,439.3h.01M463.9,438.7h.01M485.7,438.7h.01M476.0,433.9h.01M479.3,439.4h.01M478.7,433.2h.01M466.2,436.6h.01M478.6,434.0h.01M466.1,444.7h.01M490.3,441.2h.01M468.4,439.2h.01M477.9,447.6h.01M475.7,441.3h.01M493.7,441.1h.01M479.2,436.9h.01M481.9,440.6h.01M487.2,438.8h.01M485.4,432.8h.01M455.7,437.8h.01M475.7,441.3h.01M476.9,443.4h.01M474.0,438.4h.01M457.2,438.5h.01M486.0,434.1h.01M484.0,434.5h.01M465.7,438.1h.01M481.2,443.1h.01M471.3,438.0h.01M473.0,438.0h.01M475.5,436.5h.01M475.4,438.4h.01M474.5,437.6h.01M478.7,437.3h.01M480.4,434.8h.01M484.9,437.0h.01M485.3,442.7h.01M478.6,445.3h.01M471.8,438.4h.01M473.2,436.5h.01M477.7,439.6h.01M478.4,440.8h.01M482.5,441.5h.01M467.8,439.7h.01M466.5,436.1h.01M471.2,435.0h.01M480.7,436.3h.01M477.8,438.6h.01M491.9,433.6h.01M465.1,442.2h.01M460.9,434.5h.01M483.8,435.9h.01M476.5,442.1h.01M486.6,436.8h.01M476.9,438.7h.01M464.4,444.0h.01M465.6,441.5h.01M493.0,432.3h.01M477.0,433.3h.01M472.1,447.0h.01M482.5,431.8h.01M488.9,440.0h.01M476.4,436.0h.01M473.9,441.9h.01M477.9,439.9h.01M483.1,441.6h.01M492.2,438.6h.01M472.4,439.6h.01M477.9,441.5h.01M445.2,398.1h.01M439.3,409.8h.01M496.8,427.9h.01M500.1,455.1h.01M499.0,458.5h.01M442.6,420.9h.01" stroke="#000" stroke-width="1.3" stroke-linecap="square" fill="none"/>
</g>
<rect x="411.9" y="379.2" width="107.0" height="106" fill="none" stroke="#000" stroke-width="1.2"/>
<path d="M409.70,458.70L411.30,458.70" stroke="#888" stroke-width="0.6" fill="none"/>
<path d="M438.70,485.80L438.70,487.40" stroke="#888" stroke-width="0.6" fill="none"/>
<path d="M409.70,432.20L411.30,432.20" stroke="#888" stroke-width="0.6" fill="none"/>
<path d="M465.50,485.80L465.50,487.40" stroke="#888" stroke-width="0.6" fill="none"/>
<path d="M409.70,405.70L411.30,405.70" stroke="#888" stroke-width="0.6" fill="none"/>
<path d="M492.30,485.80L492.30,487.40" stroke="#888" stroke-width="0.6" fill="none"/>
<path d="M412.20,485.80L412.20,487.40" stroke="#888" stroke-width="0.6" fill="none"/>
<text x="514.90" y="392.80" font-size="9.6" text-anchor="end" font-weight="normal" font-style="normal" fill="#000" stroke="#000" stroke-width="0.22">7.92</text>
<text x="331.30" y="376.10" font-size="9.3" text-anchor="start" font-weight="normal" font-style="normal" fill="#000" textLength="23.80" lengthAdjust="spacingAndGlyphs" stroke="#000" stroke-width="0.22">Naive</text>
<text x="460.00" y="376.00" font-size="9.3" text-anchor="start" font-weight="normal" font-style="italic" fill="#000" textLength="14.30" lengthAdjust="spacingAndGlyphs" stroke="#000" stroke-width="0.22">jinx</text>
<text x="320.00" y="498.70" font-size="9.3" text-anchor="start" font-weight="normal" font-style="normal" fill="#000" textLength="41.20" lengthAdjust="spacingAndGlyphs" stroke="#000" stroke-width="0.22">C57BL/6J</text>
<text x="439.30" y="499.00" font-size="9.3" text-anchor="start" font-weight="normal" font-style="italic" fill="#000" textLength="50.50" lengthAdjust="spacingAndGlyphs" stroke="#000" stroke-width="0.22">jinx;Myd88</text>
<text x="491.30" y="495.20" font-size="5" text-anchor="start" font-weight="normal" font-style="italic" fill="#000" textLength="6.30" lengthAdjust="spacingAndGlyphs">poc</text>
<text x="273.80" y="470.00" font-size="10" text-anchor="middle" font-weight="normal" font-style="normal" fill="#000" transform="rotate(-90 273.80 470.00)" stroke="#000" stroke-width="0.22">IFNγ</text>
<path d="M271.50,453.80L271.50,414.00" stroke="#000" stroke-width="1.3" fill="none"/>
<path d="M271.5,405 L275.6,419 L271.5,415.6 L267.4,419Z" fill="#000"/>
<text x="295.60" y="519.50" font-size="10.8" text-anchor="start" font-weight="normal" font-style="normal" fill="#000" textLength="21.90" lengthAdjust="spacingAndGlyphs" stroke="#000" stroke-width="0.22">CD8</text>
<path d="M324.50,515.50L364.00,515.50" stroke="#000" stroke-width="1.3" fill="none"/>
<path d="M373.8,515.5 L359.4,511.2 L363.4,515.5 L359.4,519.8Z" fill="#000"/></svg></body></html>
